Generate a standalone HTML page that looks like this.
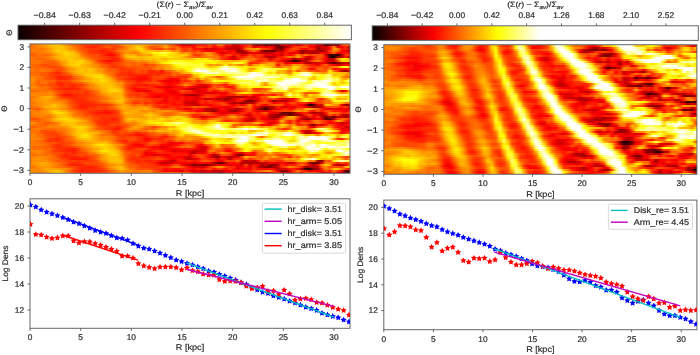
<!DOCTYPE html>
<html><head><meta charset="utf-8"><style>
html,body{margin:0;padding:0;background:#fff;}
#fig{position:relative;width:700px;height:355px;overflow:hidden;background:#fff;font-family:"Liberation Sans", sans-serif;}
svg text{font-family:"Liberation Sans", sans-serif;fill:#262626;stroke:#3a3a3a;stroke-width:0.22px;text-rendering:geometricPrecision;}
</style></head><body><div id="fig">
<div style="position:absolute;left:30.00px;top:43.90px;width:320.00px;height:129.40px;overflow:hidden"><div style="height:2px;background:linear-gradient(90deg,#ff7000 0px,#ff7500 4px,#ff8900 8px,#ff9100 12px,#ff9b00 16px,#ffb400 20px,#ffc400 24px,#ffc100 28px,#ffb800 32px,#ff9700 36px,#ff7c00 40px,#ff6500 44px,#ff5200 48px,#ff4800 52px,#ff3400 56px,#ff3100 60px,#ff2800 64px,#ff2700 68px,#ff3300 72px,#ff4600 76px,#ff4000 80px,#ff4b00 84px,#ff5800 88px,#ff7800 92px,#ffa000 96px,#ff9c00 100px,#ffa600 104px,#ffb200 108px,#ffaa00 112px,#ffa400 116px,#ff8500 120px,#ff7300 124px,#ff6e00 128px,#ff7e00 132px,#ff9000 136px,#ff6000 140px,#ff4600 144px,#ff0f00 148px,#da0000 152px,#dd0000 156px,#d70000 160px,#f60000 164px,#ff1c00 168px,#ff1500 172px,#ff1f00 176px,#ff4b00 180px,#ff0d00 184px,#ff6a00 188px,#ff7100 192px,#ff0c00 196px,#ff2300 200px,#b50000 204px,#da0000 208px,#ff0e00 212px,#ff0f00 216px,#ff4400 220px,#b40000 224px,#770000 228px,#ae0000 232px,#5d0000 236px,#890000 240px,#890000 244px,#660000 248px,#d60000 252px,#d00000 256px,#d10000 260px,#ff0100 264px,#b80000 268px,#ff0100 272px,#ff3c00 276px,#ff0600 280px,#ff1500 284px,#c50000 288px,#c30000 292px,#490000 296px,#790000 300px,#9b0000 304px,#810000 308px,#ff3400 312px,#ff5500 316px,#ff5c00 320px)"></div>
<div style="height:2px;background:linear-gradient(90deg,#ff6e00 0px,#ff7200 4px,#ff8400 8px,#ff8a00 12px,#ff9500 16px,#ffb200 20px,#ffc000 24px,#ffc500 28px,#ffc800 32px,#ffac00 36px,#ff9c00 40px,#ff7600 44px,#ff6300 48px,#ff4b00 52px,#ff3000 56px,#ff2700 60px,#ff1c00 64px,#ff3700 68px,#ff4000 72px,#ff5600 76px,#ff5a00 80px,#ff4000 84px,#ff4800 88px,#ff5900 92px,#ff7d00 96px,#ffa100 100px,#ffb100 104px,#ffd100 108px,#ffc100 112px,#ff8800 116px,#ff5c00 120px,#ff5300 124px,#ff6200 128px,#ff7900 132px,#ffb100 136px,#ff6e00 140px,#ff5b00 144px,#ff6900 148px,#ff1900 152px,#ff1f00 156px,#ff2900 160px,#ff0300 164px,#ff4900 168px,#ff4a00 172px,#ff2800 176px,#ff4100 180px,#ff0400 184px,#ff1800 188px,#ff3400 192px,#de0000 196px,#d70000 200px,#cd0000 204px,#c60000 208px,#f00000 212px,#ff3c00 216px,#ff5400 220px,#e30000 224px,#ff0c00 228px,#ff1200 232px,#f40000 236px,#ff0d00 240px,#d70000 244px,#680000 248px,#710000 252px,#b60000 256px,#dc0000 260px,#ff3600 264px,#ff3700 268px,#ff4300 272px,#ff5000 276px,#ff0d00 280px,#f00000 284px,#a10000 288px,#e30000 292px,#d30000 296px,#ff1100 300px,#ff9500 304px,#e20000 308px,#fa0000 312px,#ff2c00 316px,#9e0000 320px)"></div>
<div style="height:2px;background:linear-gradient(90deg,#ff7500 0px,#ff7600 4px,#ff7d00 8px,#ff7800 12px,#ff8400 16px,#ff9a00 20px,#ffb600 24px,#ffc500 28px,#ffc500 32px,#ffb500 36px,#ff9700 40px,#ff8400 44px,#ff6800 48px,#ff4d00 52px,#ff4900 56px,#ff3500 60px,#ff3300 64px,#ff4000 68px,#ff2f00 72px,#ff3300 76px,#ff4700 80px,#ff3400 84px,#ff5600 88px,#ff6d00 92px,#ff7d00 96px,#ffab00 100px,#ffb200 104px,#ffd600 108px,#ffd900 112px,#ff9d00 116px,#ff6800 120px,#ff4b00 124px,#ff4600 128px,#ff4600 132px,#ff7b00 136px,#ff5100 140px,#ff3b00 144px,#ff8200 148px,#ff4500 152px,#ff3500 156px,#ff5600 160px,#ff0800 164px,#ff1a00 168px,#ff0900 172px,#d10000 176px,#e60000 180px,#d80000 184px,#f10000 188px,#ff0200 192px,#d70000 196px,#bf0000 200px,#ce0000 204px,#b30000 208px,#dd0000 212px,#ff6c00 216px,#ff9800 220px,#ff8c00 224px,#ffaf00 228px,#ff4300 232px,#ff3e00 236px,#ff2a00 240px,#c30000 244px,#9d0000 248px,#790000 252px,#f00000 256px,#ff2b00 260px,#ff5200 264px,#ff4200 268px,#ff0600 272px,#f30000 276px,#ff2d00 280px,#ff1600 284px,#9c0000 288px,#c00000 292px,#d10000 296px,#ff0400 300px,#ffa600 304px,#ff7f00 308px,#ff0e00 312px,#ff2f00 316px,#c00000 320px)"></div>
<div style="height:2px;background:linear-gradient(90deg,#ff8100 0px,#ff8000 4px,#ff7c00 8px,#ff7900 12px,#ff8d00 16px,#ff9e00 20px,#ffbb00 24px,#ffd500 28px,#ffc700 32px,#ffc700 36px,#ffab00 40px,#ffa500 44px,#ff7c00 48px,#ff5a00 52px,#ff4f00 56px,#ff3200 60px,#ff3000 64px,#ff2600 68px,#ff1900 72px,#ff1f00 76px,#ff3400 80px,#ff4000 84px,#ff7000 88px,#ff8200 92px,#ff9100 96px,#ffa100 100px,#ff8f00 104px,#ffb100 108px,#ffd700 112px,#ffc300 116px,#ffc900 120px,#ffbb00 124px,#ffac00 128px,#ffb900 132px,#ffca00 136px,#ffaf00 140px,#ff7f00 144px,#ff9f00 148px,#ff4600 152px,#ff3000 156px,#ff5500 160px,#ff3200 164px,#ff4600 168px,#ff1c00 172px,#ff0600 176px,#e60000 180px,#fe0000 184px,#ff0400 188px,#ff0a00 192px,#ff1800 196px,#e80000 200px,#ff0700 204px,#960000 208px,#9f0000 212px,#f30000 216px,#ff3d00 220px,#ff7500 224px,#ff2f00 228px,#a10000 232px,#7c0000 236px,#750000 240px,#5e0000 244px,#b60000 248px,#b80000 252px,#ff1100 256px,#ff3d00 260px,#ff3100 264px,#e70000 268px,#950000 272px,#ae0000 276px,#cb0000 280px,#c40000 284px,#aa0000 288px,#960000 292px,#d40000 296px,#ff3c00 300px,#ff8000 304px,#ff6600 308px,#fa0000 312px,#f30000 316px,#b50000 320px)"></div>
<div style="height:2px;background:linear-gradient(90deg,#ff6400 0px,#ff6a00 4px,#ff7500 8px,#ff7900 12px,#ff8300 16px,#ff8c00 20px,#ffa100 24px,#ffbe00 28px,#ffc300 32px,#ffdb00 36px,#ffcf00 40px,#ffc200 44px,#ff9900 48px,#ff6c00 52px,#ff5000 56px,#ff3b00 60px,#ff3600 64px,#ff2d00 68px,#ff2c00 72px,#ff2100 76px,#ff1700 80px,#ff2d00 84px,#ff4a00 88px,#ff6d00 92px,#ff9500 96px,#ff8600 100px,#ff8100 104px,#ff7f00 108px,#ffb100 112px,#ffc100 116px,#ffd200 120px,#ffff04 124px,#ffff04 128px,#ffff48 132px,#ffff37 136px,#fff200 140px,#ffdc00 144px,#ffc000 148px,#ff8700 152px,#ff9f00 156px,#ff8300 160px,#ff4700 164px,#ff7600 168px,#ff5900 172px,#ff9a00 176px,#ff8d00 180px,#ff5e00 184px,#ff1400 188px,#d30000 192px,#f50000 196px,#ff0c00 200px,#ff1800 204px,#d60000 208px,#b30000 212px,#a30000 216px,#ed0000 220px,#f50000 224px,#e90000 228px,#ca0000 232px,#bd0000 236px,#c80000 240px,#e60000 244px,#ff0f00 248px,#da0000 252px,#ff1c00 256px,#f20000 260px,#e90000 264px,#f50000 268px,#8d0000 272px,#d30000 276px,#b60000 280px,#a80000 284px,#d20000 288px,#ff0500 292px,#e80000 296px,#ff2000 300px,#ff5d00 304px,#e10000 308px,#ff0000 312px,#ff1e00 316px,#f80000 320px)"></div>
<div style="height:2px;background:linear-gradient(90deg,#ff5c00 0px,#ff6000 4px,#ff7000 8px,#ff6d00 12px,#ff6700 16px,#ff7300 20px,#ff8f00 24px,#ffad00 28px,#ffb900 32px,#ffd500 36px,#ffcc00 40px,#ffc300 44px,#ffb400 48px,#ff7d00 52px,#ff6600 56px,#ff5200 60px,#ff4c00 64px,#ff4d00 68px,#ff3000 72px,#ff1900 76px,#fc0000 80px,#ff0f00 84px,#ff3600 88px,#ff7600 92px,#ffb500 96px,#ffad00 100px,#ffb700 104px,#ff8b00 108px,#ff9700 112px,#ffab00 116px,#ff9800 120px,#ffda00 124px,#ffe600 128px,#fffa00 132px,#fffb00 136px,#ffd900 140px,#ffd900 144px,#ffc600 148px,#ffcf00 152px,#ffc700 156px,#ff9900 160px,#ff3f00 164px,#ff3300 168px,#ff5800 172px,#ff7d00 176px,#ffa600 180px,#ff7500 184px,#ff5000 188px,#ff0c00 192px,#ff4300 196px,#ff4a00 200px,#ff0a00 204px,#ff3000 208px,#e60000 212px,#ff0700 216px,#ff4e00 220px,#ff1c00 224px,#ff4300 228px,#ff2d00 232px,#e60000 236px,#f50000 240px,#d70000 244px,#ff0100 248px,#cb0000 252px,#ff1e00 256px,#ff0200 260px,#ff2900 264px,#ff8d00 268px,#ff4500 272px,#ff7c00 276px,#ff3b00 280px,#ff5300 284px,#ff4b00 288px,#ff5900 292px,#d00000 296px,#360000 300px,#3a0000 304px,#2a0000 308px,#ac0000 312px,#ff3400 316px,#ff3e00 320px)"></div>
<div style="height:2px;background:linear-gradient(90deg,#ff7300 0px,#ff6700 4px,#ff7000 8px,#ff7000 12px,#ff7700 16px,#ff8a00 20px,#ffa100 24px,#ffb500 28px,#ffba00 32px,#ffcd00 36px,#ffc500 40px,#ffc200 44px,#ffba00 48px,#ff8d00 52px,#ff7600 56px,#ff5c00 60px,#ff4a00 64px,#ff4e00 68px,#ff3a00 72px,#ff3100 76px,#ff2700 80px,#ff2100 84px,#ff3d00 88px,#ff7200 92px,#ffb100 96px,#ffc800 100px,#ffcb00 104px,#ffb700 108px,#ffb700 112px,#ffc100 116px,#ffc700 120px,#ffd700 124px,#ffdd00 128px,#ffd700 132px,#ffe200 136px,#ffea00 140px,#ffe000 144px,#ffcf00 148px,#ffc500 152px,#ff9b00 156px,#ff7a00 160px,#ff6400 164px,#ff5000 168px,#ff6e00 172px,#ff7800 176px,#ff8100 180px,#ff7700 184px,#ff7400 188px,#ff2c00 192px,#ff3300 196px,#ff0800 200px,#be0000 204px,#ff2c00 208px,#ff1900 212px,#ff3f00 216px,#ff6b00 220px,#ff3a00 224px,#ff3800 228px,#ff2600 232px,#cf0000 236px,#b30000 240px,#b80000 244px,#ff1500 248px,#ff1c00 252px,#ff5300 256px,#ff8600 260px,#ff5e00 264px,#ffab00 268px,#ff5800 272px,#ee0000 276px,#d40000 280px,#ff1d00 284px,#ff5b00 288px,#ff4b00 292px,#ff0100 296px,#380000 300px,#150000 304px,#9a0000 308px,#bc0000 312px,#ff2300 316px,#aa0000 320px)"></div>
<div style="height:2px;background:linear-gradient(90deg,#ff7e00 0px,#ff6d00 4px,#ff6300 8px,#ff6400 12px,#ff6800 16px,#ff7d00 20px,#ff8d00 24px,#ffaa00 28px,#ffbe00 32px,#ffbe00 36px,#ffd000 40px,#ffc100 44px,#ffb800 48px,#ffb100 52px,#ff8f00 56px,#ff7300 60px,#ff5c00 64px,#ff4b00 68px,#ff4000 72px,#ff3900 76px,#ff2800 80px,#ff1e00 84px,#ff2500 88px,#ff4d00 92px,#ff8e00 96px,#ffa400 100px,#ffb100 104px,#ffbf00 108px,#ffab00 112px,#ffbd00 116px,#ffcb00 120px,#ffbd00 124px,#ffd000 128px,#ffba00 132px,#ffb400 136px,#ffce00 140px,#ffcb00 144px,#ffca00 148px,#ffc300 152px,#ffc000 156px,#ffba00 160px,#ffcb00 164px,#fff100 168px,#ffd300 172px,#ffe700 176px,#ffbc00 180px,#ff8c00 184px,#ff7300 188px,#ff3300 192px,#ff2400 196px,#f30000 200px,#d10000 204px,#ff0b00 208px,#ff4f00 212px,#ff7a00 216px,#ff6900 220px,#ff7c00 224px,#ff3b00 228px,#ff3200 232px,#ff4200 236px,#cb0000 240px,#ff1500 244px,#ff4000 248px,#ff1400 252px,#ff0600 256px,#ff0500 260px,#990000 264px,#d30000 268px,#fa0000 272px,#a40000 276px,#c60000 280px,#ff2e00 284px,#ff5600 288px,#ff2e00 292px,#fe0000 296px,#b10000 300px,#c70000 304px,#ff8b00 308px,#ffe700 312px,#ffeb00 316px,#ff9a00 320px)"></div>
<div style="height:2px;background:linear-gradient(90deg,#ff7e00 0px,#ff7700 4px,#ff7500 8px,#ff7000 12px,#ff6500 16px,#ff6200 20px,#ff6300 24px,#ff8200 28px,#ffa600 32px,#ffad00 36px,#ffd200 40px,#ffc800 44px,#ffc900 48px,#ffda00 52px,#ffb400 56px,#ff9900 60px,#ff7400 64px,#ff4200 68px,#ff2700 72px,#ff1000 76px,#ff0b00 80px,#ff1a00 84px,#ff2300 88px,#ff4500 92px,#ff6d00 96px,#ff7300 100px,#ff8000 104px,#ff9300 108px,#ff8800 112px,#ff9600 116px,#ffa800 120px,#ffab00 124px,#ffc800 128px,#ffd100 132px,#ffd200 136px,#fff800 140px,#ffff12 144px,#ffff0b 148px,#ffff17 152px,#fff400 156px,#fff100 160px,#ffea00 164px,#ffff00 168px,#ffff07 172px,#ffff06 176px,#ffff06 180px,#ffee00 184px,#ffe500 188px,#ffc500 192px,#ffac00 196px,#ffb700 200px,#ffa400 204px,#ffb200 208px,#ffd200 212px,#ffcd00 216px,#ff7100 220px,#ff5500 224px,#ff2c00 228px,#ff1f00 232px,#ff4e00 236px,#ff2500 240px,#ff3c00 244px,#ff2100 248px,#f40000 252px,#bf0000 256px,#970000 260px,#330000 264px,#4c0000 268px,#ac0000 272px,#c10000 276px,#ff1700 280px,#ff5f00 284px,#ff8700 288px,#ff4300 292px,#e00000 296px,#d90000 300px,#c90000 304px,#ff3d00 308px,#ffd600 312px,#ffc800 316px,#ffda00 320px)"></div>
<div style="height:2px;background:linear-gradient(90deg,#ff7600 0px,#ff7400 4px,#ff7500 8px,#ff6500 12px,#ff6000 16px,#ff5f00 20px,#ff5c00 24px,#ff6f00 28px,#ff9100 32px,#ffa700 36px,#ffc400 40px,#ffca00 44px,#ffd800 48px,#ffd000 52px,#ffb900 56px,#ffaa00 60px,#ff8400 64px,#ff5d00 68px,#ff4700 72px,#ff3100 76px,#ff2b00 80px,#ff3c00 84px,#ff4400 88px,#ff5100 92px,#ff6600 96px,#ff6600 100px,#ff5f00 104px,#ff7400 108px,#ff6b00 112px,#ff6500 116px,#ff8a00 120px,#ff8c00 124px,#ffae00 128px,#ffe300 132px,#fff500 136px,#ffff1f 140px,#ffff64 144px,#ffff54 148px,#ffff4b 152px,#ffff31 156px,#ffff31 160px,#ffff0b 164px,#fffb00 168px,#ffff39 172px,#ffe600 176px,#ffec00 180px,#ffff00 184px,#ffd800 188px,#ffd800 192px,#ffd700 196px,#ffd800 200px,#ffff27 204px,#ffff30 208px,#ffff0b 212px,#ffc000 216px,#ff1e00 220px,#ff2700 224px,#ff3200 228px,#ff6d00 232px,#ff8300 236px,#ff9f00 240px,#ff8f00 244px,#ff3d00 248px,#ff5000 252px,#e70000 256px,#ff0300 260px,#ff0200 264px,#f00000 268px,#ff1500 272px,#b70000 276px,#b80000 280px,#d80000 284px,#dc0000 288px,#fb0000 292px,#e50000 296px,#850000 300px,#5a0000 304px,#890000 308px,#a20000 312px,#d10000 316px,#b90000 320px)"></div>
<div style="height:2px;background:linear-gradient(90deg,#ff7300 0px,#ff6700 4px,#ff6000 8px,#ff4f00 12px,#ff4900 16px,#ff5400 20px,#ff5500 24px,#ff6a00 28px,#ff8900 32px,#ffae00 36px,#ffc300 40px,#ffd000 44px,#ffdb00 48px,#ffb800 52px,#ffb000 56px,#ffa000 60px,#ff8a00 64px,#ff8200 68px,#ff5d00 72px,#ff5400 76px,#ff4100 80px,#ff3300 84px,#ff4800 88px,#ff5000 92px,#ff5f00 96px,#ff6f00 100px,#ff5d00 104px,#ff6d00 108px,#ff5c00 112px,#ff3c00 116px,#ff5900 120px,#ff4d00 124px,#ff7400 128px,#ff8e00 132px,#ffa500 136px,#ffb500 140px,#ffef00 144px,#ffff14 148px,#ffff3c 152px,#ffff3b 156px,#ffff31 160px,#ffff39 164px,#ffff23 168px,#ffff50 172px,#ffcd00 176px,#ff8f00 180px,#ffa300 184px,#ff9300 188px,#ffb300 192px,#ffff08 196px,#ff9300 200px,#ffba00 204px,#ff8c00 208px,#ff7800 212px,#ffad00 216px,#ff3b00 220px,#ffa300 224px,#ffa100 228px,#ffde00 232px,#ffb000 236px,#ffab00 240px,#ffa200 244px,#fa0000 248px,#ff7900 252px,#ff3b00 256px,#ff5100 260px,#ffa100 264px,#ff8e00 268px,#ff8200 272px,#ff4500 276px,#ff1e00 280px,#ff1500 284px,#ec0000 288px,#ff3300 292px,#ff6900 296px,#ff1a00 300px,#fb0000 304px,#d10000 308px,#d80000 312px,#ff1200 316px,#ff0200 320px)"></div>
<div style="height:2px;background:linear-gradient(90deg,#ff6800 0px,#ff6300 4px,#ff6100 8px,#ff5e00 12px,#ff5600 16px,#ff4700 20px,#ff4200 24px,#ff4c00 28px,#ff5800 32px,#ff8c00 36px,#ffa700 40px,#ffb600 44px,#ffc600 48px,#ffb800 52px,#ffb500 56px,#ffa800 60px,#ff9800 64px,#ff8800 68px,#ff6800 72px,#ff5900 76px,#ff4100 80px,#ff2e00 84px,#ff3a00 88px,#ff3c00 92px,#ff4b00 96px,#ff5900 100px,#ff5000 104px,#ff5800 108px,#ff5a00 112px,#ff4e00 116px,#ff5600 120px,#ff6600 124px,#ff8600 128px,#ff8000 132px,#ff9e00 136px,#ffa700 140px,#ffcc00 144px,#ffef00 148px,#ffff13 152px,#ffff18 156px,#fff700 160px,#ffff2c 164px,#ffff44 168px,#ffff46 172px,#fff100 176px,#ffc400 180px,#ffce00 184px,#fff100 188px,#ffff78 192px,#ffffe1 196px,#ffff6b 200px,#ffff54 204px,#ffff00 208px,#ffe600 212px,#fff900 216px,#ffd100 220px,#ffce00 224px,#ffef00 228px,#ffeb00 232px,#ffe300 236px,#ffc900 240px,#ff9300 244px,#ff4a00 248px,#ff7500 252px,#ff9f00 256px,#ff8b00 260px,#ffd900 264px,#ffcf00 268px,#ff8300 272px,#ff6f00 276px,#ff4a00 280px,#ff2a00 284px,#ff4900 288px,#ff4c00 292px,#ff4000 296px,#ff6500 300px,#ff8100 304px,#ff8100 308px,#fffd00 312px,#ffff43 316px,#ffcf00 320px)"></div>
<div style="height:2px;background:linear-gradient(90deg,#ff7e00 0px,#ff7100 4px,#ff6500 8px,#ff7300 12px,#ff6b00 16px,#ff6200 20px,#ff5a00 24px,#ff5000 28px,#ff4e00 32px,#ff7000 36px,#ff8f00 40px,#ff9900 44px,#ffb900 48px,#ffc500 52px,#ffb600 56px,#ffc500 60px,#ffba00 64px,#ff9500 68px,#ff9500 72px,#ff7100 76px,#ff5300 80px,#ff5900 84px,#ff4500 88px,#ff2f00 92px,#ff3c00 96px,#ff3500 100px,#ff4300 104px,#ff5700 108px,#ff5500 112px,#ff5d00 116px,#ff4d00 120px,#ff6a00 124px,#ff8400 128px,#ff7100 132px,#ffa400 136px,#ffa300 140px,#ffbb00 144px,#ffe200 148px,#ffcb00 152px,#fffb00 156px,#ffff13 160px,#ffff69 164px,#ffffc1 168px,#ffff97 172px,#ffff8d 176px,#ffff2e 180px,#ffff1f 184px,#ffff6a 188px,#ffffd7 192px,#ffffff 196px,#ffffab 200px,#ffffea 204px,#ffff79 208px,#ffff31 212px,#ffed00 216px,#ff9e00 220px,#ff9e00 224px,#fff100 228px,#ffff46 232px,#ffff80 236px,#ffff43 240px,#ffff33 244px,#ffff22 248px,#ffeb00 252px,#fff100 256px,#ff9a00 260px,#ffe100 264px,#ffab00 268px,#ff8100 272px,#ff6700 276px,#ff0d00 280px,#ff0d00 284px,#ff6700 288px,#ff6600 292px,#ff4400 296px,#ff8e00 300px,#ff0500 304px,#ff2100 308px,#ff2100 312px,#ff1300 316px,#ff3700 320px)"></div>
<div style="height:2px;background:linear-gradient(90deg,#ff8300 0px,#ff7300 4px,#ff6900 8px,#ff7b00 12px,#ff6d00 16px,#ff6900 20px,#ff5400 24px,#ff3b00 28px,#ff5400 32px,#ff7000 36px,#ff9500 40px,#ffab00 44px,#ffba00 48px,#ffc200 52px,#ffb200 56px,#ffc800 60px,#ffb900 64px,#ff9b00 68px,#ff9300 72px,#ff6f00 76px,#ff6200 80px,#ff6300 84px,#ff4f00 88px,#ff3600 92px,#ff3c00 96px,#ff2e00 100px,#ff4000 104px,#ff5300 108px,#ff3b00 112px,#ff4a00 116px,#ff2400 120px,#ff2900 124px,#ff3d00 128px,#ff1000 132px,#ff5100 136px,#ff6100 140px,#ff7b00 144px,#ffaa00 148px,#ffa600 152px,#ffde00 156px,#ffff0f 160px,#ffffa3 164px,#fffff3 168px,#ffffe9 172px,#ffffff 176px,#ffff89 180px,#ffff5d 184px,#ffff84 188px,#ffff68 192px,#ffffd0 196px,#ffffd9 200px,#fffff6 204px,#ffffaf 208px,#ffff3c 212px,#fff700 216px,#ffaa00 220px,#ffe300 224px,#ffff03 228px,#ffff61 232px,#ffff76 236px,#ffff09 240px,#ffff40 244px,#ffba00 248px,#ffbc00 252px,#ff9900 256px,#ff5d00 260px,#ffc000 264px,#ff4600 268px,#ff9c00 272px,#ff8800 276px,#ff5700 280px,#ff5500 284px,#ff3800 288px,#ff6000 292px,#ff5900 296px,#ffee00 300px,#ff7600 304px,#ff2d00 308px,#af0000 312px,#980000 316px,#f00000 320px)"></div>
<div style="height:2px;background:linear-gradient(90deg,#ff6400 0px,#ff6a00 4px,#ff6500 8px,#ff5c00 12px,#ff5b00 16px,#ff4300 20px,#ff3500 24px,#ff2100 28px,#ff3900 32px,#ff5800 36px,#ff7900 40px,#ffa000 44px,#ffb300 48px,#ffb900 52px,#ffbc00 56px,#ffc600 60px,#ffb900 64px,#ffac00 68px,#ff9d00 72px,#ff7c00 76px,#ff6e00 80px,#ff6000 84px,#ff4500 88px,#ff3100 92px,#ff3000 96px,#ff2400 100px,#ff3300 104px,#ff4a00 108px,#ff4200 112px,#ff4000 116px,#ff2400 120px,#ff2700 124px,#ff2600 128px,#ff1c00 132px,#ff3800 136px,#ff3f00 140px,#ff6700 144px,#ff6700 148px,#ff9b00 152px,#ffae00 156px,#ffc100 160px,#ffff24 164px,#ffff35 168px,#ffff6f 172px,#ffffb7 176px,#ffffc5 180px,#ffffb8 184px,#ffffb3 188px,#ffff49 192px,#ffff70 196px,#ffffa4 200px,#ffff83 204px,#ffffb7 208px,#ffff7a 212px,#ffff5b 216px,#ffffa3 220px,#ffffff 224px,#ffffc2 228px,#ffff99 232px,#ffff1a 236px,#ffd400 240px,#fffd00 244px,#ffa300 248px,#ffc900 252px,#ff9f00 256px,#ff7300 260px,#ffef00 264px,#fffe00 268px,#ffff99 272px,#ffffd1 276px,#ffff6e 280px,#ffc600 284px,#ffb500 288px,#ff9000 292px,#ff9300 296px,#ffec00 300px,#ffce00 304px,#ffc100 308px,#ffb300 312px,#ffaf00 316px,#ff7300 320px)"></div>
<div style="height:2px;background:linear-gradient(90deg,#ff7200 0px,#ff6d00 4px,#ff6d00 8px,#ff5700 12px,#ff5900 16px,#ff4100 20px,#ff3b00 24px,#ff3100 28px,#ff3a00 32px,#ff4f00 36px,#ff5100 40px,#ff8300 44px,#ff9800 48px,#ffaa00 52px,#ffca00 56px,#ffcf00 60px,#ffd600 64px,#ffd500 68px,#ffd200 72px,#ffa000 76px,#ff7800 80px,#ff5f00 84px,#ff3200 88px,#ff2f00 92px,#ff3200 96px,#ff1e00 100px,#ff2300 104px,#ff2500 108px,#ff2400 112px,#ff1800 116px,#ff1e00 120px,#ff3800 124px,#ff2900 128px,#ff3e00 132px,#ff4400 136px,#ff3f00 140px,#ff7000 144px,#ff4900 148px,#ff5400 152px,#ff4d00 156px,#ff4c00 160px,#ffbc00 164px,#ffd100 168px,#ffff05 172px,#ffff22 176px,#ffff25 180px,#ffff33 184px,#ffff1d 188px,#fff900 192px,#ffff05 196px,#ffff1f 200px,#ffff4e 204px,#ffff61 208px,#ffff65 212px,#ffff86 216px,#ffffff 220px,#ffffff 224px,#ffffff 228px,#ffffff 232px,#ffff49 236px,#ffff53 240px,#ffff61 244px,#ffff3f 248px,#ffff54 252px,#ffff10 256px,#ffba00 260px,#ffff12 264px,#ffff7c 268px,#ffffcd 272px,#ffffff 276px,#ffffe6 280px,#ffff0d 284px,#ffff68 288px,#fff900 292px,#ffff4c 296px,#ffff73 300px,#ffb800 304px,#ffc900 308px,#ffcb00 312px,#ff8c00 316px,#ffa300 320px)"></div>
<div style="height:2px;background:linear-gradient(90deg,#ff8b00 0px,#ff8400 4px,#ff7c00 8px,#ff7200 12px,#ff5800 16px,#ff4600 20px,#ff3800 24px,#ff1c00 28px,#ff1e00 32px,#ff2c00 36px,#ff2e00 40px,#ff6100 44px,#ff7100 48px,#ff8700 52px,#ffab00 56px,#ffba00 60px,#ffd200 64px,#ffe300 68px,#ffdb00 72px,#ffb700 76px,#ff9a00 80px,#ff6900 84px,#ff4d00 88px,#ff4b00 92px,#ff3f00 96px,#ff2f00 100px,#ff2300 104px,#ff1500 108px,#ff0a00 112px,#ff1100 116px,#ff2300 120px,#ff4700 124px,#ff4700 128px,#ff4a00 132px,#ff4400 136px,#ff2500 140px,#ff4400 144px,#ff3000 148px,#ff3200 152px,#ff2e00 156px,#ff5700 160px,#ffa100 164px,#ffb700 168px,#ffff0f 172px,#ffc900 176px,#ffb300 180px,#ff9300 184px,#ff5b00 188px,#ff7500 192px,#ffb600 196px,#ffff1e 200px,#ffff95 204px,#ffffe0 208px,#fffffe 212px,#ffffe3 216px,#fffffb 220px,#ffffea 224px,#ffffa7 228px,#ffffbc 232px,#ffffa5 236px,#ffffc4 240px,#ffffae 244px,#ffff93 248px,#ffff4c 252px,#ffff51 256px,#ffff11 260px,#ffff52 264px,#ffff6c 268px,#ffff30 272px,#ffff8e 276px,#ffff05 280px,#ffb300 284px,#ffff1b 288px,#ffff0c 292px,#ffff4e 296px,#ffff78 300px,#ffdf00 304px,#ffe900 308px,#ff9a00 312px,#ff6700 316px,#ff6500 320px)"></div>
<div style="height:2px;background:linear-gradient(90deg,#ff8900 0px,#ff8800 4px,#ff6e00 8px,#ff6c00 12px,#ff5500 16px,#ff4600 20px,#ff4800 24px,#ff2100 28px,#ff2200 32px,#ff2a00 36px,#ff3400 40px,#ff5500 44px,#ff6900 48px,#ff8500 52px,#ff9c00 56px,#ffae00 60px,#ffbf00 64px,#ffcb00 68px,#ffd800 72px,#ffc900 76px,#ffb500 80px,#ff8300 84px,#ff5400 88px,#ff3e00 92px,#ff2c00 96px,#ff2100 100px,#ff1900 104px,#ff0b00 108px,#ff0900 112px,#ff0700 116px,#ff1a00 120px,#ff4200 124px,#ff3700 128px,#ff4000 132px,#ff2000 136px,#fe0000 140px,#fe0000 144px,#ff0400 148px,#ff4200 152px,#ff3c00 156px,#ff9200 160px,#ff9600 164px,#ff6000 168px,#ffc200 172px,#ff8d00 176px,#ffbd00 180px,#ffda00 184px,#ffb800 188px,#ff8f00 192px,#ffb600 196px,#ffda00 200px,#ffef00 204px,#ffff98 208px,#ffff8e 212px,#ffffbd 216px,#ffffc1 220px,#ffff9a 224px,#ffff72 228px,#ffff94 232px,#ffffb3 236px,#ffff59 240px,#ffff4f 244px,#ffff14 248px,#ffff04 252px,#ffffb3 256px,#ffff97 260px,#ffffff 264px,#ffffff 268px,#ffff85 272px,#ffff7c 276px,#ffd100 280px,#ffbd00 284px,#fff400 288px,#ffff21 292px,#ffff87 296px,#ffffb1 300px,#ffff50 304px,#ffff55 308px,#ffc100 312px,#ffa300 316px,#fffd00 320px)"></div>
<div style="height:2px;background:linear-gradient(90deg,#ff9100 0px,#ff8a00 4px,#ff6300 8px,#ff7100 12px,#ff6d00 16px,#ff5e00 20px,#ff6100 24px,#ff3900 28px,#ff4500 32px,#ff4300 36px,#ff4c00 40px,#ff6c00 44px,#ff7a00 48px,#ff9a00 52px,#ffab00 56px,#ffb100 60px,#ffc300 64px,#ffc400 68px,#ffe000 72px,#ffd400 76px,#ffb800 80px,#ff9f00 84px,#ff6f00 88px,#ff6100 92px,#ff4600 96px,#ff3600 100px,#ff3300 104px,#ff1100 108px,#ff1200 112px,#ff2300 116px,#ff2100 120px,#ff4c00 124px,#ff2700 128px,#ff0400 132px,#ef0000 136px,#ed0000 140px,#f80000 144px,#ee0000 148px,#ff2f00 152px,#ff2300 156px,#ff4400 160px,#ff6e00 164px,#ff2100 168px,#ff5700 172px,#ff8800 176px,#ffa300 180px,#ffff1b 184px,#ffff05 188px,#ffff03 192px,#fff000 196px,#fff200 200px,#ffff21 204px,#ffff27 208px,#ffff25 212px,#ffff3f 216px,#ffff3c 220px,#ffff63 224px,#ffffe2 228px,#ffffa9 232px,#ffffb5 236px,#ffff7d 240px,#ffff68 244px,#ffff5f 248px,#ffff83 252px,#ffffff 256px,#ffffe5 260px,#ffffff 264px,#ffffff 268px,#ffffe2 272px,#ffffc0 276px,#fffe00 280px,#ffffb9 284px,#ffffa5 288px,#ffffc9 292px,#ffffff 296px,#ffffce 300px,#ffff5e 304px,#ffff36 308px,#ffcd00 312px,#ffff04 316px,#ffffdb 320px)"></div>
<div style="height:2px;background:linear-gradient(90deg,#ff8700 0px,#ff7e00 4px,#ff5f00 8px,#ff7300 12px,#ff7300 16px,#ff5300 20px,#ff5400 24px,#ff2500 28px,#ff2600 32px,#ff3a00 36px,#ff3300 40px,#ff4d00 44px,#ff5700 48px,#ff5c00 52px,#ff7f00 56px,#ff9000 60px,#ffae00 64px,#ffbf00 68px,#ffcb00 72px,#ffc300 76px,#ffbd00 80px,#ffb000 84px,#ff9600 88px,#ff9300 92px,#ff5600 96px,#ff4900 100px,#ff4100 104px,#ff2100 108px,#ff3200 112px,#ff4600 116px,#ff4c00 120px,#ff5100 124px,#ff5200 128px,#ff2900 132px,#ff0700 136px,#ff0000 140px,#ff0d00 144px,#ff0d00 148px,#ff3d00 152px,#ff5e00 156px,#ff4f00 160px,#ff5b00 164px,#ff3900 168px,#ff4900 172px,#ff6c00 176px,#ff7e00 180px,#ffab00 184px,#ffac00 188px,#ff9800 192px,#ff6500 196px,#ffc700 200px,#fff100 204px,#ffff1d 208px,#ffff81 212px,#ffff5e 216px,#ffff5c 220px,#ffff16 224px,#ffff86 228px,#ffd500 232px,#ffa100 236px,#ffff38 240px,#ffff67 244px,#fffff1 248px,#ffffff 252px,#fffff8 256px,#ffffdd 260px,#ffffff 264px,#ffffb4 268px,#ffff7e 272px,#ffff23 276px,#ffff1a 280px,#ffffac 284px,#ffffff 288px,#ffffd5 292px,#ffffe5 296px,#ffff40 300px,#ffc700 304px,#fff800 308px,#ffbe00 312px,#ffdf00 316px,#ffff04 320px)"></div>
<div style="height:2px;background:linear-gradient(90deg,#ff8900 0px,#ff7900 4px,#ff6200 8px,#ff5900 12px,#ff5d00 16px,#ff4300 20px,#ff4700 24px,#ff3000 28px,#ff2000 32px,#ff3c00 36px,#ff2a00 40px,#ff2600 44px,#ff3800 48px,#ff3700 52px,#ff5900 56px,#ff8000 60px,#ff8e00 64px,#ffab00 68px,#ffc000 72px,#ffc000 76px,#ffc500 80px,#ffb400 84px,#ff9a00 88px,#ff8900 92px,#ff4e00 96px,#ff3f00 100px,#ff2300 104px,#ff1900 108px,#ff2000 112px,#ff0c00 116px,#ff2700 120px,#ff1f00 124px,#ff3400 128px,#ff3000 132px,#ff1200 136px,#ff0200 140px,#ff0c00 144px,#ff3400 148px,#ff5700 152px,#ff9800 156px,#ff6b00 160px,#ff3900 164px,#ff0300 168px,#f00000 172px,#e50000 176px,#ff1000 180px,#ff4f00 184px,#ff3b00 188px,#ff2b00 192px,#ff1500 196px,#ff5c00 200px,#ff5800 204px,#ffb900 208px,#fffb00 212px,#fff700 216px,#ffff51 220px,#ffff37 224px,#ffff49 228px,#ffc400 232px,#ff8500 236px,#ffe700 240px,#fffa00 244px,#ffff9f 248px,#ffffff 252px,#ffffe5 256px,#ffffcc 260px,#ffffa5 264px,#ffff90 268px,#ffff50 272px,#ffff89 276px,#ffffc5 280px,#fffff8 284px,#ffffff 288px,#ffffff 292px,#fffff7 296px,#ffff6c 300px,#ffd100 304px,#ffe800 308px,#ffff08 312px,#ffff26 316px,#ffff72 320px)"></div>
<div style="height:2px;background:linear-gradient(90deg,#ff8f00 0px,#ff8b00 4px,#ff7d00 8px,#ff6900 12px,#ff7400 16px,#ff5f00 20px,#ff4a00 24px,#ff3c00 28px,#ff2e00 32px,#ff3500 36px,#ff3000 40px,#ff2600 44px,#ff3900 48px,#ff4b00 52px,#ff6700 56px,#ff8800 60px,#ff9000 64px,#ffa300 68px,#ffba00 72px,#ffc000 76px,#ffc800 80px,#ffbb00 84px,#ffb000 88px,#ff8900 92px,#ff4c00 96px,#ff2f00 100px,#ff1800 104px,#ff2c00 108px,#ff2e00 112px,#ff2e00 116px,#ff2900 120px,#ff1b00 124px,#ff0400 128px,#f00000 132px,#e50000 136px,#dc0000 140px,#ff0000 144px,#ff0f00 148px,#ff1a00 152px,#ff3200 156px,#ff0500 160px,#e90000 164px,#d70000 168px,#d00000 172px,#c70000 176px,#ff1200 180px,#ff6600 184px,#ff3e00 188px,#ff5800 192px,#ff1c00 196px,#ff0e00 200px,#ff2700 204px,#ffa900 208px,#ffdb00 212px,#ffd900 216px,#ffff05 220px,#fff000 224px,#fff300 228px,#ffe000 232px,#ffff0e 236px,#ffff10 240px,#ffff5e 244px,#ffffb0 248px,#ffffb0 252px,#ffffe9 256px,#ffff4c 260px,#ffff1c 264px,#ffff56 268px,#ffff2c 272px,#ffff9d 276px,#ffffc8 280px,#ffff8b 284px,#ffffc5 288px,#ffffff 292px,#ffffff 296px,#ffffff 300px,#ffffff 304px,#ffff5e 308px,#ffffff 312px,#ffffff 316px,#ffffff 320px)"></div>
<div style="height:2px;background:linear-gradient(90deg,#ff7b00 0px,#ff7900 4px,#ff7500 8px,#ff7100 12px,#ff6f00 16px,#ff5900 20px,#ff4200 24px,#ff2b00 28px,#ff2300 32px,#ff1f00 36px,#ff1d00 40px,#ff2200 44px,#ff2300 48px,#ff4200 52px,#ff5400 56px,#ff7000 60px,#ff8800 64px,#ff9700 68px,#ffaf00 72px,#ffba00 76px,#ffcd00 80px,#ffcc00 84px,#ffc500 88px,#ffa100 92px,#ff5400 96px,#ff2700 100px,#ff1100 104px,#ff0800 108px,#ff0f00 112px,#ff1900 116px,#ff2a00 120px,#ff3100 124px,#ff2a00 128px,#ff1400 132px,#fc0000 136px,#ff0100 140px,#ff0f00 144px,#ff1500 148px,#ff0c00 152px,#f00000 156px,#d50000 160px,#bd0000 164px,#e50000 168px,#f70000 172px,#ff0000 176px,#ff5000 180px,#ff4700 184px,#ff6b00 188px,#ff9600 192px,#ff5e00 196px,#ff4900 200px,#ff1f00 204px,#ff8300 208px,#ff9900 212px,#ff9700 216px,#ffd400 220px,#ff4100 224px,#ff3900 228px,#ff4800 232px,#ff5d00 236px,#ff8300 240px,#ffff2e 244px,#ffff62 248px,#ffff7a 252px,#ffffe2 256px,#ffc900 260px,#ffbd00 264px,#ffdc00 268px,#fffa00 272px,#ffff4e 276px,#ffff9d 280px,#ffff28 284px,#ffff01 288px,#ffff4b 292px,#ffff6a 296px,#ffffff 300px,#ffffc8 304px,#ffff24 308px,#ffff2e 312px,#ffff2a 316px,#ffffff 320px)"></div>
<div style="height:2px;background:linear-gradient(90deg,#ff7100 0px,#ff6700 4px,#ff7100 8px,#ff7600 12px,#ff6e00 16px,#ff7800 20px,#ff5f00 24px,#ff4800 28px,#ff4000 32px,#ff3200 36px,#ff3600 40px,#ff3a00 44px,#ff3800 48px,#ff4700 52px,#ff3500 56px,#ff4b00 60px,#ff6300 64px,#ff7800 68px,#ffa600 72px,#ffb900 76px,#ffd300 80px,#ffd800 84px,#ffd300 88px,#ffb500 92px,#ff6500 96px,#ff4000 100px,#ff1900 104px,#fb0000 108px,#ff0300 112px,#e40000 116px,#ff0a00 120px,#ff2d00 124px,#ff3100 128px,#ff3200 132px,#ff0200 136px,#f70000 140px,#f20000 144px,#ff1200 148px,#ff5a00 152px,#ff3e00 156px,#ff2e00 160px,#fa0000 164px,#da0000 168px,#e80000 172px,#f50000 176px,#ff3300 180px,#ff0900 184px,#ff1700 188px,#ff5a00 192px,#ff3000 196px,#ff5300 200px,#ff4800 204px,#ff4100 208px,#ff7300 212px,#ff8800 216px,#ffbf00 220px,#ff5a00 224px,#ff4a00 228px,#ff7600 232px,#ff6f00 236px,#ffc000 240px,#ffff34 244px,#ffff08 248px,#ffff0f 252px,#ffff29 256px,#ffa800 260px,#ffe000 264px,#ffff15 268px,#ffff26 272px,#ffff10 276px,#ffd500 280px,#ffe600 284px,#fffd00 288px,#ffff38 292px,#ffff93 296px,#ffff56 300px,#ffc500 304px,#ff5600 308px,#e30000 312px,#fe0000 316px,#ffcb00 320px)"></div>
<div style="height:2px;background:linear-gradient(90deg,#ff8300 0px,#ff8100 4px,#ff8800 8px,#ff8300 12px,#ff7c00 16px,#ff9200 20px,#ff7500 24px,#ff5300 28px,#ff4100 32px,#ff2500 36px,#ff2e00 40px,#ff3500 44px,#ff3300 48px,#ff4300 52px,#ff2c00 56px,#ff4100 60px,#ff5900 64px,#ff7100 68px,#ff9b00 72px,#ffa500 76px,#ffb900 80px,#ffb600 84px,#ffb400 88px,#ffac00 92px,#ff6800 96px,#ff4600 100px,#ff3f00 104px,#ff3300 108px,#ff3a00 112px,#ff2600 116px,#ff0c00 120px,#ff1700 124px,#ff1b00 128px,#ff1600 132px,#ff0c00 136px,#f10000 140px,#e90000 144px,#fb0000 148px,#ff2d00 152px,#ff1800 156px,#ff1800 160px,#ff0800 164px,#ea0000 168px,#f10000 172px,#dc0000 176px,#e80000 180px,#df0000 184px,#ed0000 188px,#ff0100 192px,#ed0000 196px,#ff3600 200px,#ff6700 204px,#ffa700 208px,#ffdc00 212px,#fff000 216px,#ffcd00 220px,#ffb200 224px,#ff8700 228px,#ff7200 232px,#ff9600 236px,#ff7700 240px,#ff7600 244px,#ff7200 248px,#ff7500 252px,#ffc400 256px,#ffff05 260px,#ffc300 264px,#ffef00 268px,#ffa100 272px,#ff5500 276px,#ff5600 280px,#ff5a00 284px,#ff7100 288px,#ffff31 292px,#ffffb1 296px,#ffff8e 300px,#ffff42 304px,#ffc400 308px,#ff8f00 312px,#ffa200 316px,#ffeb00 320px)"></div>
<div style="height:2px;background:linear-gradient(90deg,#ff8f00 0px,#ff8800 4px,#ff8800 8px,#ff8600 12px,#ff8400 16px,#ff8f00 20px,#ff7700 24px,#ff4400 28px,#ff2600 32px,#ff1200 36px,#ff1500 40px,#ff2300 44px,#ff2900 48px,#ff3000 52px,#ff3100 56px,#ff3f00 60px,#ff4c00 64px,#ff6800 68px,#ff7f00 72px,#ff9600 76px,#ffae00 80px,#ffac00 84px,#ffb100 88px,#ffb000 92px,#ff6600 96px,#ff3b00 100px,#ff3900 104px,#ff2800 108px,#ff3b00 112px,#ff3300 116px,#ff1600 120px,#ff0500 124px,#fd0000 128px,#fc0000 132px,#ff0800 136px,#ff0900 140px,#ff0000 144px,#ff0000 148px,#e60000 152px,#bd0000 156px,#a90000 160px,#a80000 164px,#b90000 168px,#f70000 172px,#ff2e00 176px,#ff3300 180px,#ff2400 184px,#ff2b00 188px,#fe0000 192px,#ff1200 196px,#ff2c00 200px,#ff1e00 204px,#ff5800 208px,#ff3900 212px,#ff2e00 216px,#ff4700 220px,#f90000 224px,#ff0200 228px,#ff0b00 232px,#ff2700 236px,#ff2b00 240px,#ff0d00 244px,#ff6000 248px,#ff4800 252px,#ffe700 256px,#ffffbd 260px,#ffea00 264px,#ffff38 268px,#ffc100 272px,#ff6800 276px,#ffeb00 280px,#ffc100 284px,#ffd300 288px,#ffff8e 292px,#ffffde 296px,#ffffff 300px,#ffffff 304px,#ffffb0 308px,#ffff78 312px,#ffff75 316px,#ffff53 320px)"></div>
<div style="height:2px;background:linear-gradient(90deg,#ff7700 0px,#ff7600 4px,#ff8c00 8px,#ffa300 12px,#ffb000 16px,#ffaf00 20px,#ff8e00 24px,#ff6300 28px,#ff3800 32px,#ff2e00 36px,#ff2800 40px,#ff2000 44px,#ff3300 48px,#ff3000 52px,#ff3600 56px,#ff4500 60px,#ff4c00 64px,#ff5b00 68px,#ff6600 72px,#ff8100 76px,#ff9800 80px,#ffac00 84px,#ffb800 88px,#ffbb00 92px,#ff6f00 96px,#ff4b00 100px,#ff4a00 104px,#ff3300 108px,#ff4400 112px,#ff2200 116px,#ff1300 120px,#fd0000 124px,#ea0000 128px,#ff0a00 132px,#fc0000 136px,#ff1700 140px,#ff1300 144px,#fe0000 148px,#ff1b00 152px,#f40000 156px,#fa0000 160px,#f20000 164px,#d80000 168px,#ff2300 172px,#ff3f00 176px,#ff3a00 180px,#ff2c00 184px,#ff0500 188px,#ea0000 192px,#d50000 196px,#b10000 200px,#b90000 204px,#bf0000 208px,#b10000 212px,#d60000 216px,#f00000 220px,#c30000 224px,#ff0300 228px,#ff4b00 232px,#ff4f00 236px,#ffb800 240px,#ffcc00 244px,#ffb900 248px,#ff8600 252px,#ff9900 256px,#fff700 260px,#ffcc00 264px,#ffff01 268px,#ffdf00 272px,#ff8700 276px,#ffc400 280px,#ffaf00 284px,#ffc300 288px,#ffdb00 292px,#ffff26 296px,#ffffae 300px,#ffff67 304px,#ffde00 308px,#ffe100 312px,#ffcc00 316px,#ffff0f 320px)"></div>
<div style="height:2px;background:linear-gradient(90deg,#ff7a00 0px,#ff8200 4px,#ff9100 8px,#ffa000 12px,#ffa700 16px,#ff9d00 20px,#ff8400 24px,#ff6d00 28px,#ff5a00 32px,#ff5000 36px,#ff3d00 40px,#ff2d00 44px,#ff2900 48px,#ff2b00 52px,#ff3600 56px,#ff4700 60px,#ff4f00 64px,#ff5800 68px,#ff6d00 72px,#ff7400 76px,#ff8800 80px,#ffa300 84px,#ffaf00 88px,#ffc200 92px,#ff9200 96px,#ff6c00 100px,#ff6800 104px,#ff5700 108px,#ff5200 112px,#ff4800 116px,#ff4400 120px,#ff2900 124px,#ff2b00 128px,#ff2800 132px,#f90000 136px,#ff2300 140px,#ff1000 144px,#fd0000 148px,#ff2500 152px,#fa0000 156px,#ff0e00 160px,#f30000 164px,#de0000 168px,#ff0600 172px,#c70000 176px,#d50000 180px,#e00000 184px,#af0000 188px,#b70000 192px,#a20000 196px,#a70000 200px,#df0000 204px,#ff0d00 208px,#ff2c00 212px,#ff0800 216px,#d90000 220px,#e50000 224px,#e90000 228px,#ff3600 232px,#ff3f00 236px,#ff3500 240px,#ff5100 244px,#ff1b00 248px,#f00000 252px,#d30000 256px,#e30000 260px,#ff0400 264px,#ff5800 268px,#ffc600 272px,#fff600 276px,#ffcf00 280px,#ffad00 284px,#ff4b00 288px,#ff1700 292px,#ff6f00 296px,#ffc900 300px,#fffd00 304px,#ffa700 308px,#ffbc00 312px,#ffc100 316px,#ffff25 320px)"></div>
<div style="height:2px;background:linear-gradient(90deg,#ff7d00 0px,#ff8300 4px,#ff9300 8px,#ff9900 12px,#ffa400 16px,#ff9200 20px,#ff8d00 24px,#ff7e00 28px,#ff7d00 32px,#ff7400 36px,#ff4f00 40px,#ff3d00 44px,#ff2b00 48px,#ff2300 52px,#ff2d00 56px,#ff3c00 60px,#ff3c00 64px,#ff5800 68px,#ff7600 72px,#ff7e00 76px,#ff9a00 80px,#ffae00 84px,#ffbf00 88px,#ffc500 92px,#ff8f00 96px,#ff6900 100px,#ff4c00 104px,#ff4400 108px,#ff5000 112px,#ff4400 116px,#ff4800 120px,#ff2c00 124px,#ff1f00 128px,#ff0f00 132px,#f30000 136px,#ff2300 140px,#ff1500 144px,#ff1900 148px,#ff1b00 152px,#e60000 156px,#ea0000 160px,#d00000 164px,#ff0300 168px,#ff2f00 172px,#ff1500 176px,#ff3d00 180px,#ff1100 184px,#ff0b00 188px,#e20000 192px,#c50000 196px,#dd0000 200px,#e00000 204px,#ff2100 208px,#ff0b00 212px,#980000 216px,#710000 220px,#960000 224px,#e10000 228px,#ff3100 232px,#ff4c00 236px,#f20000 240px,#890000 244px,#ce0000 248px,#ab0000 252px,#bf0000 256px,#ef0000 260px,#ff1a00 264px,#ff6d00 268px,#ffd200 272px,#ffff40 276px,#ffd300 280px,#ffa700 284px,#ff3e00 288px,#ff5400 292px,#ff7500 296px,#ff7500 300px,#ffff1c 304px,#ffff0a 308px,#ffff2a 312px,#ffff62 316px,#ffff41 320px)"></div>
<div style="height:2px;background:linear-gradient(90deg,#ff7400 0px,#ff7800 4px,#ff8e00 8px,#ff9200 12px,#ffa400 16px,#ffa100 20px,#ffa000 24px,#ff9d00 28px,#ff8b00 32px,#ff7000 36px,#ff5600 40px,#ff3e00 44px,#ff2f00 48px,#ff2500 52px,#ff2800 56px,#ff2b00 60px,#ff3400 64px,#ff4400 68px,#ff5300 72px,#ff5c00 76px,#ff7200 80px,#ff9000 84px,#ffad00 88px,#ffb400 92px,#ff7d00 96px,#ff6100 100px,#ff3200 104px,#ff3700 108px,#ff5400 112px,#ff2600 116px,#ff3c00 120px,#ff2d00 124px,#ff1500 128px,#ff0f00 132px,#ff0c00 136px,#ff1900 140px,#ff0a00 144px,#ff2100 148px,#ff1700 152px,#cd0000 156px,#d20000 160px,#c50000 164px,#e50000 168px,#ff2900 172px,#ff1200 176px,#ff2a00 180px,#ff2600 184px,#ff3700 188px,#ff4c00 192px,#ff2700 196px,#df0000 200px,#ab0000 204px,#c40000 208px,#890000 212px,#950000 216px,#c20000 220px,#c20000 224px,#ff3400 228px,#ff5200 232px,#ff5500 236px,#ff3e00 240px,#fb0000 244px,#ff1400 248px,#ff2b00 252px,#ff0200 256px,#ff3f00 260px,#ff5100 264px,#ff2000 268px,#ff3100 272px,#ff2900 276px,#d00000 280px,#ff0e00 284px,#ff4200 288px,#ff4400 292px,#ff7800 296px,#ff6b00 300px,#ffb500 304px,#ffcb00 308px,#ffad00 312px,#ff6b00 316px,#ff5a00 320px)"></div>
<div style="height:2px;background:linear-gradient(90deg,#ff7800 0px,#ff8000 4px,#ff8a00 8px,#ff9600 12px,#ffa000 16px,#ffad00 20px,#ffc000 24px,#ffae00 28px,#ffa000 32px,#ff8300 36px,#ff5a00 40px,#ff4800 44px,#ff3200 48px,#ff1e00 52px,#ff2100 56px,#ff2300 60px,#ff2500 64px,#ff2c00 68px,#ff3100 72px,#ff3300 76px,#ff4100 80px,#ff6000 84px,#ff8700 88px,#ffa000 92px,#ff9a00 96px,#ff8400 100px,#ff5b00 104px,#ff7500 108px,#ff7200 112px,#ff4d00 116px,#ff6a00 120px,#ff3800 124px,#ff2e00 128px,#ff3300 132px,#ff2100 136px,#ff2300 140px,#ff0b00 144px,#ff1200 148px,#ff1500 152px,#e30000 156px,#db0000 160px,#da0000 164px,#c80000 168px,#fe0000 172px,#ff0c00 176px,#f50000 180px,#ff1500 184px,#ff2100 188px,#ff3f00 192px,#ff4500 196px,#ff1300 200px,#ed0000 204px,#ff2400 208px,#f40000 212px,#ff2200 216px,#ff8200 220px,#ff1400 224px,#ff5100 228px,#ff1600 232px,#f00000 236px,#ff3600 240px,#ff5500 244px,#ff5f00 248px,#ff5700 252px,#fa0000 256px,#ff1300 260px,#ff2d00 264px,#ff1200 268px,#f60000 272px,#b30000 276px,#1d0000 280px,#550000 284px,#e10000 288px,#d00000 292px,#ffca00 296px,#ffc000 300px,#ff9400 304px,#ff9200 308px,#f00000 312px,#9b0000 316px,#990000 320px)"></div>
<div style="height:2px;background:linear-gradient(90deg,#ff6900 0px,#ff7100 4px,#ff7600 8px,#ff9300 12px,#ffae00 16px,#ffb000 20px,#ffc200 24px,#ffb000 28px,#ff9d00 32px,#ff8d00 36px,#ff6400 40px,#ff4500 44px,#ff3000 48px,#ff1700 52px,#ff1d00 56px,#ff3500 60px,#ff2b00 64px,#ff3e00 68px,#ff3d00 72px,#ff3b00 76px,#ff5600 80px,#ff6900 84px,#ff9100 88px,#ffb000 92px,#ffad00 96px,#ff9800 100px,#ff8900 104px,#ff9a00 108px,#ff9600 112px,#ff9800 116px,#ff8400 120px,#ff4d00 124px,#ff2b00 128px,#ff1b00 132px,#ff1000 136px,#ff2300 140px,#ff3400 144px,#ff1900 148px,#ff3500 152px,#ff2a00 156px,#ff3500 160px,#ff6200 164px,#ff5200 168px,#ff5400 172px,#ff4d00 176px,#ff1a00 180px,#ff0700 184px,#ff0100 188px,#fe0000 192px,#f20000 196px,#fc0000 200px,#ff1500 204px,#ff3d00 208px,#ff6200 212px,#ff4900 216px,#ff7900 220px,#ff0c00 224px,#e10000 228px,#b10000 232px,#7e0000 236px,#b00000 240px,#be0000 244px,#ff2400 248px,#e90000 252px,#d40000 256px,#ff0400 260px,#da0000 264px,#ff1e00 268px,#ff1500 272px,#ec0000 276px,#c60000 280px,#8f0000 284px,#a70000 288px,#be0000 292px,#ff3c00 296px,#ff4d00 300px,#ff5800 304px,#ff3f00 308px,#ff2000 312px,#ff4b00 316px,#c80000 320px)"></div>
<div style="height:2px;background:linear-gradient(90deg,#ff6b00 0px,#ff6100 4px,#ff5400 8px,#ff7200 12px,#ff9700 16px,#ffa000 20px,#ffa500 24px,#ffa200 28px,#ff8d00 32px,#ff8100 36px,#ff6c00 40px,#ff4d00 44px,#ff3c00 48px,#ff2c00 52px,#ff2b00 56px,#ff3d00 60px,#ff3c00 64px,#ff4300 68px,#ff4400 72px,#ff3a00 76px,#ff4e00 80px,#ff5800 84px,#ff7400 88px,#ffa300 92px,#ffa300 96px,#ff9a00 100px,#ffa000 104px,#ffa100 108px,#ff9e00 112px,#ffb200 116px,#ff9400 120px,#ff7c00 124px,#ff7200 128px,#ff4100 132px,#ff4100 136px,#ff4400 140px,#ff4000 144px,#ff1d00 148px,#ff1500 152px,#e80000 156px,#f50000 160px,#ff1e00 164px,#ff1500 168px,#fd0000 172px,#bc0000 176px,#bf0000 180px,#aa0000 184px,#e20000 188px,#ff0f00 192px,#e90000 196px,#d70000 200px,#c50000 204px,#ad0000 208px,#e30000 212px,#ff2300 216px,#ff5100 220px,#ff0a00 224px,#ae0000 228px,#7a0000 232px,#3c0000 236px,#950000 240px,#ca0000 244px,#ff0200 248px,#ff0d00 252px,#ff2b00 256px,#ff0300 260px,#ff1600 264px,#ff5c00 268px,#ff5400 272px,#ffab00 276px,#ffac00 280px,#ff7f00 284px,#ff5e00 288px,#ff1e00 292px,#ec0000 296px,#ee0000 300px,#f50000 304px,#e40000 308px,#ff0300 312px,#f30000 316px,#d70000 320px)"></div>
<div style="height:2px;background:linear-gradient(90deg,#ff8300 0px,#ff8000 4px,#ff7600 8px,#ff8d00 12px,#ff9300 16px,#ffae00 20px,#ffd000 24px,#ffc800 28px,#ffb800 32px,#ffa900 36px,#ff8400 40px,#ff7200 44px,#ff5d00 48px,#ff4a00 52px,#ff4100 56px,#ff3200 60px,#ff3200 64px,#ff2700 68px,#ff2200 72px,#ff1800 76px,#ff2000 80px,#ff2d00 84px,#ff4700 88px,#ff8d00 92px,#ffa700 96px,#ffab00 100px,#ffac00 104px,#ffa700 108px,#ff8e00 112px,#ff8c00 116px,#ff9500 120px,#ff7d00 124px,#ff9400 128px,#ff9000 132px,#ff9700 136px,#ff8b00 140px,#ff7a00 144px,#ff6200 148px,#ff4e00 152px,#ff3000 156px,#ff1700 160px,#ff1c00 164px,#fb0000 168px,#f60000 172px,#c60000 176px,#b90000 180px,#970000 184px,#d30000 188px,#ff0000 192px,#f00000 196px,#c60000 200px,#940000 204px,#b80000 208px,#e80000 212px,#ff2d00 216px,#ff4400 220px,#ff0d00 224px,#db0000 228px,#e70000 232px,#d50000 236px,#ff0500 240px,#ff1900 244px,#ff2f00 248px,#ff3e00 252px,#ff4500 256px,#ff3200 260px,#ff6b00 264px,#ff9e00 268px,#ff7c00 272px,#ff9500 276px,#ff2f00 280px,#ff1500 284px,#ff5800 288px,#ff1300 292px,#ff4e00 296px,#ff4c00 300px,#ff1100 304px,#ff1c00 308px,#ff0700 312px,#e50000 316px,#ff2700 320px)"></div>
<div style="height:2px;background:linear-gradient(90deg,#ff7700 0px,#ff8500 4px,#ff8300 8px,#ff8c00 12px,#ff9200 16px,#ffa500 20px,#ffcf00 24px,#ffde00 28px,#ffda00 32px,#ffc000 36px,#ffa300 40px,#ff8200 44px,#ff6200 48px,#ff5400 52px,#ff4400 56px,#ff2d00 60px,#ff2800 64px,#ff1600 68px,#ff1500 72px,#ff1000 76px,#ff1200 80px,#ff2800 84px,#ff3e00 88px,#ff8800 92px,#ffb700 96px,#ffb500 100px,#ffa400 104px,#ff9f00 108px,#ff9b00 112px,#ff9b00 116px,#ffb500 120px,#ff9900 124px,#ff8f00 128px,#ff7f00 132px,#ff6800 136px,#ff6a00 140px,#ff6e00 144px,#ff8300 148px,#ffa000 152px,#ffa500 156px,#ff8500 160px,#ff7100 164px,#ff4800 168px,#ff6700 172px,#ff7300 176px,#ff4a00 180px,#ff2100 184px,#fc0000 188px,#e10000 192px,#ed0000 196px,#e70000 200px,#e80000 204px,#ff0200 208px,#ff3000 212px,#ff2100 216px,#ff0400 220px,#ff3100 224px,#ff0900 228px,#ff4300 232px,#ff6200 236px,#fd0000 240px,#df0000 244px,#e20000 248px,#7a0000 252px,#610000 256px,#630000 260px,#850000 264px,#dd0000 268px,#ff0f00 272px,#ff2500 276px,#da0000 280px,#aa0000 284px,#bc0000 288px,#c40000 292px,#ff1800 296px,#ff8300 300px,#ff7a00 304px,#ff6a00 308px,#ff2d00 312px,#ff2700 316px,#ff5e00 320px)"></div>
<div style="height:2px;background:linear-gradient(90deg,#ff6c00 0px,#ff7d00 4px,#ff7b00 8px,#ff8400 12px,#ff8600 16px,#ff8600 20px,#ffa400 24px,#ffc300 28px,#ffc800 32px,#ffbb00 36px,#ffa700 40px,#ff7900 44px,#ff7000 48px,#ff6300 52px,#ff4500 56px,#ff4a00 60px,#ff3400 64px,#ff2900 68px,#ff3700 72px,#ff2b00 76px,#ff2c00 80px,#ff3800 84px,#ff3b00 88px,#ff7400 92px,#ffa300 96px,#ff9f00 100px,#ff9f00 104px,#ffa000 108px,#ffa300 112px,#ffc600 116px,#ffcd00 120px,#ffbb00 124px,#ffaa00 128px,#ff7700 132px,#ff6300 136px,#ff6b00 140px,#ff7000 144px,#ff9900 148px,#ff8600 152px,#ff7400 156px,#ff5b00 160px,#ff1c00 164px,#ff2900 168px,#ff2f00 172px,#ff4800 176px,#ff4400 180px,#ff3900 184px,#ff1f00 188px,#ff0500 192px,#ff2300 196px,#ff5600 200px,#ff6300 204px,#ff3000 208px,#ff2a00 212px,#ed0000 216px,#cf0000 220px,#ff2600 224px,#ff2100 228px,#ff1900 232px,#ff3200 236px,#be0000 240px,#c10000 244px,#8b0000 248px,#800000 252px,#920000 256px,#630000 260px,#910000 264px,#9e0000 268px,#c70000 272px,#ff2400 276px,#ff5700 280px,#ef0000 284px,#fe0000 288px,#a50000 292px,#d90000 296px,#ff5a00 300px,#ff1600 304px,#ff4700 308px,#cc0000 312px,#a50000 316px,#f00000 320px)"></div>
<div style="height:2px;background:linear-gradient(90deg,#ff7200 0px,#ff6c00 4px,#ff7700 8px,#ff8100 12px,#ff7400 16px,#ff7700 20px,#ff9700 24px,#ffb900 28px,#ffc400 32px,#ffcd00 36px,#ffb600 40px,#ff8e00 44px,#ff8a00 48px,#ff6e00 52px,#ff5e00 56px,#ff6100 60px,#ff4600 64px,#ff3b00 68px,#ff3000 72px,#ff3300 76px,#ff3300 80px,#ff3200 84px,#ff3e00 88px,#ff6300 92px,#ff9800 96px,#ffaa00 100px,#ff9f00 104px,#ffa100 108px,#ff9800 112px,#ffa900 116px,#ffc000 120px,#ffb300 124px,#ffb400 128px,#ffae00 132px,#ff9700 136px,#ffa800 140px,#ffd600 144px,#ffda00 148px,#ffcf00 152px,#ffb900 156px,#ff6800 160px,#ff1f00 164px,#ff2600 168px,#d30000 172px,#ed0000 176px,#ff1200 180px,#ff1600 184px,#ff3b00 188px,#ff5e00 192px,#ff5600 196px,#ff8d00 200px,#ffaa00 204px,#ff6800 208px,#ff6400 212px,#ff1d00 216px,#e30000 220px,#ff0400 224px,#ff2f00 228px,#ff0300 232px,#ff0c00 236px,#b70000 240px,#910000 244px,#920000 248px,#ff0300 252px,#ff7000 256px,#ffb400 260px,#ffaa00 264px,#ff4e00 268px,#de0000 272px,#c90000 276px,#ff1f00 280px,#e80000 284px,#ff3e00 288px,#c50000 292px,#6a0000 296px,#ae0000 300px,#6e0000 304px,#be0000 308px,#c50000 312px,#a30000 316px,#b80000 320px)"></div>
<div style="height:2px;background:linear-gradient(90deg,#ff5a00 0px,#ff4900 4px,#ff5900 8px,#ff6900 12px,#ff7300 16px,#ff8700 20px,#ffab00 24px,#ffce00 28px,#ffd500 32px,#ffdf00 36px,#ffd200 40px,#ffbc00 44px,#ffab00 48px,#ff8a00 52px,#ff7c00 56px,#ff6300 60px,#ff4b00 64px,#ff4300 68px,#ff3100 72px,#ff3000 76px,#ff2900 80px,#ff1d00 84px,#ff2d00 88px,#ff5e00 92px,#ffa800 96px,#ffc900 100px,#ffb900 104px,#ffbb00 108px,#ffae00 112px,#ffaa00 116px,#ffc500 120px,#ffbd00 124px,#ffca00 128px,#ffe400 132px,#ffbf00 136px,#ffc700 140px,#ffd500 144px,#ffbe00 148px,#ffdb00 152px,#ffdf00 156px,#ffc100 160px,#ff8a00 164px,#ff6c00 168px,#ff2000 172px,#ff2d00 176px,#ff6500 180px,#ff7100 184px,#ff8e00 188px,#ff6b00 192px,#ff4300 196px,#ff5900 200px,#ff6600 204px,#ff5100 208px,#ff1f00 212px,#f20000 216px,#c70000 220px,#cb0000 224px,#ff3500 228px,#fa0000 232px,#eb0000 236px,#db0000 240px,#bb0000 244px,#ff0300 248px,#ff6200 252px,#ff9000 256px,#ff8600 260px,#ff9100 264px,#ff1b00 268px,#c10000 272px,#8e0000 276px,#a20000 280px,#eb0000 284px,#ff0400 288px,#e20000 292px,#590000 296px,#560000 300px,#b00000 304px,#ff3600 308px,#ff6c00 312px,#ff5600 316px,#ff1f00 320px)"></div>
<div style="height:2px;background:linear-gradient(90deg,#ff7000 0px,#ff6a00 4px,#ff5c00 8px,#ff6f00 12px,#ff6f00 16px,#ff8200 20px,#ffa300 24px,#ffb300 28px,#ffbe00 32px,#ffd100 36px,#ffd200 40px,#ffcf00 44px,#ffc400 48px,#ffaf00 52px,#ff9500 56px,#ff7200 60px,#ff4c00 64px,#ff3200 68px,#ff2e00 72px,#ff2300 76px,#ff2b00 80px,#ff2800 84px,#ff2e00 88px,#ff6200 92px,#ff9e00 96px,#ffb200 100px,#ff9e00 104px,#ffb400 108px,#ffb400 112px,#ffcc00 116px,#ffe200 120px,#ffda00 124px,#ffdb00 128px,#ffd000 132px,#ffc000 136px,#ffb300 140px,#ffce00 144px,#ffe000 148px,#ffe200 152px,#ffde00 156px,#ffc800 160px,#ff9800 164px,#ff9900 168px,#ff8900 172px,#ff7b00 176px,#ffb600 180px,#ffb500 184px,#ff9300 188px,#ff5200 192px,#ff2500 196px,#ff2d00 200px,#ff4600 204px,#ff4400 208px,#ff1700 212px,#dd0000 216px,#c80000 220px,#ed0000 224px,#ff4800 228px,#ff3900 232px,#ff0700 236px,#ff0d00 240px,#ff0100 244px,#ff2700 248px,#ffb700 252px,#ff4f00 256px,#ff1900 260px,#ff5b00 264px,#ea0000 268px,#ff2200 272px,#ff0b00 276px,#ff1c00 280px,#ff6d00 284px,#ff7800 288px,#ff4400 292px,#ff2c00 296px,#fc0000 300px,#ff3d00 304px,#ffaa00 308px,#ff7f00 312px,#ff2100 316px,#ff0200 320px)"></div>
<div style="height:2px;background:linear-gradient(90deg,#ff9d00 0px,#ff9300 4px,#ff7200 8px,#ff6b00 12px,#ff5400 16px,#ff6000 20px,#ff7000 24px,#ff8200 28px,#ffab00 32px,#ffbd00 36px,#ffc400 40px,#ffc000 44px,#ffa700 48px,#ff9f00 52px,#ff9200 56px,#ff8200 60px,#ff6000 64px,#ff3300 68px,#ff2d00 72px,#ff1f00 76px,#ff3000 80px,#ff3800 84px,#ff3900 88px,#ff5700 92px,#ff7600 96px,#ff8a00 100px,#ff7900 104px,#ff9d00 108px,#ffac00 112px,#ffca00 116px,#ffe400 120px,#ffe900 124px,#ffff01 128px,#ffe900 132px,#ffff21 136px,#ffff2f 140px,#ffff6f 144px,#ffffa3 148px,#ffff6b 152px,#ffff30 156px,#ffdc00 160px,#ffab00 164px,#ffaa00 168px,#ff9000 172px,#ff9600 176px,#ffd000 180px,#ffda00 184px,#ffff12 188px,#ffe200 192px,#ffe600 196px,#ffd200 200px,#ffb900 204px,#ff9600 208px,#ff6b00 212px,#ff7200 216px,#ff6300 220px,#ffa100 224px,#ffba00 228px,#ff7900 232px,#ff2100 236px,#dd0000 240px,#e90000 244px,#ff1600 248px,#ff8900 252px,#ff4200 256px,#ff1500 260px,#ff6000 264px,#ff1200 268px,#ff5900 272px,#ff5700 276px,#ff3700 280px,#ff4e00 284px,#ff8400 288px,#ff4500 292px,#ff2500 296px,#ff0600 300px,#ff0900 304px,#fd0000 308px,#cb0000 312px,#d60000 316px,#e80000 320px)"></div>
<div style="height:2px;background:linear-gradient(90deg,#ff8500 0px,#ff7100 4px,#ff7400 8px,#ff6200 12px,#ff5c00 16px,#ff8100 20px,#ff7500 24px,#ff8900 28px,#ffae00 32px,#ffb300 36px,#ffc100 40px,#ffc800 44px,#ffb300 48px,#ffae00 52px,#ffa400 56px,#ff8800 60px,#ff7200 64px,#ff4000 68px,#ff3400 72px,#ff2d00 76px,#ff4200 80px,#ff4900 84px,#ff3a00 88px,#ff5000 92px,#ff4f00 96px,#ff6f00 100px,#ff8000 104px,#ff9b00 108px,#ffae00 112px,#ffac00 116px,#ffbb00 120px,#ffb300 124px,#ffcf00 128px,#ffd500 132px,#ffff06 136px,#ffff26 140px,#ffff16 144px,#ffff56 148px,#ffff20 152px,#ffff10 156px,#ffff3d 160px,#fff700 164px,#ffe700 168px,#ffc200 172px,#ffdc00 176px,#ffff07 180px,#ffff50 184px,#fffff0 188px,#ffff37 192px,#ffff2d 196px,#ffdd00 200px,#ff4f00 204px,#ff6800 208px,#ff3e00 212px,#ff6900 216px,#ff6600 220px,#ff6200 224px,#ff5100 228px,#fd0000 232px,#ff0e00 236px,#fa0000 240px,#ff4000 244px,#ff7e00 248px,#ffd400 252px,#ffc800 256px,#ff7100 260px,#ffa200 264px,#ff2400 268px,#ff2f00 272px,#ff4500 276px,#b50000 280px,#820000 284px,#f00000 288px,#d70000 292px,#ff1600 296px,#ff6400 300px,#ff3000 304px,#ff0500 308px,#e00000 312px,#ff0000 316px,#ff1300 320px)"></div>
<div style="height:2px;background:linear-gradient(90deg,#ff6000 0px,#ff6100 4px,#ff7000 8px,#ff6d00 12px,#ff7300 16px,#ff8900 20px,#ff8200 24px,#ff8300 28px,#ff8f00 32px,#ff9400 36px,#ffae00 40px,#ffc900 44px,#ffd600 48px,#ffd900 52px,#ffcc00 56px,#ffa700 60px,#ff8400 64px,#ff5300 68px,#ff4100 72px,#ff3800 76px,#ff3200 80px,#ff3600 84px,#ff1b00 88px,#ff3600 92px,#ff5100 96px,#ff7500 100px,#ff9d00 104px,#ffa000 108px,#ff9300 112px,#ff6d00 116px,#ff6400 120px,#ff3f00 124px,#ff5b00 128px,#ff8600 132px,#ff8500 136px,#ffb800 140px,#ffb200 144px,#ffeb00 148px,#ffff29 152px,#ffff36 156px,#ffff79 160px,#ffff2a 164px,#fff700 168px,#fffd00 172px,#ffff36 176px,#ffff5e 180px,#ffff92 184px,#ffffff 188px,#ffff70 192px,#ffff01 196px,#ffb900 200px,#ff5e00 204px,#ffab00 208px,#ffd700 212px,#ffff14 216px,#ffeb00 220px,#ffff01 224px,#ffc200 228px,#ff8c00 232px,#ffb700 236px,#ff9900 240px,#ffcb00 244px,#ff9a00 248px,#ffc000 252px,#ff8800 256px,#ff6c00 260px,#ffdf00 264px,#ffae00 268px,#ff8b00 272px,#ff8f00 276px,#ff0300 280px,#d40000 284px,#ff4c00 288px,#ff5d00 292px,#ff8500 296px,#ff9300 300px,#ff3900 304px,#ff0000 308px,#ff1000 312px,#cc0000 316px,#db0000 320px)"></div>
<div style="height:2px;background:linear-gradient(90deg,#ff6e00 0px,#ff7800 4px,#ff8100 8px,#ff6d00 12px,#ff6c00 16px,#ff6800 20px,#ff6a00 24px,#ff7700 28px,#ff7900 32px,#ff8600 36px,#ff9900 40px,#ffb100 44px,#ffcb00 48px,#ffd200 52px,#ffb900 56px,#ff9c00 60px,#ff7800 64px,#ff5500 68px,#ff4c00 72px,#ff3700 76px,#ff2c00 80px,#ff2000 84px,#ff1400 88px,#ff3800 92px,#ff6400 96px,#ff8e00 100px,#ff9700 104px,#ff8c00 108px,#ff7100 112px,#ff5d00 116px,#ff6900 120px,#ff5a00 124px,#ff8200 128px,#ffa100 132px,#ff9c00 136px,#ffdd00 140px,#ffd200 144px,#ffe900 148px,#ffff43 152px,#ffff74 156px,#ffff95 160px,#ffff7e 164px,#ffff46 168px,#ffff21 172px,#ffff1b 176px,#ffff43 180px,#ffff71 184px,#ffffa5 188px,#ffffd0 192px,#ffff7e 196px,#ffff52 200px,#ffff71 204px,#ffff8d 208px,#ffffbb 212px,#fffff7 216px,#ffff93 220px,#ffffdd 224px,#ffff86 228px,#ffff58 232px,#ffff4e 236px,#ffd300 240px,#ffbe00 244px,#ff6b00 248px,#ff4a00 252px,#ff2500 256px,#ff6300 260px,#ffbc00 264px,#ffbf00 268px,#ff8900 272px,#ff7700 276px,#ff5000 280px,#ffad00 284px,#ffff61 288px,#ffff99 292px,#ffff57 296px,#ffd600 300px,#ff7200 304px,#ff3e00 308px,#f20000 312px,#eb0000 316px,#ef0000 320px)"></div>
<div style="height:2px;background:linear-gradient(90deg,#ff7800 0px,#ff6b00 4px,#ff7400 8px,#ff4d00 12px,#ff4e00 16px,#ff5000 20px,#ff4c00 24px,#ff6d00 28px,#ff6a00 32px,#ff7f00 36px,#ff9400 40px,#ffaa00 44px,#ffca00 48px,#ffcc00 52px,#ffbc00 56px,#ff9f00 60px,#ff9400 64px,#ff8c00 68px,#ff7600 72px,#ff6500 76px,#ff5600 80px,#ff2e00 84px,#ff3700 88px,#ff5100 92px,#ff5400 96px,#ff7c00 100px,#ff6100 104px,#ff6200 108px,#ff7200 112px,#ff6900 116px,#ff9c00 120px,#ff8f00 124px,#ffbc00 128px,#ffb800 132px,#ffa900 136px,#ffc000 140px,#ffa600 144px,#ffbf00 148px,#fff000 152px,#ffff66 156px,#ffff95 160px,#ffffd4 164px,#ffffd7 168px,#ffff7c 172px,#ffff27 176px,#fffb00 180px,#ffff0f 184px,#ffff00 188px,#ffff33 192px,#ffff1d 196px,#fffd00 200px,#ffff26 204px,#ffff3a 208px,#ffff24 212px,#ffff36 216px,#ffb000 220px,#ffaf00 224px,#ffdd00 228px,#ffd700 232px,#ffff6a 236px,#ffff33 240px,#fff100 244px,#ffd200 248px,#ffa200 252px,#ffb700 256px,#fffb00 260px,#ffb600 264px,#ff8500 268px,#ff0700 272px,#c50000 276px,#d20000 280px,#ff2800 284px,#ffd000 288px,#ffff1e 292px,#ffffb4 296px,#ffff65 300px,#fff300 304px,#ffb200 308px,#f80000 312px,#ff1500 316px,#f20000 320px)"></div>
<div style="height:2px;background:linear-gradient(90deg,#ff7800 0px,#ff7600 4px,#ff6d00 8px,#ff5100 12px,#ff4400 16px,#ff4000 20px,#ff3b00 24px,#ff4f00 28px,#ff5c00 32px,#ff7800 36px,#ff9700 40px,#ffb200 44px,#ffcb00 48px,#ffcf00 52px,#ffd300 56px,#ffc100 60px,#ffba00 64px,#ffab00 68px,#ff8900 72px,#ff7200 76px,#ff5e00 80px,#ff3600 84px,#ff3b00 88px,#ff4f00 92px,#ff3f00 96px,#ff4700 100px,#ff3800 104px,#ff2300 108px,#ff3600 112px,#ff3e00 116px,#ff5800 120px,#ff5900 124px,#ff7900 128px,#ff8500 132px,#ff7b00 136px,#ffa200 140px,#ffa100 144px,#ffb700 148px,#ffdf00 152px,#fffd00 156px,#ffff3e 160px,#ffff76 164px,#ffffcb 168px,#ffffaf 172px,#ffff9d 176px,#ffff75 180px,#ffff26 184px,#ffff44 188px,#fff400 192px,#ffff18 196px,#ffd900 200px,#ffcf00 204px,#ffff1b 208px,#ffd600 212px,#ffff00 216px,#ffd300 220px,#ffff0c 224px,#ffff9f 228px,#ffffa9 232px,#fffff0 236px,#ffff66 240px,#ffff48 244px,#ffff56 248px,#ffff5a 252px,#ffffc0 256px,#ffffe2 260px,#ffff3c 264px,#ffd300 268px,#ff3300 272px,#b30000 276px,#c80000 280px,#e00000 284px,#ff0f00 288px,#ff4f00 292px,#ffc000 296px,#ffaa00 300px,#ff6c00 304px,#ff5700 308px,#ed0000 312px,#ff2200 316px,#ff4b00 320px)"></div>
<div style="height:2px;background:linear-gradient(90deg,#ff8200 0px,#ff8600 4px,#ff6f00 8px,#ff6600 12px,#ff4a00 16px,#ff4200 20px,#ff4100 24px,#ff3d00 28px,#ff5900 32px,#ff6d00 36px,#ff8700 40px,#ffab00 44px,#ffc800 48px,#ffda00 52px,#ffe700 56px,#ffc600 60px,#ffaa00 64px,#ff9100 68px,#ff7200 72px,#ff6d00 76px,#ff6800 80px,#ff5000 84px,#ff3d00 88px,#ff3c00 92px,#ff3600 96px,#ff2500 100px,#ff2600 104px,#ff0d00 108px,#ff0e00 112px,#ff2700 116px,#ff3f00 120px,#ff5700 124px,#ff5e00 128px,#ff4900 132px,#ff3800 136px,#ff7900 140px,#ff8400 144px,#ffb800 148px,#ffda00 152px,#ffa300 156px,#ffb400 160px,#ffc000 164px,#ffea00 168px,#ffff43 172px,#ffff94 176px,#ffffb5 180px,#ffffbc 184px,#ffffca 188px,#ffff70 192px,#ffff99 196px,#ffffba 200px,#ffff63 204px,#ffffa6 208px,#ffffa0 212px,#ffff8e 216px,#ffffba 220px,#fffff1 224px,#fffffe 228px,#ffffc5 232px,#ffff99 236px,#ffff14 240px,#fffe00 244px,#ffff66 248px,#ffff7c 252px,#ffffff 256px,#ffffff 260px,#ffff9e 264px,#ffff6d 268px,#ffff38 272px,#ffb300 276px,#ffc600 280px,#ffcf00 284px,#ff6a00 288px,#ffdd00 292px,#ffcb00 296px,#fff600 300px,#ffff00 304px,#ffab00 308px,#ffd500 312px,#ffff08 316px,#ffff35 320px)"></div>
<div style="height:2px;background:linear-gradient(90deg,#ff8c00 0px,#ff7f00 4px,#ff7300 8px,#ff6c00 12px,#ff5500 16px,#ff4600 20px,#ff4200 24px,#ff3800 28px,#ff4300 32px,#ff5500 36px,#ff6500 40px,#ff8f00 44px,#ffbe00 48px,#ffdc00 52px,#ffe900 56px,#ffc700 60px,#ffac00 64px,#ff9b00 68px,#ff8300 72px,#ff9000 76px,#ff7d00 80px,#ff6e00 84px,#ff4e00 88px,#ff3b00 92px,#ff4300 96px,#ff4200 100px,#ff4200 104px,#ff3000 108px,#ff2600 112px,#ff1400 116px,#ff3000 120px,#ff3e00 124px,#ff3d00 128px,#ff2100 132px,#ff1700 136px,#ff4400 140px,#ff5100 144px,#ff9300 148px,#ffaf00 152px,#ff8d00 156px,#ff9200 160px,#ff8700 164px,#ff8d00 168px,#ffbb00 172px,#ffea00 176px,#ffff19 180px,#ffff84 184px,#ffff81 188px,#ffff8c 192px,#ffff99 196px,#ffffb0 200px,#ffffc7 204px,#ffffaf 208px,#ffffff 212px,#ffffff 216px,#ffff8d 220px,#ffff39 224px,#ff9e00 228px,#ff6500 232px,#ffbb00 236px,#ffe300 240px,#ffff36 244px,#ffff63 248px,#fff400 252px,#ffff2e 256px,#ffff2f 260px,#ffed00 264px,#ffff7a 268px,#ffffde 272px,#ffff65 276px,#ffffff 280px,#ffffff 284px,#ffff9e 288px,#ffffff 292px,#ffffcf 296px,#ffff89 300px,#ffff4e 304px,#ffa900 308px,#ffff4d 312px,#ffff5a 316px,#fff600 320px)"></div>
<div style="height:2px;background:linear-gradient(90deg,#ff8d00 0px,#ff7f00 4px,#ff8200 8px,#ff7700 12px,#ff5600 16px,#ff3800 20px,#ff3300 24px,#ff2700 28px,#ff3a00 32px,#ff5500 36px,#ff6800 40px,#ff8300 44px,#ffa500 48px,#ffbc00 52px,#ffc100 56px,#ffc000 60px,#ffb100 64px,#ff9a00 68px,#ff8b00 72px,#ff8900 76px,#ff8000 80px,#ff6e00 84px,#ff4d00 88px,#ff3e00 92px,#ff4000 96px,#ff5100 100px,#ff5100 104px,#ff3b00 108px,#ff2400 112px,#fd0000 116px,#ff0800 120px,#ff2800 124px,#ff2200 128px,#ff2400 132px,#ff4400 136px,#ff4e00 140px,#ff6900 144px,#ff9200 148px,#ff8100 152px,#ff9000 156px,#ffa800 160px,#ff8900 164px,#ff8900 168px,#ff7300 172px,#ff7e00 176px,#ffc400 180px,#fff700 184px,#ffe600 188px,#ffdf00 192px,#ffd400 196px,#ffb200 200px,#ffff24 204px,#ffffa6 208px,#ffffee 212px,#ffffff 216px,#ffff87 220px,#ffff5e 224px,#ffeb00 228px,#fff200 232px,#ffff75 236px,#ffff50 240px,#ffffa5 244px,#ffffb6 248px,#ffff67 252px,#ffff45 256px,#ffff38 260px,#ffed00 264px,#ffff69 268px,#ffffd1 272px,#ffffd4 276px,#ffffff 280px,#ffffff 284px,#ffffff 288px,#ffffff 292px,#ffffff 296px,#ffff52 300px,#ffa400 304px,#ff3600 308px,#ff2100 312px,#ff8100 316px,#ffbd00 320px)"></div>
<div style="height:2px;background:linear-gradient(90deg,#ff6e00 0px,#ff7d00 4px,#ff6b00 8px,#ff6500 12px,#ff4600 16px,#ff2a00 20px,#ff3a00 24px,#ff2d00 28px,#ff3e00 32px,#ff5300 36px,#ff5d00 40px,#ff6f00 44px,#ff8e00 48px,#ff9d00 52px,#ffb100 56px,#ffb600 60px,#ffb200 64px,#ffa300 68px,#ff9c00 72px,#ffa100 76px,#ff9000 80px,#ff6d00 84px,#ff4600 88px,#ff2800 92px,#ff2200 96px,#ff4300 100px,#ff3d00 104px,#ff3000 108px,#ff2900 112px,#ff0a00 116px,#ff2100 120px,#ff4900 124px,#ff3d00 128px,#ff2a00 132px,#ff3f00 136px,#ff1f00 140px,#ff4000 144px,#ff7900 148px,#ff5600 152px,#ff7d00 156px,#ff7f00 160px,#ff6300 164px,#ff6500 168px,#ff7500 172px,#ffaa00 176px,#ffe100 180px,#ffff2e 184px,#ffff06 188px,#ffed00 192px,#ffd300 196px,#ffe500 200px,#ffff71 204px,#ffffff 208px,#ffffff 212px,#ffffff 216px,#ffff3e 220px,#ffff20 224px,#ffff78 228px,#ffff60 232px,#ffffff 236px,#fffff7 240px,#ffffff 244px,#ffffff 248px,#ffffff 252px,#ffff4c 256px,#ffdd00 260px,#ffd600 264px,#ffff66 268px,#ffffff 272px,#ffffff 276px,#ffffa1 280px,#ffff3a 284px,#ffff2f 288px,#ffff7a 292px,#ffffa2 296px,#ffffc7 300px,#ffff89 304px,#ffff3a 308px,#fffe00 312px,#ffff5b 316px,#ffff8f 320px)"></div>
<div style="height:2px;background:linear-gradient(90deg,#ff6e00 0px,#ff7a00 4px,#ff7100 8px,#ff6b00 12px,#ff6100 16px,#ff5000 20px,#ff5100 24px,#ff4000 28px,#ff3c00 32px,#ff4500 36px,#ff4900 40px,#ff6200 44px,#ff7d00 48px,#ff8300 52px,#ff9a00 56px,#ff9e00 60px,#ffae00 64px,#ffc000 68px,#ffc500 72px,#ffc200 76px,#ffa200 80px,#ff7f00 84px,#ff6600 88px,#ff4a00 92px,#ff3300 96px,#ff3600 100px,#ff1d00 104px,#ff1e00 108px,#ff2700 112px,#ff2b00 116px,#ff5300 120px,#ff6100 124px,#ff4b00 128px,#ff2e00 132px,#ff2200 136px,#eb0000 140px,#f60000 144px,#ff0300 148px,#ff0200 152px,#ff3a00 156px,#ff3900 160px,#ff4300 164px,#ff4600 168px,#ff4600 172px,#ffc000 176px,#ffc500 180px,#fff500 184px,#ffff48 188px,#fff400 192px,#ffff03 196px,#ffff08 200px,#ffff39 204px,#ffffa2 208px,#ffffba 212px,#ffff58 216px,#ffe200 220px,#ff9f00 224px,#ffc700 228px,#ffef00 232px,#ffff71 236px,#ffffff 240px,#ffffff 244px,#ffffff 248px,#ffffff 252px,#ffffbb 256px,#ffff4a 260px,#ffff81 264px,#ffff94 268px,#ffffe9 272px,#ffff93 276px,#ffff7e 280px,#ffff79 284px,#fff700 288px,#ffff3a 292px,#ffff11 296px,#ffff27 300px,#ffff2e 304px,#ffff72 308px,#ffff6b 312px,#ffff73 316px,#ffffd3 320px)"></div>
<div style="height:2px;background:linear-gradient(90deg,#ff8600 0px,#ff7700 4px,#ff7c00 8px,#ff7000 12px,#ff6a00 16px,#ff5100 20px,#ff3e00 24px,#ff2d00 28px,#ff3500 32px,#ff4800 36px,#ff5200 40px,#ff7000 44px,#ff8300 48px,#ff8e00 52px,#ff9b00 56px,#ffac00 60px,#ffc700 64px,#ffdf00 68px,#ffe600 72px,#ffd500 76px,#ffc300 80px,#ffa400 84px,#ff8d00 88px,#ff7d00 92px,#ff4900 96px,#ff2300 100px,#ff0600 104px,#ff0200 108px,#ff0100 112px,#ff2f00 116px,#ff4e00 120px,#ff3f00 124px,#ff3200 128px,#fe0000 132px,#ff0500 136px,#ed0000 140px,#ff0600 144px,#ff1200 148px,#ff3200 152px,#ff5b00 156px,#ff5b00 160px,#ff4400 164px,#ff0f00 168px,#f30000 172px,#ff4500 176px,#ff6b00 180px,#ff9d00 184px,#ffd500 188px,#ff6000 192px,#ff7700 196px,#ff7d00 200px,#ff8f00 204px,#ffff40 208px,#ffff6a 212px,#ffff03 216px,#ffff25 220px,#ffc000 224px,#ffbe00 228px,#ffff13 232px,#ffff07 236px,#ffff53 240px,#ffffce 244px,#ffffeb 248px,#ffffff 252px,#ffffff 256px,#ffffd5 260px,#ffffde 264px,#ffff66 268px,#ffffc8 272px,#ffff8d 276px,#ffffc5 280px,#ffffff 284px,#ffff5e 288px,#ffffff 292px,#ffffe4 296px,#ffff7c 300px,#ffff69 304px,#ffff7f 308px,#ffff47 312px,#ffff5b 316px,#ffffff 320px)"></div>
<div style="height:2px;background:linear-gradient(90deg,#ff7d00 0px,#ff6200 4px,#ff6800 8px,#ff6400 12px,#ff5e00 16px,#ff5200 20px,#ff3900 24px,#ff2700 28px,#ff2f00 32px,#ff3800 36px,#ff3800 40px,#ff4700 44px,#ff5b00 48px,#ff7500 52px,#ff8b00 56px,#ffa000 60px,#ffb700 64px,#ffc200 68px,#ffd100 72px,#ffd700 76px,#ffc200 80px,#ffac00 84px,#ff8200 88px,#ff6200 92px,#ff3500 96px,#ff1900 100px,#ff1c00 104px,#ff1a00 108px,#ff1000 112px,#ff2000 116px,#ff1800 120px,#ff0200 124px,#ff0400 128px,#d80000 132px,#ea0000 136px,#ff0800 140px,#ff2400 144px,#ff4300 148px,#ff6500 152px,#ff6a00 156px,#ff7100 160px,#ff4100 164px,#f70000 168px,#ce0000 172px,#e00000 176px,#ff4100 180px,#ff9100 184px,#ffc500 188px,#ff7800 192px,#ff5600 196px,#ff6700 200px,#ff8300 204px,#ffd300 208px,#ffff14 212px,#ffff02 216px,#ffff30 220px,#ffff23 224px,#fff600 228px,#fff800 232px,#fff300 236px,#ffc900 240px,#ffff21 244px,#ffff2f 248px,#ffff81 252px,#ffff9a 256px,#fff400 260px,#fff100 264px,#ffc200 268px,#ffff3b 272px,#ffffc4 276px,#ffffff 280px,#ffffdc 284px,#ffff8f 288px,#fffffe 292px,#ffffb2 296px,#ffffff 300px,#ffffff 304px,#ffff9c 308px,#ffffe0 312px,#ffffbe 316px,#ffffff 320px)"></div>
<div style="height:2px;background:linear-gradient(90deg,#ff7c00 0px,#ff6300 4px,#ff7000 8px,#ff6d00 12px,#ff6100 16px,#ff6a00 20px,#ff4600 24px,#ff3300 28px,#ff3100 32px,#ff2200 36px,#ff1c00 40px,#ff2000 44px,#ff3800 48px,#ff5b00 52px,#ff7500 56px,#ff8700 60px,#ff9a00 64px,#ffa900 68px,#ffc700 72px,#ffd900 76px,#ffc800 80px,#ffbf00 84px,#ff9600 88px,#ff5e00 92px,#ff3100 96px,#ff1c00 100px,#ff2f00 104px,#ff4300 108px,#ff4b00 112px,#ff3e00 116px,#ff1700 120px,#ff1200 124px,#ff1100 128px,#fb0000 132px,#f80000 136px,#ff0600 140px,#f30000 144px,#ff0900 148px,#ff1200 152px,#ff1000 156px,#ff1c00 160px,#ff1100 164px,#ef0000 168px,#d50000 172px,#ee0000 176px,#ff4900 180px,#ff7900 184px,#ff6c00 188px,#ff6400 192px,#ff2300 196px,#ff1f00 200px,#ff6200 204px,#ff6500 208px,#ffaf00 212px,#ffff05 216px,#ffef00 220px,#ffc600 224px,#ffc400 228px,#ffca00 232px,#ffff32 236px,#ffff65 240px,#ffff11 244px,#ffe400 248px,#ffd600 252px,#ffde00 256px,#ffb600 260px,#ffb300 264px,#ffd200 268px,#ffeb00 272px,#ffff8d 276px,#ffffff 280px,#ffffd6 284px,#ffffff 288px,#ffff83 292px,#fffd00 296px,#ffff7d 300px,#ffff53 304px,#ffffc2 308px,#ffff8e 312px,#ffff3e 316px,#ffff1b 320px)"></div>
<div style="height:2px;background:linear-gradient(90deg,#ff7f00 0px,#ff8700 4px,#ff8a00 8px,#ff8000 12px,#ff6800 16px,#ff5c00 20px,#ff3900 24px,#ff3100 28px,#ff3100 32px,#ff2000 36px,#ff2200 40px,#ff1b00 44px,#ff3800 48px,#ff5400 52px,#ff6a00 56px,#ff8700 60px,#ffa500 64px,#ffc000 68px,#ffdf00 72px,#ffe600 76px,#ffd700 80px,#ffca00 84px,#ffb500 88px,#ff7f00 92px,#ff4800 96px,#ff4100 100px,#ff3500 104px,#ff3900 108px,#ff3900 112px,#ff1500 116px,#ff1200 120px,#ff2a00 124px,#ff3800 128px,#ff2800 132px,#ff1200 136px,#ff0500 140px,#d90000 144px,#f80000 148px,#eb0000 152px,#f70000 156px,#ee0000 160px,#bd0000 164px,#d30000 168px,#ce0000 172px,#f40000 176px,#ff7c00 180px,#ff7900 184px,#ff4c00 188px,#ff5300 192px,#ff0900 196px,#fe0000 200px,#ff3900 204px,#ff8f00 208px,#ffc000 212px,#ffff1d 216px,#ffd900 220px,#ff5600 224px,#ff8000 228px,#ff8e00 232px,#fff900 236px,#ffff8f 240px,#ffff15 244px,#fffd00 248px,#ffe100 252px,#ffff02 256px,#fffe00 260px,#ffec00 264px,#ffff2c 268px,#ffff27 272px,#fffb00 276px,#ffff9b 280px,#ffffc5 284px,#ffff73 288px,#fff400 292px,#ffbe00 296px,#ffc300 300px,#ffd900 304px,#ffffff 308px,#fffff1 312px,#ffff8c 316px,#ffffa5 320px)"></div>
<div style="height:2px;background:linear-gradient(90deg,#ff6f00 0px,#ff7c00 4px,#ff8700 8px,#ff7a00 12px,#ff6800 16px,#ff6100 20px,#ff4900 24px,#ff4c00 28px,#ff4500 32px,#ff2e00 36px,#ff3400 40px,#ff2100 44px,#ff3b00 48px,#ff4100 52px,#ff4e00 56px,#ff7300 60px,#ff8000 64px,#ffa700 68px,#ffc100 72px,#ffcc00 76px,#ffd200 80px,#ffd100 84px,#ffbd00 88px,#ff8d00 92px,#ff5a00 96px,#ff5200 100px,#ff3b00 104px,#ff4500 108px,#ff3000 112px,#f00000 116px,#ff0000 120px,#fc0000 124px,#ff1e00 128px,#ff2a00 132px,#ff1800 136px,#ff1f00 140px,#ff0800 144px,#ff1300 148px,#ff0b00 152px,#ff0d00 156px,#de0000 160px,#b80000 164px,#f00000 168px,#e70000 172px,#ff0400 176px,#ff5a00 180px,#ff2300 184px,#ff5500 188px,#ff9800 192px,#ff6f00 196px,#ff5600 200px,#ff1200 204px,#f00000 208px,#d80000 212px,#ff2300 216px,#ff2800 220px,#ff0500 224px,#ff6800 228px,#ff7000 232px,#ff7900 236px,#ffcd00 240px,#ff7900 244px,#ff6d00 248px,#ff8f00 252px,#ffab00 256px,#ffe700 260px,#ffda00 264px,#ffef00 268px,#ffe800 272px,#ffcd00 276px,#ffff42 280px,#ffff27 284px,#ffe600 288px,#ffea00 292px,#ffa300 296px,#ff8400 300px,#ffcc00 304px,#ffff1b 308px,#ffff70 312px,#ffffea 316px,#ffffeb 320px)"></div>
<div style="height:2px;background:linear-gradient(90deg,#ff6e00 0px,#ff6700 4px,#ff7a00 8px,#ff7100 12px,#ff6a00 16px,#ff7400 20px,#ff5a00 24px,#ff4900 28px,#ff3800 32px,#ff2300 36px,#ff3300 40px,#ff3400 44px,#ff4400 48px,#ff4d00 52px,#ff4200 56px,#ff5e00 60px,#ff5d00 64px,#ff7200 68px,#ff9700 72px,#ffaf00 76px,#ffcd00 80px,#ffdd00 84px,#ffc700 88px,#ff9200 92px,#ff5f00 96px,#ff4200 100px,#ff3e00 104px,#ff5400 108px,#ff2600 112px,#ff0000 116px,#f70000 120px,#d60000 124px,#f20000 128px,#f60000 132px,#f50000 136px,#ff0200 140px,#ff1e00 144px,#ff1a00 148px,#ff1000 152px,#ff2100 156px,#f20000 160px,#ff2100 164px,#ff4c00 168px,#ff4000 172px,#ff3500 176px,#fe0000 180px,#a70000 184px,#d20000 188px,#ff4d00 192px,#ff4f00 196px,#ff3800 200px,#e60000 204px,#870000 208px,#810000 212px,#f20000 216px,#ff0b00 220px,#ff0d00 224px,#ff5800 228px,#ff6000 232px,#ff6300 236px,#ff7d00 240px,#ff7b00 244px,#ff5000 248px,#ff4300 252px,#ff3600 256px,#ff4f00 260px,#ff9100 264px,#ffaa00 268px,#ffd200 272px,#ffb900 276px,#ffa900 280px,#ff8600 284px,#ff9500 288px,#fff100 292px,#ffea00 296px,#ffea00 300px,#ffff2c 304px,#ffff00 308px,#ffff64 312px,#ffffbc 316px,#ffff2b 320px)"></div>
<div style="height:2px;background:linear-gradient(90deg,#ff8800 0px,#ff8600 4px,#ff8700 8px,#ff8b00 12px,#ff8500 16px,#ff7900 20px,#ff6800 24px,#ff4d00 28px,#ff2c00 32px,#ff2300 36px,#ff2200 40px,#ff1d00 44px,#ff2800 48px,#ff3100 52px,#ff2700 56px,#ff4300 60px,#ff4f00 64px,#ff6800 68px,#ff9500 72px,#ffad00 76px,#ffc300 80px,#ffc100 84px,#ffc000 88px,#ff9a00 92px,#ff6000 96px,#ff3c00 100px,#ff2d00 104px,#ff3a00 108px,#ff1b00 112px,#ff1d00 116px,#ff2500 120px,#ff2600 124px,#ff3f00 128px,#ff2300 132px,#ff0700 136px,#fc0000 140px,#ff1100 144px,#ff0000 148px,#fb0000 152px,#e20000 156px,#c60000 160px,#ff1400 164px,#ff3500 168px,#ff5100 172px,#ff2200 176px,#ea0000 180px,#b40000 184px,#880000 188px,#fe0000 192px,#da0000 196px,#b20000 200px,#df0000 204px,#d80000 208px,#ff3d00 212px,#ffc200 216px,#ff7e00 220px,#ff8700 224px,#ff6900 228px,#ff5200 232px,#ffa000 236px,#ff8000 240px,#ffb100 244px,#ff7e00 248px,#ff5700 252px,#ff5600 256px,#ff1000 260px,#ff8700 264px,#ff5a00 268px,#ffa600 272px,#ffda00 276px,#ff9f00 280px,#ffc300 284px,#ffc700 288px,#fff400 292px,#ffe800 296px,#ffff3c 300px,#ffb000 304px,#ff8900 308px,#ff6b00 312px,#ff4200 316px,#ff4600 320px)"></div>
<div style="height:2px;background:linear-gradient(90deg,#ff8300 0px,#ff9000 4px,#ff9100 8px,#ff8e00 12px,#ff8700 16px,#ff6f00 20px,#ff6c00 24px,#ff5d00 28px,#ff4700 32px,#ff3c00 36px,#ff2300 40px,#ff1600 44px,#ff1b00 48px,#ff1c00 52px,#ff1b00 56px,#ff3d00 60px,#ff4e00 64px,#ff6c00 68px,#ff9900 72px,#ffa500 76px,#ffc000 80px,#ffbd00 84px,#ffc200 88px,#ffab00 92px,#ff5d00 96px,#ff3400 100px,#ff2900 104px,#ff3000 108px,#ff3500 112px,#ff3300 116px,#ff3300 120px,#ff4400 124px,#ff4f00 128px,#ff4100 132px,#ff2100 136px,#ff0800 140px,#f00000 144px,#ff1200 148px,#ff1400 152px,#d90000 156px,#cc0000 160px,#d80000 164px,#f50000 168px,#ff3c00 172px,#ff3b00 176px,#ff1a00 180px,#ff1d00 184px,#d70000 188px,#ff1a00 192px,#ff1200 196px,#b90000 200px,#ff1b00 204px,#ff3000 208px,#ff2400 212px,#ff7200 216px,#ff3000 220px,#ff4900 224px,#ff6a00 228px,#ff7000 232px,#ff9600 236px,#ff6100 240px,#ff5600 244px,#ff5700 248px,#ff6b00 252px,#ffaa00 256px,#ff9100 260px,#ffad00 264px,#ff8f00 268px,#fffb00 272px,#ffff7f 276px,#ffff90 280px,#ffffe7 284px,#fffe00 288px,#ffbc00 292px,#ffc200 296px,#ffd700 300px,#ffa400 304px,#ffdf00 308px,#ffa300 312px,#ff5200 316px,#ffa800 320px)"></div>
<div style="height:2px;background:linear-gradient(90deg,#ff7000 0px,#ff8d00 4px,#ff8b00 8px,#ff8a00 12px,#ff9300 16px,#ff7300 20px,#ff6a00 24px,#ff5100 28px,#ff5500 32px,#ff4400 36px,#ff3900 40px,#ff4200 44px,#ff3400 48px,#ff3d00 52px,#ff3200 56px,#ff3a00 60px,#ff4600 64px,#ff5900 68px,#ff8800 72px,#ff9600 76px,#ffbf00 80px,#ffc600 84px,#ffc200 88px,#ffbc00 92px,#ff5d00 96px,#ff3c00 100px,#ff3700 104px,#ff1f00 108px,#ff2f00 112px,#ff2000 116px,#ff1900 120px,#ff2c00 124px,#ff1c00 128px,#ff0600 132px,#f30000 136px,#d80000 140px,#c70000 144px,#ff0f00 148px,#ff1b00 152px,#ff1e00 156px,#ff3000 160px,#ff0d00 164px,#ff1c00 168px,#ff4e00 172px,#ff5d00 176px,#ff4100 180px,#ff2900 184px,#f10000 188px,#eb0000 192px,#ff3e00 196px,#ff3d00 200px,#ff3e00 204px,#ff7e00 208px,#f80000 212px,#a60000 216px,#df0000 220px,#b50000 224px,#fe0000 228px,#ff6000 232px,#ff2d00 236px,#ff4a00 240px,#ff4500 244px,#ff2b00 248px,#ff2d00 252px,#ff7100 256px,#ff6e00 260px,#ff7500 264px,#ffb700 268px,#ffd600 272px,#ffc400 276px,#ff6d00 280px,#ff8400 284px,#a60000 288px,#8a0000 292px,#ff5d00 296px,#ff4300 300px,#ffef00 304px,#ffff7a 308px,#ffffc3 312px,#ffff6f 316px,#ffff67 320px)"></div>
<div style="height:2px;background:linear-gradient(90deg,#ff8100 0px,#ff9c00 4px,#ff9e00 8px,#ffa900 12px,#ffae00 16px,#ff9200 20px,#ff8200 24px,#ff7200 28px,#ff6500 32px,#ff4f00 36px,#ff3300 40px,#ff2e00 44px,#ff2900 48px,#ff3800 52px,#ff4d00 56px,#ff4800 60px,#ff4500 64px,#ff4d00 68px,#ff6000 72px,#ff8100 76px,#ffa400 80px,#ffae00 84px,#ffb700 88px,#ffaf00 92px,#ff7300 96px,#ff5600 100px,#ff4300 104px,#ff2c00 108px,#ff3400 112px,#ff3900 116px,#ff2b00 120px,#ff2000 124px,#f60000 128px,#c40000 132px,#c40000 136px,#cf0000 140px,#e50000 144px,#ff0300 148px,#f20000 152px,#f20000 156px,#fd0000 160px,#d70000 164px,#f30000 168px,#ff0900 172px,#f70000 176px,#f60000 180px,#a70000 184px,#7a0000 188px,#5d0000 192px,#be0000 196px,#ff1500 200px,#ff0100 204px,#ff1d00 208px,#be0000 212px,#b90000 216px,#ab0000 220px,#ab0000 224px,#bc0000 228px,#c80000 232px,#cd0000 236px,#fd0000 240px,#f50000 244px,#d90000 248px,#ff1000 252px,#f20000 256px,#b60000 260px,#e70000 264px,#ff3e00 268px,#ff4f00 272px,#ff3e00 276px,#930000 280px,#730000 284px,#680000 288px,#da0000 292px,#ff8700 296px,#ff7800 300px,#ff5100 304px,#ff1700 308px,#ff5700 312px,#ff2600 316px,#ff6d00 320px)"></div>
<div style="height:2px;background:linear-gradient(90deg,#ff7b00 0px,#ff8500 4px,#ff9900 8px,#ffa600 12px,#ffa000 16px,#ff9700 20px,#ff8300 24px,#ff7600 28px,#ff5e00 32px,#ff4300 36px,#ff2600 40px,#ff1e00 44px,#ff2000 48px,#ff2000 52px,#ff3500 56px,#ff3c00 60px,#ff3c00 64px,#ff4b00 68px,#ff5200 72px,#ff7000 76px,#ff8300 80px,#ff9300 84px,#ffa900 88px,#ff9900 92px,#ff7d00 96px,#ff5e00 100px,#ff5700 104px,#ff4e00 108px,#ff3600 112px,#ff4100 116px,#ff3600 120px,#ff2f00 124px,#ff1900 128px,#f90000 132px,#f70000 136px,#ff0b00 140px,#ff4600 144px,#ff5300 148px,#fb0000 152px,#df0000 156px,#b30000 160px,#770000 164px,#a00000 168px,#7c0000 172px,#7f0000 176px,#a80000 180px,#be0000 184px,#e20000 188px,#ed0000 192px,#f00000 196px,#d90000 200px,#ff0100 204px,#e80000 208px,#ca0000 212px,#ff4b00 216px,#ca0000 220px,#ff1600 224px,#fb0000 228px,#a20000 232px,#d10000 236px,#8c0000 240px,#8a0000 244px,#bf0000 248px,#ff2e00 252px,#ff0400 256px,#ff2900 260px,#ff1d00 264px,#ff4700 268px,#ff7200 272px,#ff3900 276px,#e90000 280px,#a50000 284px,#ff0700 288px,#ff8900 292px,#ffcd00 296px,#ffa200 300px,#dd0000 304px,#af0000 308px,#bf0000 312px,#df0000 316px,#ff6900 320px)"></div>
<div style="height:2px;background:linear-gradient(90deg,#ff7000 0px,#ff7900 4px,#ff8c00 8px,#ff9300 12px,#ff9b00 16px,#ff9300 20px,#ff8000 24px,#ff7400 28px,#ff6900 32px,#ff6000 36px,#ff4f00 40px,#ff4700 44px,#ff3200 48px,#ff2500 52px,#ff2100 56px,#ff1b00 60px,#ff2200 64px,#ff3500 68px,#ff4b00 72px,#ff6a00 76px,#ff9200 80px,#ffa500 84px,#ffb500 88px,#ffbd00 92px,#ff8900 96px,#ff5f00 100px,#ff6200 104px,#ff4b00 108px,#ff3e00 112px,#ff3c00 116px,#ff3500 120px,#ff3200 124px,#ff3600 128px,#ff3e00 132px,#ff2c00 136px,#ff4900 140px,#ff6e00 144px,#ff7600 148px,#ff5500 152px,#ff2d00 156px,#ff0600 160px,#d20000 164px,#dd0000 168px,#cb0000 172px,#ea0000 176px,#ff3900 180px,#ff5f00 184px,#ff9800 188px,#ff9000 192px,#ff4700 196px,#ff2a00 200px,#ff2700 204px,#e30000 208px,#ff0000 212px,#ff2200 216px,#ed0000 220px,#ff2c00 224px,#cd0000 228px,#9e0000 232px,#8f0000 236px,#730000 240px,#ab0000 244px,#c90000 248px,#ff3200 252px,#ff4f00 256px,#ff9000 260px,#ff7100 264px,#ff5200 268px,#ff1500 272px,#980000 276px,#b60000 280px,#be0000 284px,#cc0000 288px,#ff5a00 292px,#ff8e00 296px,#ff4900 300px,#ff4800 304px,#ff4d00 308px,#ff3900 312px,#ffb500 316px,#ffcb00 320px)"></div>
<div style="height:2px;background:linear-gradient(90deg,#ff7f00 0px,#ff8600 4px,#ff8900 8px,#ff9500 12px,#ffa500 16px,#ffa500 20px,#ff9d00 24px,#ff9c00 28px,#ff8f00 32px,#ff8800 36px,#ff7000 40px,#ff4800 44px,#ff3700 48px,#ff1e00 52px,#ff2a00 56px,#ff2500 60px,#ff2700 64px,#ff3000 68px,#ff3600 72px,#ff5400 76px,#ff7c00 80px,#ff9700 84px,#ffad00 88px,#ffc500 92px,#ff9d00 96px,#ff7400 100px,#ff7000 104px,#ff5600 108px,#ff4b00 112px,#ff5500 116px,#ff4d00 120px,#ff3400 124px,#ff3000 128px,#ff2700 132px,#ff0000 136px,#ff2000 140px,#ff0a00 144px,#ff0e00 148px,#ff2300 152px,#ff1b00 156px,#ff1200 160px,#ff0200 164px,#ff1a00 168px,#ff0800 172px,#ff2b00 176px,#ff4800 180px,#ff0900 184px,#ff3b00 188px,#ff3400 192px,#ff0900 196px,#ff3f00 200px,#ff1100 204px,#de0000 208px,#ff0700 212px,#ff0300 216px,#f30000 220px,#ff2f00 224px,#ff0800 228px,#ff1000 232px,#ff0600 236px,#ff1500 240px,#fe0000 244px,#b90000 248px,#e90000 252px,#d90000 256px,#ff1a00 260px,#ff2100 264px,#f90000 268px,#ac0000 272px,#310000 276px,#2a0000 280px,#8c0000 284px,#a60000 288px,#ff2b00 292px,#ff8800 296px,#ff6300 300px,#ffc100 304px,#ffc000 308px,#ff7a00 312px,#ff3900 316px,#ff0d00 320px)"></div>
<div style="height:2px;background:linear-gradient(90deg,#ff9b00 0px,#ff8900 4px,#ff8300 8px,#ff8d00 12px,#ff9900 16px,#ffb200 20px,#ffbd00 24px,#ffc000 28px,#ffa700 32px,#ff8300 36px,#ff6500 40px,#ff3900 44px,#ff2900 48px,#ff1900 52px,#ff2400 56px,#ff2100 60px,#ff2600 64px,#ff2900 68px,#ff2c00 72px,#ff3e00 76px,#ff5600 80px,#ff6800 84px,#ff8400 88px,#ffa000 92px,#ff8a00 96px,#ff8d00 100px,#ff7700 104px,#ff7400 108px,#ff7b00 112px,#ff7a00 116px,#ff8300 120px,#ff5200 124px,#ff4400 128px,#ff1700 132px,#f60000 136px,#ff0a00 140px,#f50000 144px,#fb0000 148px,#e50000 152px,#ff2500 156px,#fa0000 160px,#d00000 164px,#fa0000 168px,#b30000 172px,#d40000 176px,#ef0000 180px,#bf0000 184px,#c40000 188px,#d20000 192px,#ea0000 196px,#fc0000 200px,#ff1a00 204px,#ff1900 208px,#ff1700 212px,#ff2b00 216px,#ff1a00 220px,#ff4800 224px,#ff5000 228px,#ff7300 232px,#ff8f00 236px,#ff8e00 240px,#ff3e00 244px,#ec0000 248px,#870000 252px,#860000 256px,#f00000 260px,#ff3100 264px,#ff7d00 268px,#ff3000 272px,#ff1f00 276px,#e10000 280px,#ff0600 284px,#f60000 288px,#fa0000 292px,#ff5100 296px,#ff1700 300px,#ff7500 304px,#ff3200 308px,#f60000 312px,#550000 316px,#3e0000 320px)"></div>
<div style="height:1.4px;background:linear-gradient(90deg,#ff9700 0px,#ff8f00 4px,#ff8700 8px,#ff8600 12px,#ff9200 16px,#ffa800 20px,#ffc500 24px,#ffd100 28px,#ffc100 32px,#ff9900 36px,#ff7b00 40px,#ff5300 44px,#ff3100 48px,#ff3100 52px,#ff2c00 56px,#ff2c00 60px,#ff3600 64px,#ff3a00 68px,#ff4100 72px,#ff5000 76px,#ff6800 80px,#ff7400 84px,#ff8900 88px,#ff9900 92px,#ff8b00 96px,#ff8500 100px,#ff6e00 104px,#ff7d00 108px,#ff8900 112px,#ff8800 116px,#ff9200 120px,#ff6100 124px,#ff5b00 128px,#ff5800 132px,#ff4a00 136px,#ff6700 140px,#ff6600 144px,#ff5200 148px,#ff4600 152px,#ff5700 156px,#ff3f00 160px,#ff0100 164px,#f20000 168px,#e30000 172px,#e60000 176px,#dd0000 180px,#db0000 184px,#c90000 188px,#a10000 192px,#ff0d00 196px,#f60000 200px,#cf0000 204px,#e00000 208px,#7e0000 212px,#b40000 216px,#e10000 220px,#ff0100 224px,#ff2800 228px,#e10000 232px,#ea0000 236px,#ff0e00 240px,#ff2900 244px,#ff3600 248px,#e60000 252px,#e80000 256px,#d30000 260px,#ff2800 264px,#ff5000 268px,#ff0a00 272px,#ff7100 276px,#ff4700 280px,#ff5800 284px,#ff3900 288px,#df0000 292px,#d60000 296px,#e70000 300px,#ff2d00 304px,#d20000 308px,#d80000 312px,#4d0000 316px,#640000 320px)"></div></div>
<div style="position:absolute;left:383.80px;top:44.70px;width:313.10px;height:129.60px;overflow:hidden"><div style="height:2px;background:linear-gradient(90deg,#ff8000 0px,#ff8500 4px,#ff7b00 8px,#ff7700 12px,#ff7d00 16px,#ff6b00 20px,#ff6f00 24px,#ff6800 28px,#ff5600 32px,#ff5d00 36px,#ff4100 40px,#ff3200 44px,#ff4a00 48px,#ff6100 52px,#ff8b00 56px,#ff7700 60px,#ff3200 64px,#ff1400 68px,#ff0d00 72px,#ff4700 76px,#ff8800 80px,#ff9700 84px,#ff8e00 88px,#ff4400 92px,#ff1800 96px,#ff1a00 100px,#ff4b00 104px,#ffd500 108px,#ffc800 112px,#ff5100 116px,#ff2b00 120px,#ff1d00 124px,#ff6200 128px,#ffff1f 132px,#ffffaa 136px,#ffff04 140px,#ff6000 144px,#ff1c00 148px,#ff0c00 152px,#ff0700 156px,#ff2700 160px,#ff5000 164px,#ffd200 168px,#ffffd8 172px,#ffffff 176px,#ffff5e 180px,#ffc900 184px,#ff9000 188px,#ff6000 192px,#ff5b00 196px,#ff4600 200px,#ff2000 204px,#ff0100 208px,#ff0800 212px,#ff3d00 216px,#ffa300 220px,#ffb300 224px,#ffdb00 228px,#ffff4a 232px,#ffffff 236px,#ffffff 240px,#ffffff 244px,#ffffdc 248px,#ffd600 252px,#ffcf00 256px,#ffc500 260px,#fff000 264px,#ffff01 268px,#ffdb00 272px,#ff9c00 276px,#ff2800 280px,#ff2900 284px,#ff2100 288px,#ff2b00 292px,#ff6f00 296px,#ff6d00 300px,#ff4000 304px,#f70000 308px,#e10000 312px,#d30000 313.1px)"></div>
<div style="height:2px;background:linear-gradient(90deg,#ff9100 0px,#ff8600 4px,#ff9000 8px,#ff8c00 12px,#ff7900 16px,#ff6200 20px,#ff5200 24px,#ff4300 28px,#ff4600 32px,#ff5500 36px,#ff4900 40px,#ff3e00 44px,#ff4700 48px,#ff5d00 52px,#ff8500 56px,#ff7400 60px,#ff3b00 64px,#ff2100 68px,#ff1c00 72px,#ff5c00 76px,#ff8a00 80px,#ff9900 84px,#ff8000 88px,#ff3200 92px,#ff0900 96px,#ff1900 100px,#ff5000 104px,#ffd500 108px,#fff100 112px,#ff6800 116px,#ff4500 120px,#ff3600 124px,#ff7100 128px,#ffff22 132px,#ffffd4 136px,#ffff5b 140px,#ff8a00 144px,#ff0300 148px,#f70000 152px,#ff1300 156px,#ff2600 160px,#ff5c00 164px,#ffae00 168px,#ffff80 172px,#ffffff 176px,#ffffbb 180px,#ffff1e 184px,#ffb800 188px,#ff8a00 192px,#ff7f00 196px,#ff4500 200px,#ff0300 204px,#b30000 208px,#9c0000 212px,#ca0000 216px,#da0000 220px,#ff0d00 224px,#ff4a00 228px,#ffa500 232px,#ffff76 236px,#ffffff 240px,#ffffff 244px,#ffffff 248px,#ffffb8 252px,#ffff76 256px,#ffff31 260px,#ffbe00 264px,#ffc700 268px,#ff6200 272px,#ff7a00 276px,#ff0c00 280px,#c40000 284px,#f50000 288px,#ff2800 292px,#ff6f00 296px,#ffce00 300px,#ffd900 304px,#ff7100 308px,#ffcb00 312px,#ff4d00 313.1px)"></div>
<div style="height:2px;background:linear-gradient(90deg,#ff7b00 0px,#ff7f00 4px,#ff8400 8px,#ff8100 12px,#ff6d00 16px,#ff5800 20px,#ff4600 24px,#ff3800 28px,#ff3d00 32px,#ff4e00 36px,#ff5000 40px,#ff4e00 44px,#ff4c00 48px,#ff5e00 52px,#ff9300 56px,#ff9000 60px,#ff6d00 64px,#ff4900 68px,#ff2b00 72px,#ff5700 76px,#ff7c00 80px,#ff8b00 84px,#ff6900 88px,#ff2700 92px,#f60000 96px,#ff0800 100px,#ff4e00 104px,#ffc300 108px,#ffff08 112px,#ff7200 116px,#ff3800 120px,#ff1900 124px,#ff4800 128px,#ffbf00 132px,#ffff82 136px,#ffff9e 140px,#ffbc00 144px,#ff4500 148px,#ff3a00 152px,#ff3d00 156px,#ff5500 160px,#ff6500 164px,#ffa600 168px,#ffff58 172px,#ffffff 176px,#ffffff 180px,#ffff8a 184px,#ffc900 188px,#ff6400 192px,#ff1400 196px,#bb0000 200px,#a30000 204px,#7b0000 208px,#7a0000 212px,#a90000 216px,#7e0000 220px,#b10000 224px,#ff0b00 228px,#ff8200 232px,#ffff10 236px,#fffff4 240px,#ffffd7 244px,#ffffff 248px,#ffffe9 252px,#ffff87 256px,#ffff3c 260px,#ff6700 264px,#ff8d00 268px,#ff2900 272px,#ff3900 276px,#ff5200 280px,#ff0900 284px,#ff3400 288px,#ff7700 292px,#ff8c00 296px,#ffd800 300px,#ffe600 304px,#ff8900 308px,#ff9700 312px,#ff3100 313.1px)"></div>
<div style="height:2px;background:linear-gradient(90deg,#ff6500 0px,#ff6d00 4px,#ff5e00 8px,#ff5f00 12px,#ff5700 16px,#ff4800 20px,#ff3900 24px,#ff2800 28px,#ff2900 32px,#ff3a00 36px,#ff4a00 40px,#ff5500 44px,#ff5700 48px,#ff6d00 52px,#ffa600 56px,#ffb100 60px,#ff9500 64px,#ff5600 68px,#ff2500 72px,#ff2a00 76px,#ff5000 80px,#ff7c00 84px,#ff7600 88px,#ff4d00 92px,#ff1d00 96px,#ff1200 100px,#ff4c00 104px,#ffaa00 108px,#ffff02 112px,#ff7800 116px,#ff1100 120px,#ff0700 124px,#ff3400 128px,#ff8800 132px,#ffff51 136px,#ffff9e 140px,#ffcd00 144px,#ff4f00 148px,#ff2700 152px,#ff1000 156px,#ff1600 160px,#ff2000 164px,#ff6c00 168px,#ffff08 172px,#ffffc1 176px,#ffffff 180px,#ffffff 184px,#ffff27 188px,#ff9200 192px,#ea0000 196px,#a80000 200px,#b70000 204px,#de0000 208px,#ff2d00 212px,#ff3600 216px,#ff3d00 220px,#ff2900 224px,#ff1100 228px,#ff6c00 232px,#ffaf00 236px,#ffff3f 240px,#ffffca 244px,#ffffb6 248px,#ffffc3 252px,#ffffe3 256px,#ffff6c 260px,#ffe700 264px,#ffff21 268px,#ffc000 272px,#ff7f00 276px,#ff9700 280px,#ff3200 284px,#ff5c00 288px,#ffa600 292px,#ff8a00 296px,#ffb000 300px,#ffa600 304px,#ff7200 308px,#ff2800 312px,#be0000 313.1px)"></div>
<div style="height:2px;background:linear-gradient(90deg,#ff6d00 0px,#ff6800 4px,#ff5a00 8px,#ff5800 12px,#ff5400 16px,#ff5100 20px,#ff3a00 24px,#ff2500 28px,#ff2300 32px,#ff2500 36px,#ff3a00 40px,#ff4100 44px,#ff4400 48px,#ff5d00 52px,#ff9800 56px,#ffa600 60px,#ff8900 64px,#ff4400 68px,#ff0c00 72px,#ff1300 76px,#ff3900 80px,#ff6a00 84px,#ff7b00 88px,#ff6800 92px,#ff3e00 96px,#ff2b00 100px,#ff4e00 104px,#ff9600 108px,#ffff0a 112px,#ff8f00 116px,#ff1c00 120px,#ff1700 124px,#ff3800 128px,#ff7b00 132px,#ffff29 136px,#ffff83 140px,#fff400 144px,#ff6400 148px,#ff2300 152px,#ff2b00 156px,#ff0c00 160px,#ff0100 164px,#ff3000 168px,#ffaf00 172px,#ffff59 176px,#ffffff 180px,#ffffff 184px,#ffffff 188px,#ffff15 192px,#ff7000 196px,#ff4700 200px,#ff3e00 204px,#ff5600 208px,#ff6c00 212px,#ed0000 216px,#9e0000 220px,#910000 224px,#8d0000 228px,#e90000 232px,#ff6200 236px,#ffc000 240px,#ffffa9 244px,#ffff72 248px,#ffff8a 252px,#ffffff 256px,#ffff58 260px,#fffff2 264px,#ffffec 268px,#ffff86 272px,#ffff35 276px,#ffd800 280px,#ff9800 284px,#ff9c00 288px,#ffbe00 292px,#ff8b00 296px,#fffd00 300px,#ffff1d 304px,#ffff39 308px,#ffff10 312px,#ff5800 313.1px)"></div>
<div style="height:2px;background:linear-gradient(90deg,#ff7c00 0px,#ff6e00 4px,#ff5e00 8px,#ff4f00 12px,#ff4100 16px,#ff3500 20px,#ff2000 24px,#ff1900 28px,#ff1e00 32px,#ff2300 36px,#ff3700 40px,#ff3a00 44px,#ff3100 48px,#ff4b00 52px,#ff9300 56px,#ffb300 60px,#ffa100 64px,#ff6800 68px,#ff2500 72px,#ff2300 76px,#ff4700 80px,#ff6b00 84px,#ff7600 88px,#ff6000 92px,#ff3900 96px,#ff2700 100px,#ff4300 104px,#ff8300 108px,#ffff17 112px,#ffb600 116px,#ff4700 120px,#ff3300 124px,#ff3700 128px,#ff6d00 132px,#fff500 136px,#ffffb3 140px,#ffff87 144px,#ffbc00 148px,#ff5b00 152px,#ff4800 156px,#ff2200 160px,#ff1000 164px,#ff3900 168px,#ff8400 172px,#fffb00 176px,#ffffd1 180px,#ffffff 184px,#ffffff 188px,#ffff4c 192px,#ff9800 196px,#ff7100 200px,#ff3600 204px,#ff5400 208px,#ff2a00 212px,#ab0000 216px,#830000 220px,#650000 224px,#b20000 228px,#fb0000 232px,#ff5a00 236px,#ffe200 240px,#ffed00 244px,#ffe600 248px,#ffc200 252px,#ff9800 256px,#ffce00 260px,#ffe700 264px,#ffff05 268px,#ffff99 272px,#ffff8a 276px,#ffffff 280px,#ffffff 284px,#ffff95 288px,#ffe000 292px,#ff4500 296px,#ff8e00 300px,#ffbc00 304px,#ffff24 308px,#ffef00 312px,#ff6b00 313.1px)"></div>
<div style="height:2px;background:linear-gradient(90deg,#ff6e00 0px,#ff6200 4px,#ff5300 8px,#ff4000 12px,#ff3300 16px,#ff2200 20px,#ff0c00 24px,#ff0c00 28px,#ff0f00 32px,#ff1900 36px,#ff3800 40px,#ff3e00 44px,#ff4000 48px,#ff6200 52px,#ffa500 56px,#ffd600 60px,#ffc800 64px,#ff8800 68px,#ff4a00 72px,#ff3400 76px,#ff4c00 80px,#ff7700 84px,#ff8200 88px,#ff7100 92px,#ff4400 96px,#ff2100 100px,#ff2d00 104px,#ff6400 108px,#fff500 112px,#ffd100 116px,#ff5900 120px,#ff3500 124px,#ff3200 128px,#ff4f00 132px,#ffb500 136px,#ffffa1 140px,#ffffc5 144px,#ffd800 148px,#ff4900 152px,#ff0700 156px,#da0000 160px,#e00000 164px,#ff2300 168px,#ff5b00 172px,#ffc500 176px,#ffff53 180px,#ffffec 184px,#ffffff 188px,#ffff71 192px,#ffaf00 196px,#ff5900 200px,#ff0e00 204px,#ff2900 208px,#ff0500 212px,#ff1800 216px,#ff5200 220px,#ff0300 224px,#ff2a00 228px,#ff2800 232px,#ff3b00 236px,#ffdb00 240px,#fff000 244px,#ffff31 248px,#ffff2b 252px,#ffca00 256px,#ffe900 260px,#ffdf00 264px,#ffff68 268px,#ffffff 272px,#ffffff 276px,#ffffff 280px,#ffffff 284px,#ffffff 288px,#ffff43 292px,#ffb800 296px,#ff6900 300px,#ff6800 304px,#ffd600 308px,#ffa800 312px,#ff9200 313.1px)"></div>
<div style="height:2px;background:linear-gradient(90deg,#ff7000 0px,#ff7600 4px,#ff7400 8px,#ff5e00 12px,#ff5300 16px,#ff3a00 20px,#ff1f00 24px,#ff1c00 28px,#ff1200 32px,#ff1e00 36px,#ff3700 40px,#ff3600 44px,#ff3d00 48px,#ff4d00 52px,#ff7900 56px,#ffac00 60px,#ffa900 64px,#ff7400 68px,#ff4e00 72px,#ff2f00 76px,#ff3100 80px,#ff6900 84px,#ff6f00 88px,#ff7700 92px,#ff5a00 96px,#ff1c00 100px,#ff2800 104px,#ff5500 108px,#ffe000 112px,#fff400 116px,#ff6d00 120px,#ff3a00 124px,#ff3500 128px,#ff4700 132px,#ff8500 136px,#ffff54 140px,#ffffc7 144px,#ffe200 148px,#ff5200 152px,#ff0100 156px,#cd0000 160px,#d20000 164px,#ff0f00 168px,#ff4b00 172px,#ff9e00 176px,#ffff04 180px,#ffff9b 184px,#ffffff 188px,#fffffb 192px,#ffff49 196px,#ffa300 200px,#ff4a00 204px,#ff2400 208px,#e40000 212px,#ff1100 216px,#ff3000 220px,#de0000 224px,#ff2000 228px,#fa0000 232px,#ff0400 236px,#ff5b00 240px,#ff6000 244px,#ffe100 248px,#ffff79 252px,#ffffd2 256px,#ffffe5 260px,#ffffff 264px,#ffffff 268px,#ffffff 272px,#ffffff 276px,#ffff95 280px,#ffab00 284px,#ffce00 288px,#ff7d00 292px,#fffc00 296px,#ffe300 300px,#ffdf00 304px,#ffff18 308px,#ffff2f 312px,#ffff8c 313.1px)"></div>
<div style="height:2px;background:linear-gradient(90deg,#ff7400 0px,#ff7d00 4px,#ff7600 8px,#ff5500 12px,#ff3d00 16px,#ff2400 20px,#ff0900 24px,#ff0c00 28px,#ff0900 32px,#ff1d00 36px,#ff3100 40px,#ff2e00 44px,#ff3700 48px,#ff3c00 52px,#ff6c00 56px,#ffb100 60px,#ffb900 64px,#ff9500 68px,#ff6500 72px,#ff3900 76px,#ff2a00 80px,#ff4f00 84px,#ff5800 88px,#ff6800 92px,#ff6400 96px,#ff2b00 100px,#ff3c00 104px,#ff5300 108px,#ffcb00 112px,#ffff0b 116px,#ff7400 120px,#ff3f00 124px,#ff3b00 128px,#ff5c00 132px,#ff8f00 136px,#ffff49 140px,#ffffff 144px,#ffff53 148px,#ffa500 152px,#ff4000 156px,#ff1400 160px,#ff0100 164px,#ff2300 168px,#ff5a00 172px,#ff7e00 176px,#ffb200 180px,#ffff3b 184px,#ffffff 188px,#ffffff 192px,#ffffff 196px,#ffff5f 200px,#ffab00 204px,#ff4100 208px,#ef0000 212px,#af0000 216px,#f20000 220px,#b40000 224px,#f90000 228px,#f30000 232px,#a60000 236px,#ff0b00 240px,#c70000 244px,#ff6500 248px,#ffe200 252px,#ffff36 256px,#ffffbf 260px,#ffffff 264px,#ffffff 268px,#fffff6 272px,#ffffe8 276px,#ffd700 280px,#ff5200 284px,#ff8a00 288px,#ff7f00 292px,#ffff31 296px,#ffffb5 300px,#ffff94 304px,#ffffeb 308px,#ffff5c 312px,#ffff84 313.1px)"></div>
<div style="height:2px;background:linear-gradient(90deg,#ff7500 0px,#ff6700 4px,#ff5200 8px,#ff3000 12px,#ff1900 16px,#ff1200 20px,#ff0200 24px,#ff0700 28px,#f30000 32px,#ff0400 36px,#ff1c00 40px,#ff1b00 44px,#ff3800 48px,#ff4900 52px,#ff8700 56px,#ffdc00 60px,#ffee00 64px,#ffc300 68px,#ff8100 72px,#ff4a00 76px,#ff3900 80px,#ff5300 84px,#ff6500 88px,#ff7d00 92px,#ff7200 96px,#ff4f00 100px,#ff4a00 104px,#ff5400 108px,#ffbc00 112px,#ffff17 116px,#ff8900 120px,#ff3800 124px,#ff2200 128px,#ff3300 132px,#ff5400 136px,#ffe100 140px,#ffffc4 144px,#ffff8d 148px,#ffc200 152px,#ff4a00 156px,#ff2e00 160px,#ff0c00 164px,#ff1a00 168px,#ff4b00 172px,#ff5800 176px,#ff5b00 180px,#ffca00 184px,#ffffab 188px,#ffffff 192px,#ffffff 196px,#ffffff 200px,#ffff65 204px,#ffca00 208px,#ff5a00 212px,#ff2e00 216px,#ff4800 220px,#f10000 224px,#ff1400 228px,#ff0400 232px,#960000 236px,#ff0800 240px,#f30000 244px,#ff1800 248px,#ff9600 252px,#ffa000 256px,#ffc200 260px,#ffff1a 264px,#ffda00 268px,#ffff0d 272px,#ffff57 276px,#ffff27 280px,#ffffa2 284px,#ffff83 288px,#ffff79 292px,#ffff6a 296px,#ffff2f 300px,#ffeb00 304px,#ffff4b 308px,#ffe500 312px,#ffff85 313.1px)"></div>
<div style="height:2px;background:linear-gradient(90deg,#ff8100 0px,#ff7000 4px,#ff5c00 8px,#ff3b00 12px,#ff2e00 16px,#ff2200 20px,#ff0d00 24px,#ff0f00 28px,#ec0000 32px,#f30000 36px,#ff0600 40px,#ff0a00 44px,#ff2200 48px,#ff2f00 52px,#ff6700 56px,#ffc900 60px,#ffed00 64px,#ffcd00 68px,#ff8800 72px,#ff3b00 76px,#ff2500 80px,#ff4300 84px,#ff6200 88px,#ff9200 92px,#ff8300 96px,#ff6300 100px,#ff4d00 104px,#ff5300 108px,#ffb600 112px,#ffff36 116px,#ffb900 120px,#ff4d00 124px,#ff2a00 128px,#ff1a00 132px,#ff2f00 136px,#ff9600 140px,#ffff6e 144px,#ffff9b 148px,#ffcf00 152px,#ff4800 156px,#ff1e00 160px,#ff0d00 164px,#ff0300 168px,#ff1500 172px,#ff1300 176px,#ff2600 180px,#ff8100 184px,#ffff22 188px,#ffffff 192px,#ffffff 196px,#ffffff 200px,#ffffab 204px,#ffff15 208px,#ff8f00 212px,#ff7500 216px,#ff1600 220px,#c60000 224px,#f50000 228px,#fe0000 232px,#ed0000 236px,#ff2b00 240px,#ff4c00 244px,#d30000 248px,#ff1700 252px,#ff7e00 256px,#ff8c00 260px,#fff900 264px,#ffff38 268px,#ffff48 272px,#ffff78 276px,#ffffff 280px,#ffffff 284px,#ffffff 288px,#ffffff 292px,#ffff7c 296px,#ffff63 300px,#ffd300 304px,#ffe900 308px,#ffff03 312px,#ffff4e 313.1px)"></div>
<div style="height:2px;background:linear-gradient(90deg,#ff6200 0px,#ff5f00 4px,#ff5800 8px,#ff4e00 12px,#ff4700 16px,#ff3200 20px,#ff1b00 24px,#ff1100 28px,#f50000 32px,#ff0200 36px,#ff1000 40px,#ff1600 44px,#ff2a00 48px,#ff3100 52px,#ff5500 56px,#ffba00 60px,#ffe500 64px,#ffd400 68px,#ff9500 72px,#ff4b00 76px,#ff2200 80px,#ff2b00 84px,#ff5300 88px,#ff7900 92px,#ff7d00 96px,#ff6f00 100px,#ff4a00 104px,#ff5b00 108px,#ffa300 112px,#ffff29 116px,#ffea00 120px,#ff6e00 124px,#ff5000 128px,#ff3500 132px,#ff3600 136px,#ff6b00 140px,#ffff40 144px,#ffffc9 148px,#ffff22 152px,#ff7300 156px,#ff2600 160px,#ff2f00 164px,#ff1500 168px,#ff2f00 172px,#ff2d00 176px,#ff2900 180px,#ff6b00 184px,#ffe600 188px,#ffff65 192px,#ffffc4 196px,#fffffc 200px,#ffff8c 204px,#ffff39 208px,#ffc600 212px,#ff4500 216px,#d10000 220px,#4b0000 224px,#880000 228px,#b20000 232px,#c60000 236px,#ff8100 240px,#ff7c00 244px,#ff5200 248px,#ff5400 252px,#ffb800 256px,#ffae00 260px,#fff200 264px,#ffff69 268px,#ffff19 272px,#ffff6f 276px,#ffffa2 280px,#ffff9b 284px,#ffffbe 288px,#ffffe0 292px,#ffffff 296px,#ffffff 300px,#ffffff 304px,#ffffff 308px,#ffff8c 312px,#ffff60 313.1px)"></div>
<div style="height:2px;background:linear-gradient(90deg,#ff7700 0px,#ff6d00 4px,#ff5500 8px,#ff4a00 12px,#ff3c00 16px,#ff2400 20px,#ff1800 24px,#ff0300 28px,#f70000 32px,#ff0700 36px,#ff1f00 40px,#ff2f00 44px,#ff3a00 48px,#ff4300 52px,#ff5d00 56px,#ffad00 60px,#ffdb00 64px,#ffca00 68px,#ff9600 72px,#ff5400 76px,#ff2b00 80px,#ff2b00 84px,#ff4d00 88px,#ff7500 92px,#ff8300 96px,#ff7600 100px,#ff5200 104px,#ff5800 108px,#ff9200 112px,#ffff16 116px,#ffff03 120px,#ff7500 124px,#ff3900 128px,#ff2500 132px,#ff1900 136px,#ff4600 140px,#fff000 144px,#ffffc9 148px,#ffff83 152px,#ff9100 156px,#ff3200 160px,#ff2900 164px,#ff1b00 168px,#ff4100 172px,#ff3800 176px,#ff2300 180px,#ff3400 184px,#ff9300 188px,#ffff11 192px,#ffffdd 196px,#ffffff 200px,#ffffff 204px,#ffff9f 208px,#ffd900 212px,#ff6d00 216px,#ff2000 220px,#f00000 224px,#ff3200 228px,#ff2700 232px,#ff2900 236px,#ff8400 240px,#ff6100 244px,#ff4600 248px,#ff3f00 252px,#ff3200 256px,#fa0000 260px,#ff5800 264px,#ffa600 268px,#ffcf00 272px,#ffff54 276px,#ffff3d 280px,#ffd300 284px,#fff000 288px,#ffaa00 292px,#ffff07 296px,#ffffff 300px,#ffffff 304px,#ffffff 308px,#ffff2d 312px,#ffab00 313.1px)"></div>
<div style="height:2px;background:linear-gradient(90deg,#ff8400 0px,#ff7600 4px,#ff7200 8px,#ff5500 12px,#ff3c00 16px,#ff3500 20px,#ff1d00 24px,#ff1900 28px,#ff1b00 32px,#ff1b00 36px,#ff3700 40px,#ff4100 44px,#ff3c00 48px,#ff4200 52px,#ff5000 56px,#ff9e00 60px,#ffdd00 64px,#ffdc00 68px,#ffb000 72px,#ff6200 76px,#ff3700 80px,#ff2e00 84px,#ff4400 88px,#ff7a00 92px,#ff8b00 96px,#ff8100 100px,#ff6000 104px,#ff4f00 108px,#ff8700 112px,#fff500 116px,#fffe00 120px,#ff6800 124px,#ff1900 128px,#ff1400 132px,#ff2800 136px,#ff6500 140px,#ffe300 144px,#ffffe9 148px,#ffffe4 152px,#ffcb00 156px,#ff5d00 160px,#ff2800 164px,#ff1100 168px,#ff1000 172px,#fd0000 176px,#ff0400 180px,#ff1500 184px,#ff8400 188px,#ffff1a 192px,#ffffe9 196px,#ffffff 200px,#ffffff 204px,#ffff73 208px,#ff9b00 212px,#ff6a00 216px,#fb0000 220px,#ff4d00 224px,#ff6300 228px,#fc0000 232px,#ff3100 236px,#cd0000 240px,#f20000 244px,#cf0000 248px,#fa0000 252px,#cb0000 256px,#9e0000 260px,#ff3300 264px,#ff4c00 268px,#ffa300 272px,#fff400 276px,#ffff5d 280px,#fff100 284px,#ffff7e 288px,#ffff08 292px,#ffee00 296px,#ffffe8 300px,#ffff4c 304px,#ffffd7 308px,#ffff4a 312px,#ffb500 313.1px)"></div>
<div style="height:2px;background:linear-gradient(90deg,#ff7900 0px,#ff6e00 4px,#ff7400 8px,#ff5b00 12px,#ff4200 16px,#ff3e00 20px,#ff1b00 24px,#ff2200 28px,#ff2300 32px,#ff2400 36px,#ff4a00 40px,#ff5000 44px,#ff5000 48px,#ff4700 52px,#ff4c00 56px,#ff9900 60px,#ffe700 64px,#fffe00 68px,#ffd900 72px,#ff8a00 76px,#ff4f00 80px,#ff3300 84px,#ff4300 88px,#ff7100 92px,#ff8c00 96px,#ff8d00 100px,#ff6900 104px,#ff5500 108px,#ff7b00 112px,#ffdf00 116px,#ffff18 120px,#ff7c00 124px,#ff2500 128px,#ff1a00 132px,#ff3e00 136px,#ff5c00 140px,#ffb900 144px,#ffff9c 148px,#ffffc7 152px,#ffe800 156px,#ff6100 160px,#ff4000 164px,#ff2a00 168px,#ff2500 172px,#ff1e00 176px,#ff0900 180px,#ff3200 184px,#ff6900 188px,#ffb800 192px,#ffff67 196px,#ffffff 200px,#ffffff 204px,#fffff6 208px,#fffd00 212px,#ff7e00 216px,#ff3100 220px,#ff5700 224px,#ff5000 228px,#ff1600 232px,#ff3600 236px,#de0000 240px,#ed0000 244px,#ff4100 248px,#ff7300 252px,#ff4f00 256px,#ff6d00 260px,#ff8200 264px,#ff2700 268px,#ff5400 272px,#ff7300 276px,#ff8800 280px,#ffff02 284px,#ffff49 288px,#ffff76 292px,#ffff26 296px,#fff900 300px,#ffff5d 304px,#ffff93 308px,#ffffd8 312px,#ffffff 313.1px)"></div>
<div style="height:2px;background:linear-gradient(90deg,#ff8300 0px,#ff7900 4px,#ff5c00 8px,#ff4900 12px,#ff3400 16px,#ff2d00 20px,#ff1800 24px,#ff0f00 28px,#ff0f00 32px,#ff1300 36px,#ff2f00 40px,#ff4c00 44px,#ff5100 48px,#ff3b00 52px,#ff4a00 56px,#ff7800 60px,#ffc100 64px,#ffed00 68px,#ffc600 72px,#ff7d00 76px,#ff3d00 80px,#ff1d00 84px,#ff3600 88px,#ff6e00 92px,#ff8f00 96px,#ff9600 100px,#ff7200 104px,#ff5700 108px,#ff7600 112px,#ffc600 116px,#ffff33 120px,#ffaf00 124px,#ff4000 128px,#ff3600 132px,#ff3a00 136px,#ff3d00 140px,#ff7500 144px,#ffff0e 148px,#ffff9c 152px,#fffa00 156px,#ff5800 160px,#ff2000 164px,#fb0000 168px,#ff0600 172px,#ff0d00 176px,#f60000 180px,#ff2c00 184px,#ff1100 188px,#ff4500 192px,#ffd900 196px,#ffff5e 200px,#ffffff 204px,#ffffff 208px,#fffff8 212px,#ffff2a 216px,#ffd700 220px,#ff8f00 224px,#ff4000 228px,#ff6300 232px,#ff6300 236px,#ff2a00 240px,#ff2200 244px,#ff5d00 248px,#f80000 252px,#ff0000 256px,#ff5200 260px,#f40000 264px,#ff1e00 268px,#ff5300 272px,#ff3600 276px,#ffac00 280px,#ffee00 284px,#ffea00 288px,#fff600 292px,#ffba00 296px,#ffee00 300px,#ffff84 304px,#ffffff 308px,#ffffff 312px,#ffffff 313.1px)"></div>
<div style="height:2px;background:linear-gradient(90deg,#ff7800 0px,#ff7300 4px,#ff6100 8px,#ff5200 12px,#ff4e00 16px,#ff4b00 20px,#ff3c00 24px,#ff2800 28px,#ff2000 32px,#ff1600 36px,#ff2600 40px,#ff4900 44px,#ff4a00 48px,#ff3b00 52px,#ff4400 56px,#ff6800 60px,#ffa800 64px,#ffdb00 68px,#ffb700 72px,#ff8300 76px,#ff3900 80px,#ff1700 84px,#ff3800 88px,#ff6a00 92px,#ff9500 96px,#ffad00 100px,#ff7a00 104px,#ff5900 108px,#ff7300 112px,#ff9f00 116px,#ffff42 120px,#ffd600 124px,#ff5800 128px,#ff3a00 132px,#ff3000 136px,#ff4500 140px,#ff6500 144px,#ffff00 148px,#ffffe8 152px,#ffff8f 156px,#ffbe00 160px,#ff5000 164px,#ff0900 168px,#f90000 172px,#df0000 176px,#e10000 180px,#ff1d00 184px,#ff1700 188px,#ff5200 192px,#ffae00 196px,#ffff0e 200px,#ffffe3 204px,#ffffff 208px,#fffffa 212px,#ffff2a 216px,#ffb300 220px,#ff7300 224px,#ff2d00 228px,#ff2800 232px,#ff3e00 236px,#ce0000 240px,#d10000 244px,#e60000 248px,#4b0000 252px,#910000 256px,#910000 260px,#510000 264px,#a30000 268px,#e40000 272px,#ff4800 276px,#ffe700 280px,#fff300 284px,#ffff18 288px,#ffe400 292px,#ffff08 296px,#ffff76 300px,#ffff1f 304px,#ffff94 308px,#ffff9a 312px,#ffff9a 313.1px)"></div>
<div style="height:2px;background:linear-gradient(90deg,#ff8000 0px,#ff7900 4px,#ff6500 8px,#ff5f00 12px,#ff6900 16px,#ff6f00 20px,#ff6300 24px,#ff5900 28px,#ff5100 32px,#ff3700 36px,#ff4e00 40px,#ff6800 44px,#ff5e00 48px,#ff5900 52px,#ff5000 56px,#ff7100 60px,#ffbc00 64px,#ffee00 68px,#ffe500 72px,#ffb200 76px,#ff5c00 80px,#ff3200 84px,#ff3d00 88px,#ff6500 92px,#ff9e00 96px,#ffba00 100px,#ff7e00 104px,#ff4600 108px,#ff4600 112px,#ff7800 116px,#ffff25 120px,#fff300 124px,#ff6c00 128px,#ff1d00 132px,#ff1900 136px,#ff3100 140px,#ff5000 144px,#ffea00 148px,#ffffdf 152px,#ffffff 156px,#ffff2e 160px,#ff8600 164px,#ff3f00 168px,#ff1300 172px,#e30000 176px,#ef0000 180px,#ff1a00 184px,#ff3100 188px,#ff5f00 192px,#ff8d00 196px,#fff500 200px,#ffffb9 204px,#ffffff 208px,#ffffff 212px,#ffffde 216px,#ffbc00 220px,#ff8f00 224px,#ff4a00 228px,#ec0000 232px,#ff3b00 236px,#c50000 240px,#ca0000 244px,#fc0000 248px,#c00000 252px,#ff0200 256px,#f70000 260px,#e10000 264px,#ff2c00 268px,#ff8100 272px,#ffe700 276px,#ffff23 280px,#ffda00 284px,#ff5600 288px,#ff2500 292px,#ff6300 296px,#ff5800 300px,#ff2300 304px,#ff4e00 308px,#ffa000 312px,#ffcd00 313.1px)"></div>
<div style="height:2px;background:linear-gradient(90deg,#ff9800 0px,#ff8b00 4px,#ff8100 8px,#ff7f00 12px,#ff8100 16px,#ff8a00 20px,#ff8100 24px,#ff7e00 28px,#ff7d00 32px,#ff6500 36px,#ff6600 40px,#ff7600 44px,#ff6f00 48px,#ff5b00 52px,#ff4c00 56px,#ff6000 60px,#ffaa00 64px,#ffe200 68px,#ffed00 72px,#ffbe00 76px,#ff6b00 80px,#ff4200 84px,#ff3b00 88px,#ff6000 92px,#ff9b00 96px,#ffbc00 100px,#ff8e00 104px,#ff4500 108px,#ff3500 112px,#ff6900 116px,#ffff02 120px,#ffff43 124px,#ffa300 128px,#ff4300 132px,#ff3600 136px,#ff2500 140px,#ff3700 144px,#ff9f00 148px,#ffff63 152px,#ffffff 156px,#ffff52 160px,#ff7700 164px,#ff3000 168px,#ff0000 172px,#d10000 176px,#eb0000 180px,#ff1500 184px,#ff1600 188px,#ff3100 192px,#ff4100 196px,#ff7800 200px,#ffe200 204px,#ffff98 208px,#ffffff 212px,#ffffff 216px,#ffffbb 220px,#ffff14 224px,#ff8f00 228px,#f00000 232px,#e00000 236px,#d10000 240px,#d60000 244px,#ff3700 248px,#ff8600 252px,#ff7600 256px,#ff4100 260px,#ff2500 264px,#ff2f00 268px,#ff8200 272px,#ffc400 276px,#ff8e00 280px,#ff7b00 284px,#df0000 288px,#d50000 292px,#fc0000 296px,#ff0e00 300px,#ff4100 304px,#ff3a00 308px,#ff9600 312px,#ffa200 313.1px)"></div>
<div style="height:2px;background:linear-gradient(90deg,#ff8400 0px,#ff7c00 4px,#ff9400 8px,#ff8b00 12px,#ff8900 16px,#ff8700 20px,#ff8600 24px,#ff8900 28px,#ff8300 32px,#ff7f00 36px,#ff6200 40px,#ff6400 44px,#ff6d00 48px,#ff5500 52px,#ff3d00 56px,#ff4c00 60px,#ff8100 64px,#ffbd00 68px,#ffd800 72px,#ffbf00 76px,#ff7300 80px,#ff4000 84px,#ff3000 88px,#ff4800 92px,#ff8700 96px,#ffb600 100px,#ffa600 104px,#ff6800 108px,#ff4900 112px,#ff6500 116px,#fff000 120px,#ffff6d 124px,#ffbd00 128px,#ff4f00 132px,#ff2900 136px,#ff1a00 140px,#ff3700 144px,#ff7e00 148px,#ffff26 152px,#ffffeb 156px,#ffff86 160px,#ff9900 164px,#ff3200 168px,#e50000 172px,#bf0000 176px,#d30000 180px,#ff0500 184px,#ff1200 188px,#ff3000 192px,#ff2b00 196px,#ff2000 200px,#ff3200 204px,#ff6f00 208px,#ffff21 212px,#ffffef 216px,#ffffff 220px,#ffffff 224px,#ffff31 228px,#ff8800 232px,#ff0f00 236px,#df0000 240px,#af0000 244px,#dd0000 248px,#ff0200 252px,#bd0000 256px,#8d0000 260px,#560000 264px,#620000 268px,#fe0000 272px,#ff6400 276px,#ff7b00 280px,#ffce00 284px,#ff6f00 288px,#ff5700 292px,#ff5d00 296px,#ff2e00 300px,#ff8a00 304px,#ffb300 308px,#ffd400 312px,#ff9400 313.1px)"></div>
<div style="height:2px;background:linear-gradient(90deg,#ff8100 0px,#ff7c00 4px,#ff8900 8px,#ff8100 12px,#ff7500 16px,#ff7b00 20px,#ff8c00 24px,#ff9c00 28px,#ffa500 32px,#ffaa00 36px,#ff8700 40px,#ff7e00 44px,#ff8000 48px,#ff5e00 52px,#ff3e00 56px,#ff4100 60px,#ff7300 64px,#ffbf00 68px,#ffeb00 72px,#ffdc00 76px,#ff9600 80px,#ff4c00 84px,#ff2900 88px,#ff3f00 92px,#ff7600 96px,#ffa700 100px,#ffa900 104px,#ff5c00 108px,#ff3b00 112px,#ff4b00 116px,#ffcb00 120px,#ffff5b 124px,#ffba00 128px,#ff3600 132px,#f60000 136px,#ff0600 140px,#ff3900 144px,#ff8200 148px,#ffff16 152px,#ffffff 156px,#ffffff 160px,#fffd00 164px,#ff7200 168px,#ef0000 172px,#c10000 176px,#c40000 180px,#e10000 184px,#ff1600 188px,#ff1200 192px,#ff0d00 196px,#ff1600 200px,#ff2500 204px,#ffa500 208px,#ffff95 212px,#ffffff 216px,#ffffff 220px,#ffffff 224px,#ffff42 228px,#ff9f00 232px,#ff3800 236px,#f00000 240px,#a10000 244px,#8a0000 248px,#790000 252px,#530000 256px,#cc0000 260px,#870000 264px,#ac0000 268px,#ff4100 272px,#ff3000 276px,#ff8300 280px,#ff7c00 284px,#ff7c00 288px,#ff6900 292px,#ff7700 296px,#ff7000 300px,#ff5600 304px,#ffc000 308px,#ffb000 312px,#ffb900 313.1px)"></div>
<div style="height:2px;background:linear-gradient(90deg,#ffa800 0px,#ff9800 4px,#ff9b00 8px,#ff9a00 12px,#ff8e00 16px,#ff9800 20px,#ff9d00 24px,#ffad00 28px,#ffb100 32px,#ffb700 36px,#ff9c00 40px,#ff9300 44px,#ff9600 48px,#ff7200 52px,#ff5000 56px,#ff3a00 60px,#ff6900 64px,#ffba00 68px,#ffe700 72px,#ffea00 76px,#ffab00 80px,#ff5700 84px,#ff3100 88px,#ff3700 92px,#ff6700 96px,#ffa900 100px,#ffba00 104px,#ff7100 108px,#ff4e00 112px,#ff4e00 116px,#ffaa00 120px,#ffff4b 124px,#ffe300 128px,#ff5900 132px,#ff2600 136px,#ff2400 140px,#ff5100 144px,#ff8700 148px,#ffe500 152px,#ffffff 156px,#ffffff 160px,#ffff87 164px,#ffce00 168px,#ff4300 172px,#ff0300 176px,#f90000 180px,#f20000 184px,#ff0600 188px,#f80000 192px,#d90000 196px,#ff0b00 200px,#ff4b00 204px,#ffd200 208px,#fffffe 212px,#ffffff 216px,#ffffff 220px,#ffffff 224px,#ffffff 228px,#ffff08 232px,#ffa800 236px,#ff7400 240px,#ff3e00 244px,#ff3400 248px,#ff5600 252px,#f80000 256px,#ff2e00 260px,#ff1f00 264px,#ff1300 268px,#ff4300 272px,#ea0000 276px,#c90000 280px,#480000 284px,#bb0000 288px,#e00000 292px,#ff4d00 296px,#ffaf00 300px,#ff6e00 304px,#ff8500 308px,#ff4200 312px,#ff6700 313.1px)"></div>
<div style="height:2px;background:linear-gradient(90deg,#ffa900 0px,#ffa900 4px,#ffac00 8px,#ffb600 12px,#ffbe00 16px,#ffc900 20px,#ffd100 24px,#ffd100 28px,#ffcd00 32px,#ffc200 36px,#ffad00 40px,#ffa600 44px,#ffa000 48px,#ff8800 52px,#ff5b00 56px,#ff3900 60px,#ff5c00 64px,#ffa400 68px,#ffd400 72px,#ffda00 76px,#ffa200 80px,#ff5300 84px,#ff1e00 88px,#ff1a00 92px,#ff4f00 96px,#ff9700 100px,#ffc000 104px,#ff8b00 108px,#ff5b00 112px,#ff4a00 116px,#ff8600 120px,#ffff20 124px,#ffff16 128px,#ff7d00 132px,#ff4e00 136px,#ff2400 140px,#ff3b00 144px,#ff5700 148px,#ff8800 152px,#ffff66 156px,#ffffea 160px,#ffff97 164px,#ffdc00 168px,#ff6d00 172px,#ff3c00 176px,#ff3400 180px,#ff2c00 184px,#ff1800 188px,#ff2500 192px,#e20000 196px,#ee0000 200px,#ff0b00 204px,#ff3800 208px,#ffc800 212px,#ffff70 216px,#ffffe4 220px,#ffffff 224px,#ffffe4 228px,#ffff24 232px,#ff9a00 236px,#ff3800 240px,#ff1300 244px,#ff2d00 248px,#ffaf00 252px,#ff4e00 256px,#ff1000 260px,#ff1900 264px,#ff0d00 268px,#ff4600 272px,#ff1000 276px,#c80000 280px,#a40000 284px,#ff0f00 288px,#ff2b00 292px,#ff7500 296px,#ff3d00 300px,#ff3e00 304px,#ff3b00 308px,#ff4900 312px,#ff5000 313.1px)"></div>
<div style="height:2px;background:linear-gradient(90deg,#ff9f00 0px,#ffab00 4px,#ffa900 8px,#ffc000 12px,#ffcc00 16px,#ffe300 20px,#fffb00 24px,#fff200 28px,#fff900 32px,#ffe500 36px,#ffca00 40px,#ffb700 44px,#ff9b00 48px,#ff7d00 52px,#ff3e00 56px,#ff1600 60px,#ff3800 64px,#ff7400 68px,#ffba00 72px,#ffd400 76px,#ffa400 80px,#ff6700 84px,#ff2800 88px,#ff2700 92px,#ff4f00 96px,#ff8800 100px,#ffba00 104px,#ff7500 108px,#ff3f00 112px,#ff3100 116px,#ff6300 120px,#fff600 124px,#ffff39 128px,#ff9200 132px,#ff4600 136px,#ff0b00 140px,#ff0700 144px,#ff1400 148px,#ff3e00 152px,#ffea00 156px,#ffffa2 160px,#ffffbf 164px,#ffe400 168px,#ff4f00 172px,#ff1100 176px,#ff1800 180px,#ff0f00 184px,#ff0a00 188px,#ff1b00 192px,#e80000 196px,#d50000 200px,#b70000 204px,#ef0000 208px,#ff3400 212px,#ff9b00 216px,#ffff2a 220px,#ffff0b 224px,#ffff54 228px,#fffe00 232px,#ff8c00 236px,#ff5900 240px,#ff2800 244px,#ff2a00 248px,#ff5700 252px,#ff0700 256px,#bb0000 260px,#c30000 264px,#9e0000 268px,#ff0000 272px,#ff1a00 276px,#d00000 280px,#d70000 284px,#e80000 288px,#ff0e00 292px,#ff3500 296px,#ff1c00 300px,#ff3600 304px,#ff1800 308px,#ff6d00 312px,#ff6000 313.1px)"></div>
<div style="height:2px;background:linear-gradient(90deg,#ff9600 0px,#ffa500 4px,#ffa400 8px,#ffb500 12px,#ffc500 16px,#ffe000 20px,#fff400 24px,#fff200 28px,#fff600 32px,#ffda00 36px,#ffbc00 40px,#ffa100 44px,#ff9200 48px,#ff8400 52px,#ff4700 56px,#ff1600 60px,#ff2900 64px,#ff5b00 68px,#ffa900 72px,#ffd100 76px,#ffb000 80px,#ff6e00 84px,#ff3000 88px,#ff2700 92px,#ff4700 96px,#ff8a00 100px,#ffd300 104px,#ff9500 108px,#ff4f00 112px,#ff3300 116px,#ff4d00 120px,#ffe300 124px,#ffff5d 128px,#ffd300 132px,#ff6200 136px,#ff2300 140px,#ff2500 144px,#ff3000 148px,#ff5500 152px,#ffd700 156px,#ffffb8 160px,#ffffff 164px,#ffff59 168px,#ff7b00 172px,#f10000 176px,#e30000 180px,#db0000 184px,#e40000 188px,#fb0000 192px,#ff1300 196px,#ff1500 200px,#f90000 204px,#ff3900 208px,#ff5c00 212px,#ffae00 216px,#ffff72 220px,#ffffac 224px,#ffffeb 228px,#ffffa0 232px,#ffff09 236px,#ffd800 240px,#ff7e00 244px,#ff7a00 248px,#ff3500 252px,#f60000 256px,#be0000 260px,#3b0000 264px,#5c0000 268px,#6d0000 272px,#d10000 276px,#ff4d00 280px,#ff4200 284px,#da0000 288px,#b90000 292px,#b20000 296px,#af0000 300px,#e40000 304px,#e80000 308px,#ff2c00 312px,#ff4400 313.1px)"></div>
<div style="height:2px;background:linear-gradient(90deg,#ff8900 0px,#ffa400 4px,#ffa400 8px,#ffb500 12px,#ffc600 16px,#ffdf00 20px,#fffa00 24px,#fffc00 28px,#ffff02 32px,#ffdb00 36px,#ffbe00 40px,#ffa400 44px,#ffa100 48px,#ff9800 52px,#ff6600 56px,#ff2c00 60px,#ff2300 64px,#ff4f00 68px,#ff9500 72px,#ffb800 76px,#ffa700 80px,#ff7000 84px,#ff3400 88px,#ff2700 92px,#ff4b00 96px,#ff8e00 100px,#ffd900 104px,#ffb200 108px,#ff5c00 112px,#ff2a00 116px,#ff4500 120px,#ffc400 124px,#ffff60 128px,#ffff0c 132px,#ff7200 136px,#ff3600 140px,#ff3d00 144px,#ff4e00 148px,#ff6d00 152px,#ffc100 156px,#ffffa0 160px,#ffffff 164px,#ffffff 168px,#fff500 172px,#ff2900 176px,#ef0000 180px,#da0000 184px,#e70000 188px,#ff1200 192px,#ff0800 196px,#ff3800 200px,#ff4100 204px,#ff5300 208px,#ff8a00 212px,#ff8a00 216px,#ffdc00 220px,#ffff39 224px,#ffff8d 228px,#ffffc2 232px,#ffff2b 236px,#ffbf00 240px,#ff8700 244px,#ff6400 248px,#ff4f00 252px,#ff5600 256px,#ff1100 260px,#9d0000 264px,#c80000 268px,#c50000 272px,#e00000 276px,#ffd100 280px,#ffa800 284px,#ff5e00 288px,#ff6e00 292px,#f60000 296px,#8a0000 300px,#7c0000 304px,#8f0000 308px,#af0000 312px,#ff5400 313.1px)"></div>
<div style="height:2px;background:linear-gradient(90deg,#ff8000 0px,#ff9500 4px,#ff9c00 8px,#ffb900 12px,#ffd300 16px,#fffb00 20px,#ffff1d 24px,#ffff21 28px,#ffff0a 32px,#ffd700 36px,#ffb700 40px,#ff9900 44px,#ff9300 48px,#ff8800 52px,#ff6300 56px,#ff2800 60px,#ff1200 64px,#ff3100 68px,#ff7000 72px,#ffa200 76px,#ffa500 80px,#ff8000 84px,#ff4a00 88px,#ff2800 92px,#ff3b00 96px,#ff7e00 100px,#ffbe00 104px,#ffb500 108px,#ff5e00 112px,#ff2300 116px,#ff4100 120px,#ff9700 124px,#ffff48 128px,#ffff26 132px,#ff7d00 136px,#ff3300 140px,#ff1b00 144px,#ff2f00 148px,#ff4100 152px,#ff8a00 156px,#ffff32 160px,#ffffff 164px,#ffffff 168px,#ffff56 172px,#ff4b00 176px,#f30000 180px,#d40000 184px,#c30000 188px,#d10000 192px,#a40000 196px,#c80000 200px,#e30000 204px,#e80000 208px,#ff5900 212px,#ff4900 216px,#ff7a00 220px,#ffff1a 224px,#ffffb1 228px,#ffffff 232px,#ffffc4 236px,#ffff03 240px,#ffbb00 244px,#ff7800 248px,#ff5b00 252px,#ff0d00 256px,#e20000 260px,#cd0000 264px,#ee0000 268px,#ff3800 272px,#c60000 276px,#ff4c00 280px,#ff3500 284px,#f70000 288px,#ff6300 292px,#ff2400 296px,#ff2f00 300px,#ff8f00 304px,#ff5b00 308px,#ff3a00 312px,#ff6000 313.1px)"></div>
<div style="height:2px;background:linear-gradient(90deg,#ff9100 0px,#ff9800 4px,#ffb100 8px,#ffc400 12px,#ffe200 16px,#ffff0c 20px,#ffff04 24px,#fffb00 28px,#ffe500 32px,#ffba00 36px,#ff9f00 40px,#ff8500 44px,#ff7700 48px,#ff6a00 52px,#ff5000 56px,#ff1700 60px,#ff0600 64px,#ff2a00 68px,#ff5600 72px,#ff9f00 76px,#ffac00 80px,#ff8300 84px,#ff5b00 88px,#ff1a00 92px,#ff1b00 96px,#ff5400 100px,#ff9600 104px,#ffb200 108px,#ff5e00 112px,#ff3400 116px,#ff4400 120px,#ff7b00 124px,#ffff12 128px,#ffff3d 132px,#ff9d00 136px,#ff2f00 140px,#ff1200 144px,#ff1600 148px,#ff1800 152px,#ff5d00 156px,#ffcf00 160px,#ffffbe 164px,#ffffff 168px,#ffff8c 172px,#ff7200 176px,#ff2600 180px,#ff2100 184px,#ff1800 188px,#ed0000 192px,#bb0000 196px,#b10000 200px,#ba0000 204px,#df0000 208px,#f60000 212px,#f00000 216px,#ff1d00 220px,#ffff22 224px,#ffffff 228px,#ffffff 232px,#ffffff 236px,#ffff7c 240px,#ffb100 244px,#ff8e00 248px,#ff5100 252px,#ff2900 256px,#ff5e00 260px,#ff2800 264px,#ff1a00 268px,#ff1400 272px,#b00000 276px,#d20000 280px,#e80000 284px,#e60000 288px,#9c0000 292px,#cc0000 296px,#ff2500 300px,#ff7400 304px,#ff8a00 308px,#ff3200 312px,#ff0d00 313.1px)"></div>
<div style="height:2px;background:linear-gradient(90deg,#ff9700 0px,#ffa500 4px,#ffb000 8px,#ffb100 12px,#ffc500 16px,#ffd300 20px,#ffd000 24px,#ffce00 28px,#ffce00 32px,#ffbe00 36px,#ffab00 40px,#ff8c00 44px,#ff7900 48px,#ff5500 52px,#ff2d00 56px,#f80000 60px,#e10000 64px,#ff1200 68px,#ff4a00 72px,#ff9e00 76px,#ffb900 80px,#ff9300 84px,#ff6600 88px,#ff1e00 92px,#ff0d00 96px,#ff3900 100px,#ff7e00 104px,#ffb000 108px,#ff5e00 112px,#ff3c00 116px,#ff3c00 120px,#ff6900 124px,#ffe800 128px,#ffff59 132px,#ffd300 136px,#ff4800 140px,#ff2800 144px,#ff1500 148px,#ff1f00 152px,#ff6100 156px,#ffb600 160px,#ffff74 164px,#ffffff 168px,#ffffba 172px,#ffa500 176px,#ff6600 180px,#ff6700 184px,#ff5f00 188px,#ff3600 192px,#ea0000 196px,#d10000 200px,#ff0000 204px,#ff0c00 208px,#ff0c00 212px,#ec0000 216px,#e70000 220px,#ff8f00 224px,#ffff73 228px,#ffffff 232px,#ffffff 236px,#ffffda 240px,#ffff16 244px,#ffff00 248px,#ffff34 252px,#ffff24 256px,#fffa00 260px,#ffba00 264px,#ff5300 268px,#ff4400 272px,#ff4600 276px,#ff3d00 280px,#ff4a00 284px,#ff4b00 288px,#e80000 292px,#be0000 296px,#910000 300px,#310000 304px,#620000 308px,#240000 312px,#a00000 313.1px)"></div>
<div style="height:2px;background:linear-gradient(90deg,#ff9200 0px,#ffa600 4px,#ff9b00 8px,#ff9c00 12px,#ff9e00 16px,#ff9c00 20px,#ffa000 24px,#ff9500 28px,#ffa200 32px,#ff9f00 36px,#ff9a00 40px,#ff8900 44px,#ff7500 48px,#ff6700 52px,#ff3f00 56px,#ff0e00 60px,#e70000 64px,#f50000 68px,#ff3600 72px,#ff8600 76px,#ffba00 80px,#ffb300 84px,#ff7700 88px,#ff3b00 92px,#ff0c00 96px,#ff3000 100px,#ff8400 104px,#ffc600 108px,#ff8e00 112px,#ff4c00 116px,#ff3a00 120px,#ff5d00 124px,#ffcd00 128px,#ffff67 132px,#ffff15 136px,#ff7100 140px,#ff4400 144px,#ff3600 148px,#ff2a00 152px,#ff5a00 156px,#ff8700 160px,#ffff00 164px,#fffff4 168px,#ffffe7 172px,#ffd900 176px,#ff6e00 180px,#ff5300 184px,#ff1c00 188px,#fd0000 192px,#f10000 196px,#c80000 200px,#ff1400 204px,#ff2000 208px,#ff1d00 212px,#ff4a00 216px,#ff3200 220px,#ff2600 224px,#ffcb00 228px,#ffffb7 232px,#ffffd1 236px,#ffffff 240px,#ffff54 244px,#ffcf00 248px,#ffe000 252px,#ffaf00 256px,#ff6800 260px,#ff1200 264px,#cf0000 268px,#fa0000 272px,#ff0100 276px,#ff3900 280px,#ffb600 284px,#ff7b00 288px,#ff5700 292px,#ff0f00 296px,#f60000 300px,#9f0000 304px,#d50000 308px,#c70000 312px,#e80000 313.1px)"></div>
<div style="height:2px;background:linear-gradient(90deg,#ff9900 0px,#ff9b00 4px,#ff8d00 8px,#ff9a00 12px,#ff8b00 16px,#ff8a00 20px,#ff9200 24px,#ff7800 28px,#ff8100 32px,#ff7900 36px,#ff7600 40px,#ff7400 44px,#ff7600 48px,#ff8400 52px,#ff6f00 56px,#ff3c00 60px,#ff0a00 64px,#fc0000 68px,#ff2800 72px,#ff6e00 76px,#ff9600 80px,#ffa200 84px,#ff7200 88px,#ff3d00 92px,#ff1f00 96px,#ff3800 100px,#ff9500 104px,#ffe500 108px,#ffac00 112px,#ff5300 116px,#ff3700 120px,#ff4f00 124px,#ffad00 128px,#ffff54 132px,#ffff43 136px,#ff8900 140px,#ff3900 144px,#ff2700 148px,#fd0000 152px,#ff2300 156px,#ff5100 160px,#ffbe00 164px,#ffffd9 168px,#ffffff 172px,#ffff81 176px,#ffb600 180px,#ff5000 184px,#ff0800 188px,#f40000 192px,#ff0d00 196px,#ff0200 200px,#ff4400 204px,#ff2f00 208px,#ff1200 212px,#ff3d00 216px,#ff1800 220px,#ff0800 224px,#ff8d00 228px,#ffff6e 232px,#ffffd4 236px,#ffffff 240px,#ffff2e 244px,#ff7400 248px,#ff5600 252px,#ff5800 256px,#ff2b00 260px,#b90000 264px,#8d0000 268px,#850000 272px,#8e0000 276px,#ec0000 280px,#ff4e00 284px,#ff0d00 288px,#ff6300 292px,#ff4b00 296px,#ffa300 300px,#ffa000 304px,#ff8b00 308px,#ff8200 312px,#ff0100 313.1px)"></div>
<div style="height:2px;background:linear-gradient(90deg,#ff7900 0px,#ff7d00 4px,#ff7700 8px,#ff8b00 12px,#ff8900 16px,#ff9500 20px,#ffa300 24px,#ff9b00 28px,#ff9400 32px,#ff8900 36px,#ff6f00 40px,#ff6b00 44px,#ff7300 48px,#ff7d00 52px,#ff8600 56px,#ff5300 60px,#ff1e00 64px,#ff0c00 68px,#ff2200 72px,#ff5f00 76px,#ff8400 80px,#ff8d00 84px,#ff6500 88px,#ff2200 92px,#ff0900 96px,#ff2500 100px,#ff7c00 104px,#ffdc00 108px,#ffaa00 112px,#ff3400 116px,#ff1200 120px,#ff3200 124px,#ff8900 128px,#ffff5d 132px,#ffff85 136px,#ffc900 140px,#ff4b00 144px,#ff1700 148px,#f80000 152px,#ff0800 156px,#ff4600 160px,#ff9400 164px,#ffff74 168px,#ffffff 172px,#ffffc6 176px,#ffd500 180px,#ff7500 184px,#ff2700 188px,#ff0900 192px,#ff2100 196px,#ff1200 200px,#ff3100 204px,#fd0000 208px,#f80000 212px,#ed0000 216px,#eb0000 220px,#ff4500 224px,#ff5500 228px,#ffff28 232px,#ffff7f 236px,#ffff8f 240px,#ffff01 244px,#ff7800 248px,#ffe900 252px,#ffff12 256px,#ffff0e 260px,#ff9f00 264px,#ff4000 268px,#ce0000 272px,#dd0000 276px,#ff3100 280px,#ff3000 284px,#ff5900 288px,#ffcc00 292px,#ff7800 296px,#ff1500 300px,#ff1c00 304px,#bb0000 308px,#da0000 312px,#ff0800 313.1px)"></div>
<div style="height:2px;background:linear-gradient(90deg,#ff8300 0px,#ff8700 4px,#ff7e00 8px,#ff7700 12px,#ff7c00 16px,#ff7900 20px,#ff7700 24px,#ff7a00 28px,#ff6f00 32px,#ff7900 36px,#ff6d00 40px,#ff6e00 44px,#ff7300 48px,#ff7100 52px,#ff8200 56px,#ff5800 60px,#ff1d00 64px,#ff0900 68px,#ff0d00 72px,#ff4f00 76px,#ff8900 80px,#ff9b00 84px,#ff8000 88px,#ff3700 92px,#ff0d00 96px,#ff1c00 100px,#ff5c00 104px,#ffc800 108px,#ffb500 112px,#ff2600 116px,#ff0d00 120px,#ff2500 124px,#ff6000 128px,#ffff45 132px,#ffffb4 136px,#ffff00 140px,#ff7600 144px,#ff2300 148px,#ff1900 152px,#ff1500 156px,#ff3400 160px,#ff7f00 164px,#ffff06 168px,#ffffff 172px,#ffffff 176px,#ffff16 180px,#ffa500 184px,#ff5400 188px,#ff0300 192px,#ff2000 196px,#f20000 200px,#d70000 204px,#c60000 208px,#ca0000 212px,#ff0000 216px,#ff5100 220px,#ffbb00 224px,#ffbd00 228px,#ffff49 232px,#ffffa5 236px,#ffffdb 240px,#ffff8f 244px,#fff600 248px,#ffff04 252px,#fff900 256px,#ffff22 260px,#ffdd00 264px,#ffb000 268px,#ff3f00 272px,#ff1500 276px,#ff1200 280px,#ff4d00 284px,#ff2b00 288px,#ff4200 292px,#ff0a00 296px,#5c0000 300px,#740000 304px,#520000 308px,#db0000 312px,#ff0f00 313.1px)"></div>
<div style="height:2px;background:linear-gradient(90deg,#ff9000 0px,#ff8c00 4px,#ff8200 8px,#ff7700 12px,#ff7f00 16px,#ff6a00 20px,#ff5b00 24px,#ff4e00 28px,#ff3c00 32px,#ff5100 36px,#ff5700 40px,#ff4700 44px,#ff5700 48px,#ff5e00 52px,#ff7d00 56px,#ff7700 60px,#ff3a00 64px,#ff2000 68px,#ff0d00 72px,#ff4c00 76px,#ff8f00 80px,#ffa700 84px,#ff9200 88px,#ff5200 92px,#ff2000 96px,#ff1e00 100px,#ff5c00 104px,#ffc600 108px,#ffdb00 112px,#ff5800 116px,#ff3300 120px,#ff3400 124px,#ff5100 128px,#fff800 132px,#ffff9f 136px,#ffff28 140px,#ff8e00 144px,#ff2100 148px,#ff2500 152px,#ff1c00 156px,#ff3100 160px,#ff9800 164px,#ffff06 168px,#ffffff 172px,#ffffff 176px,#ffffab 180px,#ffc900 184px,#ff6200 188px,#ff1c00 192px,#ff1f00 196px,#ff2d00 200px,#ff1700 204px,#e10000 208px,#e90000 212px,#fd0000 216px,#fd0000 220px,#ff2e00 224px,#ff5800 228px,#ff9400 232px,#ffdc00 236px,#ffff8a 240px,#ffff85 244px,#ffffe1 248px,#fffff0 252px,#ffffe3 256px,#ffffb6 260px,#fff700 264px,#ffbc00 268px,#ff6400 272px,#ff8800 276px,#ff1000 280px,#ff4d00 284px,#ff5a00 288px,#ff5d00 292px,#ffc800 296px,#ff4400 300px,#ff4e00 304px,#ff1300 308px,#fd0000 312px,#ff8200 313.1px)"></div>
<div style="height:2px;background:linear-gradient(90deg,#ff7200 0px,#ff7c00 4px,#ff7f00 8px,#ff8300 12px,#ff8400 16px,#ff6e00 20px,#ff5a00 24px,#ff4600 28px,#ff4200 32px,#ff4c00 36px,#ff4500 40px,#ff3b00 44px,#ff4000 48px,#ff5e00 52px,#ff9200 56px,#ff9300 60px,#ff6200 64px,#ff3300 68px,#ff1800 72px,#ff4500 76px,#ff7b00 80px,#ff9c00 84px,#ff8500 88px,#ff5500 92px,#ff1700 96px,#fd0000 100px,#ff4000 104px,#ffb200 108px,#ffeb00 112px,#ff7e00 116px,#ff3e00 120px,#ff2600 124px,#ff4800 128px,#ffc500 132px,#ffff8b 136px,#ffff70 140px,#ffb400 144px,#ff3a00 148px,#ff2200 152px,#ff0200 156px,#ff0a00 160px,#ff4300 164px,#ffa100 168px,#ffffa9 172px,#ffffff 176px,#ffffff 180px,#ffff5c 184px,#ffac00 188px,#ff6500 192px,#ff4a00 196px,#ff5100 200px,#ff3c00 204px,#ff0600 208px,#f40000 212px,#ee0000 216px,#f00000 220px,#cb0000 224px,#ff0a00 228px,#ff2200 232px,#ff9600 236px,#ffff7c 240px,#ffffdd 244px,#ffffff 248px,#ffffff 252px,#ffffff 256px,#ffffe0 260px,#fff700 264px,#ff7c00 268px,#ff9b00 272px,#ffff11 276px,#ffb200 280px,#ffe600 284px,#ffe600 288px,#ff8b00 292px,#ffbd00 296px,#ff6300 300px,#ff4d00 304px,#dd0000 308px,#7b0000 312px,#ff4200 313.1px)"></div>
<div style="height:2px;background:linear-gradient(90deg,#ff7200 0px,#ff7000 4px,#ff7000 8px,#ff6800 12px,#ff6100 16px,#ff5700 20px,#ff4a00 24px,#ff3900 28px,#ff3500 32px,#ff3a00 36px,#ff3e00 40px,#ff4b00 44px,#ff5700 48px,#ff7e00 52px,#ffa800 56px,#ffa400 60px,#ff7f00 64px,#ff4200 68px,#ff2c00 72px,#ff4200 76px,#ff5c00 80px,#ff7900 84px,#ff6300 88px,#ff4200 92px,#ff1300 96px,#f90000 100px,#ff2d00 104px,#ff9500 108px,#fff200 112px,#ff9000 116px,#ff4d00 120px,#ff2d00 124px,#ff4900 128px,#ff9800 132px,#ffff5a 136px,#ffff87 140px,#ffbc00 144px,#ff4000 148px,#ff0b00 152px,#f10000 156px,#ff0100 160px,#fd0000 164px,#ff5400 168px,#ffff09 172px,#ffffe7 176px,#ffffff 180px,#ffffff 184px,#ffff19 188px,#ff9f00 192px,#ff5e00 196px,#ff4800 200px,#ff4c00 204px,#ff2200 208px,#fc0000 212px,#fe0000 216px,#ff1600 220px,#ff2300 224px,#ff2600 228px,#ff5800 232px,#ffd000 236px,#ffffdd 240px,#ffffff 244px,#ffffff 248px,#ffffff 252px,#ffff61 256px,#ff9b00 260px,#ff5b00 264px,#ff3100 268px,#ff8100 272px,#ffed00 276px,#ffd700 280px,#ffd200 284px,#ff8500 288px,#ff5600 292px,#ff1e00 296px,#ff3f00 300px,#ff5300 304px,#d00000 308px,#ff0100 312px,#ff3700 313.1px)"></div>
<div style="height:2px;background:linear-gradient(90deg,#ff8100 0px,#ff7e00 4px,#ff7a00 8px,#ff6400 12px,#ff4700 16px,#ff3600 20px,#ff3d00 24px,#ff2800 28px,#ff1b00 32px,#ff2700 36px,#ff3100 40px,#ff3f00 44px,#ff5700 48px,#ff7800 52px,#ff9300 56px,#ffa600 60px,#ff8700 64px,#ff4f00 68px,#ff3f00 72px,#ff3a00 76px,#ff5000 80px,#ff6300 84px,#ff5900 88px,#ff4300 92px,#ff2100 96px,#ff1700 100px,#ff3b00 104px,#ff9300 108px,#ffff0f 112px,#ffa300 116px,#ff4700 120px,#ff2500 124px,#ff3e00 128px,#ff7900 132px,#ffff31 136px,#ffffc4 140px,#ffe300 144px,#ff4e00 148px,#ff1700 152px,#ff0900 156px,#ff2c00 160px,#ff4000 164px,#ff6900 168px,#fff400 172px,#ffffb0 176px,#ffffff 180px,#ffffff 184px,#ffff87 188px,#ffce00 192px,#ff4a00 196px,#ff0800 200px,#ff1900 204px,#e60000 208px,#b50000 212px,#c40000 216px,#990000 220px,#c60000 224px,#ca0000 228px,#ff0000 232px,#ff8e00 236px,#ffff02 240px,#ffff5e 244px,#ffff76 248px,#ffff46 252px,#ffe200 256px,#fff600 260px,#ffff41 264px,#ffff13 268px,#ffff11 272px,#fffb00 276px,#ff9400 280px,#ff4600 284px,#ffb000 288px,#ff9600 292px,#ffce00 296px,#fffc00 300px,#fff000 304px,#ffac00 308px,#ffd100 312px,#ffff60 313.1px)"></div>
<div style="height:2px;background:linear-gradient(90deg,#ff7300 0px,#ff7c00 4px,#ff7f00 8px,#ff6a00 12px,#ff4700 16px,#ff2e00 20px,#ff3300 24px,#ff2100 28px,#ff1e00 32px,#ff2200 36px,#ff2800 40px,#ff3600 44px,#ff4c00 48px,#ff6f00 52px,#ff8700 56px,#ffa400 60px,#ff8800 64px,#ff5900 68px,#ff4500 72px,#ff3500 76px,#ff4a00 80px,#ff6000 84px,#ff6700 88px,#ff6200 92px,#ff3900 96px,#ff2e00 100px,#ff4700 104px,#ff8d00 108px,#ffff27 112px,#ffb200 116px,#ff4400 120px,#ff2400 124px,#ff3a00 128px,#ff7b00 132px,#ffff1c 136px,#ffffe7 140px,#ffff4d 144px,#ff8900 148px,#ff3800 152px,#ff1f00 156px,#ff3100 160px,#ff5c00 164px,#ff6300 168px,#ffd700 172px,#ffff55 176px,#ffffff 180px,#ffffff 184px,#ffffe2 188px,#fff700 192px,#ff4d00 196px,#eb0000 200px,#c90000 204px,#bf0000 208px,#a50000 212px,#b30000 216px,#bb0000 220px,#d00000 224px,#f40000 228px,#ff2a00 232px,#ff9400 236px,#ffd800 240px,#ffcc00 244px,#ffed00 248px,#ffff5c 252px,#ffff77 256px,#ffffff 260px,#ffffff 264px,#ffffff 268px,#ffff9b 272px,#ffff2d 276px,#ff9100 280px,#ff8700 284px,#ffbb00 288px,#ffbe00 292px,#fffb00 296px,#ffda00 300px,#ffff1b 304px,#ff9100 308px,#ff7800 312px,#ffc700 313.1px)"></div>
<div style="height:2px;background:linear-gradient(90deg,#ff6b00 0px,#ff6200 4px,#ff6800 8px,#ff5200 12px,#ff4a00 16px,#ff3d00 20px,#ff3400 24px,#ff3000 28px,#ff1c00 32px,#ff1700 36px,#ff1c00 40px,#ff1f00 44px,#ff3c00 48px,#ff5f00 52px,#ff9200 56px,#ffc300 60px,#ffad00 64px,#ff7c00 68px,#ff4a00 72px,#ff2b00 76px,#ff3800 80px,#ff5100 84px,#ff6900 88px,#ff6a00 92px,#ff4c00 96px,#ff3b00 100px,#ff4300 104px,#ff7d00 108px,#ffff26 112px,#ffdb00 116px,#ff6000 120px,#ff3d00 124px,#ff2a00 128px,#ff4f00 132px,#ffc400 136px,#ffff96 140px,#ffff8a 144px,#ffa200 148px,#ff3c00 152px,#ff0500 156px,#fa0000 160px,#ff4900 164px,#ff4600 168px,#ff9d00 172px,#ffeb00 176px,#ffff60 180px,#ffffff 184px,#ffffff 188px,#ffff8e 192px,#ff9400 196px,#ff3100 200px,#d90000 204px,#c90000 208px,#ef0000 212px,#d60000 216px,#ff0a00 220px,#ff1d00 224px,#ff3800 228px,#ff7900 232px,#ff8e00 236px,#ffac00 240px,#ff9d00 244px,#ff9700 248px,#ffff59 252px,#ffffba 256px,#ffffff 260px,#ffffff 264px,#ffffff 268px,#ffffbf 272px,#ffffc4 276px,#ffca00 280px,#ffff3a 284px,#ffff19 288px,#ffee00 292px,#ffffe6 296px,#ffdf00 300px,#fff600 304px,#ffc700 308px,#ff3d00 312px,#ff6100 313.1px)"></div>
<div style="height:2px;background:linear-gradient(90deg,#ff7300 0px,#ff7100 4px,#ff6e00 8px,#ff5400 12px,#ff4200 16px,#ff2900 20px,#ff1b00 24px,#ff1b00 28px,#ff0100 32px,#ff0600 36px,#ff1000 40px,#ff0700 44px,#ff2400 48px,#ff4100 52px,#ff8200 56px,#ffc100 60px,#ffc300 64px,#ff9700 68px,#ff5200 72px,#ff2a00 76px,#ff2200 80px,#ff4400 84px,#ff6900 88px,#ff7000 92px,#ff6600 96px,#ff4500 100px,#ff3800 104px,#ff6800 108px,#fff400 112px,#ffef00 116px,#ff6400 120px,#ff3600 124px,#ff1800 128px,#ff2800 132px,#ff8500 136px,#ffff4d 140px,#ffffb4 144px,#ffb900 148px,#ff3c00 152px,#f60000 156px,#d70000 160px,#ff2400 164px,#ff1e00 168px,#ff5100 172px,#ffad00 176px,#fff400 180px,#ffffff 184px,#ffffff 188px,#ffffff 192px,#ffff54 196px,#ffbd00 200px,#ff3200 204px,#fd0000 208px,#df0000 212px,#880000 216px,#8e0000 220px,#750000 224px,#e80000 228px,#ff2400 232px,#ff7e00 236px,#ff7a00 240px,#ff3500 244px,#ff6500 248px,#ffad00 252px,#ffff35 256px,#ffffc0 260px,#ffffff 264px,#ffffff 268px,#ffffff 272px,#fffff5 276px,#ffe800 280px,#ffffa5 284px,#ffffca 288px,#ffffcc 292px,#ffffff 296px,#ffffe1 300px,#ffff18 304px,#ffd700 308px,#ff4600 312px,#ff3900 313.1px)"></div>
<div style="height:2px;background:linear-gradient(90deg,#ff7300 0px,#ff7300 4px,#ff6300 8px,#ff5000 12px,#ff2900 16px,#ff0d00 20px,#ff0300 24px,#ff0100 28px,#f60000 32px,#ff0200 36px,#ff1200 40px,#ff1b00 44px,#ff2400 48px,#ff3e00 52px,#ff8100 56px,#ffbe00 60px,#ffc900 64px,#ffa600 68px,#ff6400 72px,#ff3400 76px,#ff2800 80px,#ff4600 84px,#ff6300 88px,#ff6c00 92px,#ff6300 96px,#ff3f00 100px,#ff3000 104px,#ff5800 108px,#ffe000 112px,#ffff06 116px,#ff7500 120px,#ff3100 124px,#ff0800 128px,#ff1e00 132px,#ff5e00 136px,#ffff0e 140px,#ffffd9 144px,#ffff12 148px,#ff6800 152px,#ff3200 156px,#ff0700 160px,#fd0000 164px,#ff2500 168px,#ff2d00 172px,#ff7500 176px,#ffbb00 180px,#ffffa7 184px,#ffffff 188px,#ffffff 192px,#fffff4 196px,#ffff0e 200px,#ffa300 204px,#ff7400 208px,#ff2900 212px,#ee0000 216px,#a70000 220px,#810000 224px,#ed0000 228px,#d60000 232px,#ff5100 236px,#ff7b00 240px,#ff2500 244px,#ffb800 248px,#ff9400 252px,#fffa00 256px,#ffff1d 260px,#ffff58 264px,#ffff76 268px,#ffff36 272px,#ffff14 276px,#ffcd00 280px,#ffff5a 284px,#ffff75 288px,#ffffff 292px,#ffff87 296px,#ffff31 300px,#ffc900 304px,#ff7d00 308px,#ff9b00 312px,#ff8700 313.1px)"></div>
<div style="height:2px;background:linear-gradient(90deg,#ff7400 0px,#ff6300 4px,#ff4c00 8px,#ff4200 12px,#ff2900 16px,#ff1500 20px,#ff0e00 24px,#ff1200 28px,#ff1300 32px,#ff2000 36px,#ff2a00 40px,#ff3600 44px,#ff3100 48px,#ff4100 52px,#ff8b00 56px,#ffd700 60px,#ffe100 64px,#ffc200 68px,#ff7c00 72px,#ff3b00 76px,#ff3300 80px,#ff4d00 84px,#ff6700 88px,#ff7100 92px,#ff6500 96px,#ff4100 100px,#ff3100 104px,#ff5900 108px,#ffe000 112px,#ffff3c 116px,#ffa200 120px,#ff4e00 124px,#ff1800 128px,#ff2600 132px,#ff5100 136px,#ffe000 140px,#ffffd6 144px,#ffff8e 148px,#ffa500 152px,#ff4c00 156px,#ff1b00 160px,#e30000 164px,#ff0000 168px,#ff0300 172px,#ff4a00 176px,#ff7600 180px,#ffff49 184px,#ffffff 188px,#ffffff 192px,#ffffff 196px,#ffff04 200px,#ffee00 204px,#ffca00 208px,#ffb600 212px,#ffb100 216px,#ff7300 220px,#ff3300 224px,#ff3e00 228px,#f40000 232px,#f70000 236px,#ff0b00 240px,#ff1500 244px,#ff8f00 248px,#ffbd00 252px,#ffff42 256px,#ffff1d 260px,#ffff9d 264px,#ffffb1 268px,#ffff79 272px,#ffff59 276px,#ffff6e 280px,#ffff22 284px,#ffff05 288px,#ffff67 292px,#ffc000 296px,#ffb300 300px,#ffba00 304px,#ff8d00 308px,#ffd200 312px,#ffff24 313.1px)"></div>
<div style="height:2px;background:linear-gradient(90deg,#ff7500 0px,#ff6300 4px,#ff5100 8px,#ff4800 12px,#ff4300 16px,#ff3800 20px,#ff1e00 24px,#ff2600 28px,#ff1d00 32px,#ff1b00 36px,#ff2800 40px,#ff2a00 44px,#ff2300 48px,#ff3800 52px,#ff7700 56px,#ffc900 60px,#ffee00 64px,#ffd300 68px,#ff8600 72px,#ff3c00 76px,#ff2300 80px,#ff3900 84px,#ff6a00 88px,#ff8100 92px,#ff8500 96px,#ff5d00 100px,#ff3800 104px,#ff5000 108px,#ffb800 112px,#ffff39 116px,#ffc400 120px,#ff6d00 124px,#ff4200 128px,#ff3c00 132px,#ff4e00 136px,#ffb000 140px,#ffffa9 144px,#ffffbd 148px,#ffd400 152px,#ff5300 156px,#ff1300 160px,#fe0000 164px,#ff1000 168px,#ff1a00 172px,#ff4300 176px,#ff4600 180px,#ffce00 184px,#ffffab 188px,#ffffff 192px,#ffffff 196px,#ffffa9 200px,#fff400 204px,#ff9a00 208px,#ff4800 212px,#ff2000 216px,#ff6500 220px,#ff1100 224px,#ff3400 228px,#ff0600 232px,#7e0000 236px,#960000 240px,#d60000 244px,#ff4400 248px,#fffa00 252px,#ffff63 256px,#ffff95 260px,#ffffaf 264px,#ffff84 268px,#ffffac 272px,#ffff7a 276px,#ffff90 280px,#ffff66 284px,#ffff6d 288px,#ffffc6 292px,#ffffa9 296px,#ffffca 300px,#ffff82 304px,#fffc00 308px,#ffff1b 312px,#ffff6e 313.1px)"></div>
<div style="height:2px;background:linear-gradient(90deg,#ff7900 0px,#ff6300 4px,#ff4d00 8px,#ff3800 12px,#ff2d00 16px,#ff1500 20px,#ff0100 24px,#fc0000 28px,#f10000 32px,#ff0300 36px,#ff1600 40px,#ff3600 44px,#ff3b00 48px,#ff3500 52px,#ff6300 56px,#ffa400 60px,#ffd500 64px,#ffc700 68px,#ff8400 72px,#ff3600 76px,#ff1700 80px,#ff2900 84px,#ff5d00 88px,#ff9200 92px,#ff9a00 96px,#ff7900 100px,#ff4600 104px,#ff4400 108px,#ff8700 112px,#ffff12 116px,#ffc300 120px,#ff5000 124px,#ff3b00 128px,#ff2b00 132px,#ff3e00 136px,#ff8900 140px,#ffff64 144px,#ffffde 148px,#ffff1c 152px,#ff8c00 156px,#ff4400 160px,#ff3300 164px,#ff3d00 168px,#ff4300 172px,#ff2b00 176px,#ff1600 180px,#ff3700 184px,#ffc500 188px,#ffffc9 192px,#ffffff 196px,#ffffff 200px,#ffff11 204px,#ff7900 208px,#ff0300 212px,#c00000 216px,#ff0600 220px,#db0000 224px,#ff1600 228px,#a60000 232px,#920000 236px,#a20000 240px,#bc0000 244px,#ff1e00 248px,#ff7b00 252px,#ff8700 256px,#ff9300 260px,#ffd500 264px,#ffa500 268px,#ffc600 272px,#ffff05 276px,#ffc400 280px,#ffff3a 284px,#ffff81 288px,#ffffc4 292px,#ffffff 296px,#fffff7 300px,#ffffad 304px,#ffff8c 308px,#ffffff 312px,#ffffff 313.1px)"></div>
<div style="height:2px;background:linear-gradient(90deg,#ff7b00 0px,#ff6800 4px,#ff5200 8px,#ff3a00 12px,#ff2c00 16px,#ff1000 20px,#f70000 24px,#f60000 28px,#e50000 32px,#ff0200 36px,#ff1d00 40px,#ff3e00 44px,#ff5000 48px,#ff4500 52px,#ff7100 56px,#ffaa00 60px,#ffdb00 64px,#ffd400 68px,#ff9700 72px,#ff5000 76px,#ff2a00 80px,#ff3000 84px,#ff5300 88px,#ff8f00 92px,#ff9800 96px,#ff8200 100px,#ff5500 104px,#ff4e00 108px,#ff7a00 112px,#ffff12 116px,#ffe500 120px,#ff5a00 124px,#ff3d00 128px,#ff2300 132px,#ff3d00 136px,#ff7000 140px,#ffff2e 144px,#fffffb 148px,#ffff78 152px,#ffb600 156px,#ff5300 160px,#ff2d00 164px,#fa0000 168px,#ff0a00 172px,#ff0400 176px,#e30000 180px,#ff1000 184px,#ff7000 188px,#ffff34 192px,#ffffff 196px,#ffffff 200px,#ffffe0 204px,#ffeb00 208px,#ff9000 212px,#fe0000 216px,#ff1400 220px,#ff3700 224px,#ff0b00 228px,#e30000 232px,#ff0a00 236px,#e40000 240px,#e10000 244px,#f40000 248px,#d20000 252px,#ec0000 256px,#ff1800 260px,#ff9400 264px,#fff300 268px,#ffff16 272px,#ffff61 276px,#ffe700 280px,#ffd600 284px,#fff400 288px,#ffff1c 292px,#ffffb9 296px,#ffffb4 300px,#ffff7f 304px,#ffff87 308px,#fffff7 312px,#ffffca 313.1px)"></div>
<div style="height:2px;background:linear-gradient(90deg,#ff7500 0px,#ff7e00 4px,#ff7700 8px,#ff5c00 12px,#ff4900 16px,#ff3300 20px,#ff1100 24px,#ff1300 28px,#fb0000 32px,#f80000 36px,#ff1300 40px,#ff2500 44px,#ff3500 48px,#ff3d00 52px,#ff5e00 56px,#ffa000 60px,#ffdb00 64px,#ffe200 68px,#ffb600 72px,#ff6800 76px,#ff3900 80px,#ff2e00 84px,#ff4e00 88px,#ff7b00 92px,#ff9700 96px,#ff7700 100px,#ff5000 104px,#ff4700 108px,#ff6700 112px,#ffff0e 116px,#ffff06 120px,#ff6e00 124px,#ff3400 128px,#ff0b00 132px,#ff1c00 136px,#ff4c00 140px,#ffd700 144px,#ffffbb 148px,#ffff8c 152px,#ffa300 156px,#ff2a00 160px,#ff0900 164px,#eb0000 168px,#ff0d00 172px,#ff2f00 176px,#ff2700 180px,#ff4a00 184px,#ff9b00 188px,#ffff3f 192px,#ffffff 196px,#ffffff 200px,#ffffff 204px,#ffff9a 208px,#ffff20 212px,#ff5c00 216px,#ff6a00 220px,#ff7200 224px,#ff0600 228px,#ff4500 232px,#f10000 236px,#ea0000 240px,#fc0000 244px,#f30000 248px,#ff0d00 252px,#ff2b00 256px,#ff8600 260px,#ffdc00 264px,#ffffb3 268px,#ffffe5 272px,#ffff2d 276px,#ffd600 280px,#ff8200 284px,#ffa700 288px,#ffff0f 292px,#ffffff 296px,#ffffff 300px,#ffffbf 304px,#ffffe6 308px,#ffffbd 312px,#ffffb1 313.1px)"></div>
<div style="height:2px;background:linear-gradient(90deg,#ff6d00 0px,#ff7d00 4px,#ff7800 8px,#ff6000 12px,#ff4e00 16px,#ff3700 20px,#ff1e00 24px,#ff1700 28px,#ff1200 32px,#ff1300 36px,#ff1d00 40px,#ff2c00 44px,#ff3800 48px,#ff3000 52px,#ff4400 56px,#ff9100 60px,#ffcc00 64px,#ffe500 68px,#ffc100 72px,#ff7e00 76px,#ff4400 80px,#ff2900 84px,#ff4900 88px,#ff6900 92px,#ff9300 96px,#ff7d00 100px,#ff5700 104px,#ff4600 108px,#ff5a00 112px,#ffe200 116px,#ffff09 120px,#ff7900 124px,#ff2d00 128px,#ff1400 132px,#ff1a00 136px,#ff3600 140px,#ff9500 144px,#ffff79 148px,#ffffb1 152px,#ffd000 156px,#ff5700 160px,#ff2400 164px,#ff1b00 168px,#ff1100 172px,#ff1a00 176px,#ff2400 180px,#ff2000 184px,#ff6000 188px,#ffbb00 192px,#ffff4d 196px,#ffffff 200px,#ffffff 204px,#ffffff 208px,#ffff96 212px,#ffee00 216px,#ffa100 220px,#ff9300 224px,#ff5d00 228px,#ff7d00 232px,#ff2600 236px,#e00000 240px,#b50000 244px,#bb0000 248px,#ff3200 252px,#ff6100 256px,#ffa100 260px,#ffa800 264px,#ff9300 268px,#ffaf00 272px,#ff3e00 276px,#ff3200 280px,#ffa000 284px,#ffb500 288px,#ffff68 292px,#ffffda 296px,#ffffb5 300px,#ffffca 304px,#ffffff 308px,#ffffa3 312px,#ffffd7 313.1px)"></div>
<div style="height:2px;background:linear-gradient(90deg,#ff6900 0px,#ff7300 4px,#ff7000 8px,#ff5d00 12px,#ff5900 16px,#ff4600 20px,#ff2c00 24px,#ff2000 28px,#ff2000 32px,#ff2100 36px,#ff2300 40px,#ff3900 44px,#ff3b00 48px,#ff2f00 52px,#ff4500 56px,#ff8700 60px,#ffc400 64px,#fff200 68px,#ffcb00 72px,#ff8b00 76px,#ff4b00 80px,#ff2a00 84px,#ff4300 88px,#ff7200 92px,#ffa500 96px,#ffa000 100px,#ff7700 104px,#ff6100 108px,#ff6700 112px,#ffd700 116px,#ffff53 120px,#ffb500 124px,#ff5300 128px,#ff3700 132px,#ff2800 136px,#ff3c00 140px,#ff9c00 144px,#ffff6f 148px,#fffffa 152px,#ffff3e 156px,#ff7f00 160px,#ff3f00 164px,#ff1c00 168px,#e80000 172px,#e00000 176px,#ea0000 180px,#fb0000 184px,#ff1e00 188px,#ff5000 192px,#ffb000 196px,#ffff60 200px,#ffffff 204px,#ffffff 208px,#ffffc3 212px,#ffff2d 216px,#ff8c00 220px,#ff8600 224px,#ff7800 228px,#ff7000 232px,#ff4200 236px,#bf0000 240px,#a40000 244px,#d80000 248px,#ff1100 252px,#ff3300 256px,#ff3c00 260px,#ff2d00 264px,#ff0e00 268px,#ff5d00 272px,#ff6500 276px,#ff6700 280px,#ffff27 284px,#ffff49 288px,#ffffd6 292px,#ffffb6 296px,#ffff5b 300px,#fffe00 304px,#ffff40 308px,#ffd500 312px,#ffe500 313.1px)"></div>
<div style="height:2px;background:linear-gradient(90deg,#ff7200 0px,#ff8200 4px,#ff7100 8px,#ff5d00 12px,#ff5d00 16px,#ff4b00 20px,#ff4800 24px,#ff3900 28px,#ff3300 32px,#ff2600 36px,#ff2700 40px,#ff5600 44px,#ff4d00 48px,#ff4600 52px,#ff4e00 56px,#ff6c00 60px,#ffb100 64px,#ffe700 68px,#ffda00 72px,#ff9400 76px,#ff5e00 80px,#ff3400 84px,#ff4000 88px,#ff7600 92px,#ffa800 96px,#ffb000 100px,#ff8400 104px,#ff6600 108px,#ff6100 112px,#ffbb00 116px,#ffff51 120px,#ffcc00 124px,#ff5700 128px,#ff3300 132px,#ff1f00 136px,#ff4d00 140px,#ff9000 144px,#ffff42 148px,#ffffff 152px,#ffff92 156px,#ffb400 160px,#ff5900 164px,#ff0e00 168px,#f00000 172px,#cd0000 176px,#df0000 180px,#ff1800 184px,#ff2600 188px,#ff7e00 192px,#ff9600 196px,#ffff41 200px,#ffffff 204px,#ffffff 208px,#ffffff 212px,#ffff5b 216px,#ffc400 220px,#ff8800 224px,#ff5600 228px,#ff2000 232px,#890000 236px,#180000 240px,#2a0000 244px,#620000 248px,#e70000 252px,#f90000 256px,#ff3900 260px,#ff9a00 264px,#ffd000 268px,#ffff53 272px,#ffd400 276px,#ff7600 280px,#ff6800 284px,#ff8600 288px,#fff800 292px,#ffff69 296px,#ffff59 300px,#fff800 304px,#ffdd00 308px,#ff5000 312px,#ff7a00 313.1px)"></div>
<div style="height:2px;background:linear-gradient(90deg,#ff7d00 0px,#ff8500 4px,#ff6500 8px,#ff5200 12px,#ff4f00 16px,#ff4500 20px,#ff4b00 24px,#ff4c00 28px,#ff4900 32px,#ff5000 36px,#ff5500 40px,#ff7c00 44px,#ff7f00 48px,#ff6400 52px,#ff5d00 56px,#ff6b00 60px,#ffa000 64px,#ffdd00 68px,#ffd800 72px,#ff9c00 76px,#ff6e00 80px,#ff2b00 84px,#ff3100 88px,#ff5c00 92px,#ff8a00 96px,#ff9e00 100px,#ff7b00 104px,#ff4d00 108px,#ff3f00 112px,#ff7e00 116px,#fffb00 120px,#ffcf00 124px,#ff4100 128px,#ff2400 132px,#ff2000 136px,#ff3f00 140px,#ff7000 144px,#fff000 148px,#ffffee 152px,#ffffbb 156px,#ffdd00 160px,#ff5d00 164px,#ff0d00 168px,#e80000 172px,#cd0000 176px,#e10000 180px,#f60000 184px,#ff2100 188px,#ff5700 192px,#ff4200 196px,#ffc600 200px,#ffff61 204px,#ffffbc 208px,#ffffff 212px,#ffffff 216px,#ffff73 220px,#ffff53 224px,#ffba00 228px,#ff3c00 232px,#af0000 236px,#3c0000 240px,#400000 244px,#790000 248px,#ff0000 252px,#ff0700 256px,#ff6700 260px,#ff3f00 264px,#ff4400 268px,#ff6d00 272px,#e90000 276px,#e40000 280px,#db0000 284px,#f50000 288px,#ff5900 292px,#ffd700 296px,#fff800 300px,#ffe600 304px,#fff900 308px,#ffca00 312px,#ffff36 313.1px)"></div>
<div style="height:2px;background:linear-gradient(90deg,#ff6a00 0px,#ff7000 4px,#ff6700 8px,#ff5600 12px,#ff5100 16px,#ff4c00 20px,#ff4700 24px,#ff4500 28px,#ff4400 32px,#ff5700 36px,#ff5900 40px,#ff7a00 44px,#ff8400 48px,#ff5700 52px,#ff4900 56px,#ff5500 60px,#ff8400 64px,#ffcc00 68px,#ffd100 72px,#ffa500 76px,#ff6e00 80px,#ff2e00 84px,#ff3600 88px,#ff6500 92px,#ff9400 96px,#ffae00 100px,#ff9600 104px,#ff5900 108px,#ff5000 112px,#ff8300 116px,#fffb00 120px,#ffff1b 124px,#ff6e00 128px,#ff3300 132px,#ff2500 136px,#ff1b00 140px,#ff5600 144px,#ffba00 148px,#ffffb0 152px,#ffffec 156px,#ffff2c 160px,#ff8b00 164px,#ff4100 168px,#ff0c00 172px,#f70000 176px,#ff0500 180px,#ff1600 184px,#ff5500 188px,#ff3100 192px,#ff2800 196px,#ff6800 200px,#ffb000 204px,#ffff84 208px,#ffffff 212px,#ffffff 216px,#ffffd4 220px,#ffff3a 224px,#ffea00 228px,#ff4600 232px,#ff1700 236px,#a50000 240px,#aa0000 244px,#ff2000 248px,#ff3900 252px,#ff9100 256px,#ff9800 260px,#ff0100 264px,#d00000 268px,#d40000 272px,#c20000 276px,#ff1800 280px,#ff5900 284px,#ff7200 288px,#ffbd00 292px,#ffb200 296px,#ffc000 300px,#ff8c00 304px,#ff8500 308px,#ffff21 312px,#ffff29 313.1px)"></div>
<div style="height:2px;background:linear-gradient(90deg,#ff7300 0px,#ff8000 4px,#ff8700 8px,#ff8700 12px,#ff8800 16px,#ff8900 20px,#ff7900 24px,#ff6c00 28px,#ff6300 32px,#ff6100 36px,#ff5a00 40px,#ff6f00 44px,#ff6f00 48px,#ff4a00 52px,#ff2900 56px,#ff3100 60px,#ff6f00 64px,#ffbe00 68px,#ffe500 72px,#ffc800 76px,#ff8900 80px,#ff3f00 84px,#ff3a00 88px,#ff6b00 92px,#ff9d00 96px,#ffd000 100px,#ffba00 104px,#ff7500 108px,#ff6700 112px,#ff7400 116px,#fff800 120px,#ffff4f 124px,#ff9900 128px,#ff4200 132px,#ff1c00 136px,#ff0e00 140px,#ff3a00 144px,#ff8f00 148px,#ffff7c 152px,#ffffff 156px,#ffffc5 160px,#ffe400 164px,#ff7f00 168px,#ff3900 172px,#ff0900 176px,#f30000 180px,#f80000 184px,#ff1300 188px,#f30000 192px,#ff2700 196px,#ff2800 200px,#ff6400 204px,#ffff1c 208px,#ffff9b 212px,#ffffff 216px,#ffffff 220px,#ffff80 224px,#ffee00 228px,#ff2a00 232px,#ff0800 236px,#7b0000 240px,#a00000 244px,#ff3200 248px,#ff6b00 252px,#ffe300 256px,#ff9c00 260px,#ff3e00 264px,#d60000 268px,#ff1d00 272px,#ff6e00 276px,#ffff0a 280px,#ffff26 284px,#ffed00 288px,#ffff2e 292px,#ffa000 296px,#ff6200 300px,#ff4000 304px,#eb0000 308px,#ff7b00 312px,#ffb800 313.1px)"></div>
<div style="height:2px;background:linear-gradient(90deg,#ffa000 0px,#ff9b00 4px,#ffa100 8px,#ffa500 12px,#ffaa00 16px,#ffbb00 20px,#ffb100 24px,#ffa500 28px,#ff9100 32px,#ff8500 36px,#ff7200 40px,#ff7a00 44px,#ff7d00 48px,#ff6700 52px,#ff3e00 56px,#ff3e00 60px,#ff7700 64px,#ffc300 68px,#fff400 72px,#ffd800 76px,#ff9700 80px,#ff3e00 84px,#ff2600 88px,#ff4c00 92px,#ff7f00 96px,#ffc100 100px,#ffad00 104px,#ff6300 108px,#ff3b00 112px,#ff3e00 116px,#ffc500 120px,#ffff39 124px,#ffc700 128px,#ff4c00 132px,#ff2900 136px,#ff1b00 140px,#ff2b00 144px,#ff6800 148px,#fff100 152px,#ffffdd 156px,#ffffb6 160px,#ffe700 164px,#ff7900 168px,#ff3c00 172px,#ff1b00 176px,#fe0000 180px,#f90000 184px,#fa0000 188px,#f30000 192px,#ff3800 196px,#ff0900 200px,#ff3500 204px,#ffaf00 208px,#ffff23 212px,#ffffff 216px,#ffffff 220px,#ffffff 224px,#ffff6b 228px,#ff9f00 232px,#ff6200 236px,#d90000 240px,#ff0800 244px,#ff4300 248px,#ff1f00 252px,#ff2700 256px,#c40000 260px,#7b0000 264px,#690000 268px,#550000 272px,#9c0000 276px,#ff3a00 280px,#ff2b00 284px,#ff7b00 288px,#ff9400 292px,#ff8900 296px,#ff3700 300px,#ff2100 304px,#ff4d00 308px,#ffb000 312px,#ffff4a 313.1px)"></div>
<div style="height:2px;background:linear-gradient(90deg,#ff9900 0px,#ff8c00 4px,#ff8c00 8px,#ff8f00 12px,#ffa200 16px,#ffc000 20px,#ffcd00 24px,#ffc100 28px,#ffb100 32px,#ff9f00 36px,#ff8e00 40px,#ff9b00 44px,#ff9600 48px,#ff8600 52px,#ff5900 56px,#ff4900 60px,#ff7e00 64px,#ffbb00 68px,#ffea00 72px,#ffcf00 76px,#ff8c00 80px,#ff3600 84px,#ff1500 88px,#ff3000 92px,#ff6600 96px,#ffae00 100px,#ffac00 104px,#ff6700 108px,#ff2b00 112px,#ff3800 116px,#ffa900 120px,#ffff24 124px,#fff700 128px,#ff6000 132px,#ff3300 136px,#ff2400 140px,#ff1e00 144px,#ff4900 148px,#ffac00 152px,#ffff79 156px,#ffffc6 160px,#ffff19 164px,#ff8200 168px,#ff4a00 172px,#ff3100 176px,#ff1500 180px,#ff3c00 184px,#ff3000 188px,#f50000 192px,#ff1100 196px,#e90000 200px,#ff1900 204px,#ff8e00 208px,#fffd00 212px,#ffffd8 216px,#ffffff 220px,#ffffff 224px,#fffff7 228px,#ffff15 232px,#ff7c00 236px,#ff1700 240px,#f00000 244px,#ff1f00 248px,#fb0000 252px,#ff1300 256px,#cf0000 260px,#770000 264px,#880000 268px,#330000 272px,#3f0000 276px,#9c0000 280px,#c80000 284px,#ff7100 288px,#ff6600 292px,#ff7300 296px,#ff5400 300px,#ff2b00 304px,#ff5600 308px,#ffff00 312px,#ffff32 313.1px)"></div>
<div style="height:2px;background:linear-gradient(90deg,#ff7c00 0px,#ff8000 4px,#ff8c00 8px,#ff9500 12px,#ffaf00 16px,#ffc300 20px,#ffc400 24px,#ffcf00 28px,#ffc000 32px,#ffae00 36px,#ffa000 40px,#ff9d00 44px,#ff9a00 48px,#ff8b00 52px,#ff5000 56px,#ff3400 60px,#ff6200 64px,#ff9e00 68px,#ffd700 72px,#ffcd00 76px,#ff9300 80px,#ff4c00 84px,#ff2900 88px,#ff3b00 92px,#ff6900 96px,#ffaa00 100px,#ffb500 104px,#ff6700 108px,#ff3900 112px,#ff2b00 116px,#ff9300 120px,#ffff34 124px,#ffff32 128px,#ffa200 132px,#ff5600 136px,#ff3c00 140px,#ff2900 144px,#ff4500 148px,#ff8900 152px,#ffff49 156px,#fffff9 160px,#ffff7f 164px,#ffc700 168px,#ff6d00 172px,#ff4e00 176px,#ff1c00 180px,#ff2100 184px,#e80000 188px,#a20000 192px,#a50000 196px,#ae0000 200px,#ff0700 204px,#ff5a00 208px,#ffd400 212px,#ffffa0 216px,#ffffff 220px,#ffffff 224px,#ffffff 228px,#ffff4d 232px,#ffd100 236px,#ff6700 240px,#fd0000 244px,#ff0600 248px,#c90000 252px,#f60000 256px,#ff0700 260px,#b60000 264px,#c40000 268px,#b50000 272px,#b80000 276px,#ff3b00 280px,#ff4600 284px,#ff7b00 288px,#ff8000 292px,#ff1600 296px,#f00000 300px,#c50000 304px,#ad0000 308px,#ff6800 312px,#ff8c00 313.1px)"></div>
<div style="height:2px;background:linear-gradient(90deg,#ff9100 0px,#ff9400 4px,#ffad00 8px,#ffb900 12px,#ffbe00 16px,#ffc400 20px,#ffb300 24px,#ffce00 28px,#ffbe00 32px,#ffb600 36px,#ffad00 40px,#ff9600 44px,#ffa800 48px,#ff9600 52px,#ff5b00 56px,#ff3500 60px,#ff4000 64px,#ff7e00 68px,#ffbc00 72px,#ffd500 76px,#ffb600 80px,#ff7e00 84px,#ff5800 88px,#ff4a00 92px,#ff6000 96px,#ff9300 100px,#ffa600 104px,#ff6400 108px,#ff4b00 112px,#ff2800 116px,#ff7c00 120px,#ffff1a 124px,#ffff3d 128px,#ffb500 132px,#ff4a00 136px,#ff2900 140px,#ff1200 144px,#ff2300 148px,#ff5d00 152px,#fffb00 156px,#ffffd7 160px,#ffffdd 164px,#ffff2f 168px,#ff8800 172px,#ff6200 176px,#ff2400 180px,#f70000 184px,#e40000 188px,#d60000 192px,#b60000 196px,#970000 200px,#c50000 204px,#d80000 208px,#ff5000 212px,#fff200 216px,#ffff94 220px,#ffffc7 224px,#ffffd7 228px,#ffffb2 232px,#ffff2f 236px,#ffd900 240px,#ff2500 244px,#b90000 248px,#810000 252px,#750000 256px,#f60000 260px,#ff0600 264px,#ff3900 268px,#ff5200 272px,#ff0200 276px,#ff4200 280px,#ff0b00 284px,#f70000 288px,#ff3c00 292px,#e50000 296px,#ec0000 300px,#f00000 304px,#ff1b00 308px,#ff4200 312px,#ff3500 313.1px)"></div>
<div style="height:2px;background:linear-gradient(90deg,#ff9200 0px,#ff9e00 4px,#ffbe00 8px,#ffd400 12px,#ffe700 16px,#ffe900 20px,#ffe400 24px,#ffe400 28px,#ffd900 32px,#ffd700 36px,#ffc300 40px,#ffb600 44px,#ffb400 48px,#ff9700 52px,#ff6000 56px,#ff2f00 60px,#ff2300 64px,#ff5900 68px,#ff9a00 72px,#ffc100 76px,#ffbf00 80px,#ff8400 84px,#ff5100 88px,#ff3400 92px,#ff3d00 96px,#ff7700 100px,#ffab00 104px,#ff7c00 108px,#ff6200 112px,#ff4b00 116px,#ff7300 120px,#ffef00 124px,#ffff46 128px,#ffbe00 132px,#ff3a00 136px,#ff2e00 140px,#ff1c00 144px,#ff1e00 148px,#ff5c00 152px,#ffc800 156px,#ffffad 160px,#ffffff 164px,#ffff90 168px,#ffb000 172px,#ff4a00 176px,#ff1000 180px,#f50000 184px,#ff0000 188px,#ff1a00 192px,#ff1900 196px,#f00000 200px,#ff0200 204px,#ea0000 208px,#ff4f00 212px,#ffc100 216px,#ffff25 220px,#ffff8e 224px,#ffffb2 228px,#ffffaf 232px,#ffff15 236px,#ffd900 240px,#ff1600 244px,#ff0100 248px,#b30000 252px,#9e0000 256px,#ef0000 260px,#fc0000 264px,#ff6700 268px,#ff6400 272px,#ff5900 276px,#ff6200 280px,#ff5000 284px,#ff3f00 288px,#ff3600 292px,#f90000 296px,#e80000 300px,#ff0300 304px,#ff4a00 308px,#ff2e00 312px,#ff2e00 313.1px)"></div>
<div style="height:2px;background:linear-gradient(90deg,#ff9000 0px,#ffa300 4px,#ffc400 8px,#ffd900 12px,#fff500 16px,#ffff0e 20px,#ffff0f 24px,#ffff03 28px,#fff700 32px,#ffd800 36px,#ffb500 40px,#ffa500 44px,#ff9100 48px,#ff8000 52px,#ff4e00 56px,#ff1a00 60px,#ff1400 64px,#ff4500 68px,#ff8800 72px,#ffae00 76px,#ffb500 80px,#ff7d00 84px,#ff4400 88px,#ff2b00 92px,#ff3900 96px,#ff7a00 100px,#ffc800 104px,#ff9300 108px,#ff5000 112px,#ff3e00 116px,#ff5300 120px,#ffc400 124px,#ffff73 128px,#ffef00 132px,#ff5d00 136px,#ff4c00 140px,#ff3900 144px,#ff2100 148px,#ff4700 152px,#ff9f00 156px,#ffff66 160px,#ffffff 164px,#fffff2 168px,#ffe600 172px,#ff3a00 176px,#fc0000 180px,#db0000 184px,#cf0000 188px,#fd0000 192px,#ff3300 196px,#ff4c00 200px,#ff7800 204px,#ff3f00 208px,#ff6800 212px,#ff9400 216px,#ffc900 220px,#ffff91 224px,#ffffeb 228px,#ffffff 232px,#ffff89 236px,#fff500 240px,#ff4600 244px,#ff3300 248px,#cc0000 252px,#ce0000 256px,#d70000 260px,#c80000 264px,#ff1300 268px,#a30000 272px,#ef0000 276px,#ff0400 280px,#ff1200 284px,#ff0200 288px,#f30000 292px,#ff2200 296px,#ff2c00 300px,#ff8900 304px,#ff8700 308px,#ff6900 312px,#ff6600 313.1px)"></div>
<div style="height:2px;background:linear-gradient(90deg,#ff9900 0px,#ffa300 4px,#ffb600 8px,#ffd700 12px,#ffd800 16px,#fffa00 20px,#fff600 24px,#ffff00 28px,#fff900 32px,#ffc900 36px,#ffb400 40px,#ff9600 44px,#ff9900 48px,#ff8f00 52px,#ff6100 56px,#ff2200 60px,#ff0900 64px,#ff3100 68px,#ff7400 72px,#ffab00 76px,#ffad00 80px,#ff8900 84px,#ff4600 88px,#ff2600 92px,#ff3900 96px,#ff7100 100px,#ffc700 104px,#ffb100 108px,#ff4d00 112px,#ff3500 116px,#ff3e00 120px,#ff9500 124px,#ffff6e 128px,#ffff17 132px,#ff8500 136px,#ff4d00 140px,#ff3100 144px,#ff1f00 148px,#ff3400 152px,#ff8300 156px,#ffff2f 160px,#ffffff 164px,#ffffff 168px,#ffff02 172px,#ff3300 176px,#e80000 180px,#c00000 184px,#af0000 188px,#b60000 192px,#d90000 196px,#ff2500 200px,#ff5000 204px,#ff3300 208px,#ff2500 212px,#ff3e00 216px,#ff8500 220px,#ffff92 224px,#ffffff 228px,#ffffff 232px,#ffffff 236px,#fff900 240px,#ff5900 244px,#ff0300 248px,#ff5f00 252px,#ff8f00 256px,#ff6200 260px,#ff6b00 264px,#ea0000 268px,#9f0000 272px,#fd0000 276px,#f30000 280px,#ff3900 284px,#ff1300 288px,#fb0000 292px,#ff3600 296px,#ff4600 300px,#ffda00 304px,#ffc400 308px,#ffc200 312px,#ffbb00 313.1px)"></div>
<div style="height:2px;background:linear-gradient(90deg,#ff9000 0px,#ff9100 4px,#ffaa00 8px,#ffcf00 12px,#ffcb00 16px,#ffec00 20px,#ffe800 24px,#fff500 28px,#ffed00 32px,#ffc300 36px,#ffbf00 40px,#ffa500 44px,#ffb000 48px,#ff9b00 52px,#ff6a00 56px,#ff1a00 60px,#f30000 64px,#ff1b00 68px,#ff6000 72px,#ffab00 76px,#ffb100 80px,#ff8f00 84px,#ff4600 88px,#ff1300 92px,#ff2200 96px,#ff5500 100px,#ffa400 104px,#ffb800 108px,#ff4f00 112px,#ff2600 116px,#ff3200 120px,#ff7f00 124px,#ffff3d 128px,#ffff37 132px,#ffa600 136px,#ff4e00 140px,#ff3000 144px,#ff4300 148px,#ff4400 152px,#ff6900 156px,#ffeb00 160px,#fffff8 164px,#ffffff 168px,#ffff48 172px,#ff6900 176px,#ff0900 180px,#f50000 184px,#ff0200 188px,#d50000 192px,#fa0000 196px,#ff1c00 200px,#ff0800 204px,#ff0a00 208px,#cb0000 212px,#e30000 216px,#ff3900 220px,#ffff1e 224px,#ffffff 228px,#ffffff 232px,#ffffff 236px,#ffeb00 240px,#ff8a00 244px,#ff8100 248px,#ffe700 252px,#ffed00 256px,#ff8400 260px,#ff7100 264px,#ff0000 268px,#e50000 272px,#ff1100 276px,#d80000 280px,#f20000 284px,#e10000 288px,#ef0000 292px,#ff2000 296px,#ff0200 300px,#ff4d00 304px,#ff2e00 308px,#ff4300 312px,#ff6a00 313.1px)"></div>
<div style="height:2px;background:linear-gradient(90deg,#ff8400 0px,#ff7d00 4px,#ffa400 8px,#ffba00 12px,#ffbd00 16px,#ffe400 20px,#ffd800 24px,#ffe600 28px,#ffde00 32px,#ffaf00 36px,#ffa400 40px,#ff8400 44px,#ff8000 48px,#ff7c00 52px,#ff5700 56px,#ff0d00 60px,#ed0000 64px,#ff0a00 68px,#ff4b00 72px,#ff9a00 76px,#ffa900 80px,#ff9700 84px,#ff5d00 88px,#ff2900 92px,#ff2d00 96px,#ff5400 100px,#ff9400 104px,#ffc300 108px,#ff6100 112px,#ff2d00 116px,#ff4000 120px,#ff7200 124px,#ffff0f 128px,#ffff4f 132px,#ffa600 136px,#ff3100 140px,#fb0000 144px,#ff0e00 148px,#ff1a00 152px,#ff4000 156px,#ffa900 160px,#ffff87 164px,#ffffff 168px,#ffff88 172px,#ff8e00 176px,#ff2e00 180px,#ff2d00 184px,#ff3700 188px,#ff3000 192px,#ff3000 196px,#ff1900 200px,#ff0000 204px,#d50000 208px,#c50000 212px,#b80000 216px,#d40000 220px,#ff8c00 224px,#ffff40 228px,#ffffff 232px,#ffffff 236px,#ffff2f 240px,#ffba00 244px,#ffcb00 248px,#ffca00 252px,#ff6f00 256px,#ed0000 260px,#960000 264px,#b30000 268px,#e60000 272px,#ff1400 276px,#ff0e00 280px,#b90000 284px,#b00000 288px,#a00000 292px,#ff1900 296px,#ff5e00 300px,#ff1c00 304px,#ff0900 308px,#e20000 312px,#a60000 313.1px)"></div>
<div style="height:2px;background:linear-gradient(90deg,#ff9000 0px,#ff9200 4px,#ffa000 8px,#ff9e00 12px,#ffa300 16px,#ffc500 20px,#ffca00 24px,#ffdb00 28px,#ffd500 32px,#ffb100 36px,#ff8e00 40px,#ff6e00 44px,#ff6000 48px,#ff6d00 52px,#ff5f00 56px,#ff2300 60px,#ff0800 64px,#fe0000 68px,#ff3600 72px,#ff7500 76px,#ff9000 80px,#ff9800 84px,#ff6900 88px,#ff3f00 92px,#ff3200 96px,#ff4e00 100px,#ff9600 104px,#ffe100 108px,#ff9200 112px,#ff5700 116px,#ff5200 120px,#ff6500 124px,#ffe000 128px,#ffff71 132px,#ffde00 136px,#ff5200 140px,#ff0e00 144px,#fa0000 148px,#ff0300 152px,#ff2100 156px,#ff7100 160px,#ffff17 164px,#fffffd 168px,#fffff1 172px,#ffc100 176px,#ff3300 180px,#ff2400 184px,#ef0000 188px,#f20000 192px,#d30000 196px,#af0000 200px,#e80000 204px,#ff0400 208px,#ff3d00 212px,#ff3000 216px,#e90000 220px,#ff0100 224px,#ffac00 228px,#ffffba 232px,#ffffff 236px,#ffffff 240px,#ffd500 244px,#ff9f00 248px,#ff8500 252px,#ff4d00 256px,#ff3f00 260px,#ff0c00 264px,#ff0f00 268px,#ff4300 272px,#ff5600 276px,#ff3f00 280px,#ff3000 284px,#ff1b00 288px,#e40000 292px,#fd0000 296px,#ff0600 300px,#970000 304px,#be0000 308px,#680000 312px,#0b0000 313.1px)"></div>
<div style="height:2px;background:linear-gradient(90deg,#ff9400 0px,#ffa000 4px,#ffa100 8px,#ff8d00 12px,#ff9900 16px,#ffaa00 20px,#ffae00 24px,#ffba00 28px,#ffa300 32px,#ff8f00 36px,#ff7e00 40px,#ff6b00 44px,#ff7300 48px,#ff7500 52px,#ff6b00 56px,#ff3c00 60px,#ff1800 64px,#ff1700 68px,#ff4100 72px,#ff7100 76px,#ff8a00 80px,#ff9400 84px,#ff5900 88px,#ff3000 92px,#ff1800 96px,#ff2600 100px,#ff8500 104px,#ffd400 108px,#ffa000 112px,#ff5900 116px,#ff4800 120px,#ff5900 124px,#ffbf00 128px,#ffff7f 132px,#ffff42 136px,#ffa400 140px,#ff5400 144px,#ff3d00 148px,#ff2e00 152px,#ff3100 156px,#ff5b00 160px,#ffe600 164px,#ffffff 168px,#ffffff 172px,#ffffa9 176px,#ffb300 180px,#ff7b00 184px,#ff2b00 188px,#f80000 192px,#d60000 196px,#bc0000 200px,#e00000 204px,#ff0f00 208px,#ff3b00 212px,#e80000 216px,#a70000 220px,#9b0000 224px,#ff3c00 228px,#ffff3e 232px,#ffffff 236px,#ffffff 240px,#fff600 244px,#ffba00 248px,#ff7700 252px,#ffa800 256px,#ffdb00 260px,#ff8b00 264px,#ff3400 268px,#ff2600 272px,#d00000 276px,#f80000 280px,#ff0d00 284px,#ff0500 288px,#ff5000 292px,#ff2b00 296px,#ff1800 300px,#930000 304px,#800000 308px,#0b0000 312px,#0b0000 313.1px)"></div>
<div style="height:2px;background:linear-gradient(90deg,#ff7200 0px,#ff8200 4px,#ff8b00 8px,#ff8e00 12px,#ff9a00 16px,#ffa200 20px,#ff8f00 24px,#ff9100 28px,#ff7c00 32px,#ff7700 36px,#ff8000 40px,#ff6700 44px,#ff7900 48px,#ff7600 52px,#ff6e00 56px,#ff4800 60px,#ff0b00 64px,#fc0000 68px,#ff1e00 72px,#ff5600 76px,#ff7f00 80px,#ff9000 84px,#ff4f00 88px,#ff1a00 92px,#fd0000 96px,#ff0e00 100px,#ff7400 104px,#ffc000 108px,#ffa500 112px,#ff4200 116px,#ff2900 120px,#ff5300 124px,#ff9c00 128px,#ffff60 132px,#ffff64 136px,#ffad00 140px,#ff3800 144px,#ff1d00 148px,#ff1700 152px,#ff2100 156px,#ff4100 160px,#ffc100 164px,#ffffc9 168px,#ffffff 172px,#ffffff 176px,#ffff08 180px,#ffad00 184px,#ff7100 188px,#ff5100 192px,#ff3000 196px,#ff2100 200px,#ff1100 204px,#ff0500 208px,#ff1c00 212px,#db0000 216px,#ff0700 220px,#ff3a00 224px,#ffd600 228px,#ffff97 232px,#ffffff 236px,#ffffff 240px,#ffff4c 244px,#fffd00 248px,#ffb100 252px,#ffda00 256px,#ffff10 260px,#ffba00 264px,#ff3600 268px,#ff0100 272px,#a50000 276px,#ff0b00 280px,#dd0000 284px,#d00000 288px,#fe0000 292px,#ed0000 296px,#ff5500 300px,#ff1e00 304px,#e30000 308px,#7d0000 312px,#8d0000 313.1px)"></div>
<div style="height:1.6px;background:linear-gradient(90deg,#ff7a00 0px,#ff7f00 4px,#ff8200 8px,#ff8300 12px,#ff7800 16px,#ff7700 20px,#ff7200 24px,#ff6e00 28px,#ff7800 32px,#ff7f00 36px,#ff7800 40px,#ff6800 44px,#ff6300 48px,#ff6600 52px,#ff6700 56px,#ff4700 60px,#ff0c00 64px,#ea0000 68px,#ff0800 72px,#ff4500 76px,#ff8000 80px,#ff9c00 84px,#ff6d00 88px,#ff2a00 92px,#ff0500 96px,#ff1900 100px,#ff6400 104px,#ffc700 108px,#ffbe00 112px,#ff4200 116px,#ff1e00 120px,#ff3e00 124px,#ff6500 128px,#ffff21 132px,#ffff82 136px,#ffc500 140px,#ff4600 144px,#ff0900 148px,#ff0100 152px,#ff1900 156px,#ff3b00 160px,#ff9200 164px,#ffff46 168px,#ffffff 172px,#fffffb 176px,#ffe400 180px,#ff6700 184px,#ff2500 188px,#ff1b00 192px,#ff1200 196px,#ff0a00 200px,#ee0000 204px,#ff0200 208px,#ff2200 212px,#ff3600 216px,#ff6500 220px,#ff7400 224px,#fff700 228px,#ffff82 232px,#ffffff 236px,#ffffff 240px,#ffffee 244px,#ffff5b 248px,#fff500 252px,#fff400 256px,#ffd900 260px,#ffee00 264px,#ff6e00 268px,#ff0500 272px,#c00000 276px,#ce0000 280px,#e00000 284px,#e10000 288px,#ff4400 292px,#ff8600 296px,#ffeb00 300px,#ffff36 304px,#ffbc00 308px,#d60000 312px,#a40000 313.1px)"></div></div>
<div style="position:absolute;left:18.00px;top:25.20px;width:333.40px;height:14.50px;background:linear-gradient(90deg,#0b0000 0.00%,#1b0000 2.50%,#2c0000 5.00%,#3d0000 7.50%,#4e0000 10.00%,#5e0000 12.50%,#6f0000 15.00%,#800000 17.50%,#900000 20.00%,#a10000 22.50%,#b20000 25.00%,#c30000 27.50%,#d30000 30.00%,#e40000 32.50%,#f50000 35.00%,#ff0700 37.50%,#ff1700 40.00%,#ff2800 42.50%,#ff3900 45.00%,#ff4a00 47.50%,#ff5a00 50.00%,#ff6b00 52.50%,#ff7c00 55.00%,#ff8d00 57.50%,#ff9d00 60.00%,#ffae00 62.50%,#ffbf00 65.00%,#ffcf00 67.50%,#ffe000 70.00%,#fff100 72.50%,#ffff04 75.00%,#ffff1d 77.50%,#ffff36 80.00%,#ffff4f 82.50%,#ffff68 85.00%,#ffff81 87.50%,#ffff9b 90.00%,#ffffb4 92.50%,#ffffcd 95.00%,#ffffe6 97.50%,#ffffff 100.00%)"></div>
<div style="position:absolute;left:372.20px;top:25.80px;width:326.10px;height:14.60px;background:linear-gradient(90deg,#0b0000 0.00%,#130000 1.25%,#240000 2.50%,#340000 3.75%,#450000 5.00%,#550000 6.25%,#660000 7.50%,#760000 8.75%,#870000 10.00%,#970000 11.25%,#a70000 12.50%,#b80000 13.75%,#c80000 15.00%,#d90000 16.25%,#e90000 17.50%,#fa0000 18.75%,#ff0b00 20.00%,#ff1c00 21.25%,#ff2c00 22.50%,#ff3d00 23.75%,#ff4d00 25.00%,#ff5d00 26.25%,#ff6e00 27.50%,#ff7e00 28.75%,#ff8f00 30.00%,#ff9f00 31.25%,#ffb000 32.50%,#ffc000 33.75%,#ffd100 35.00%,#ffe100 36.25%,#fff200 37.50%,#ffff05 38.75%,#ffff1d 40.00%,#ffff36 41.25%,#ffff4f 42.50%,#ffff67 43.75%,#ffff80 45.00%,#ffff99 46.25%,#ffffb1 47.50%,#ffffca 48.75%,#ffffe3 50.00%,#fffffb 51.25%,#ffffff 52.50%,#ffffff 53.75%,#ffffff 55.00%,#ffffff 56.25%,#ffffff 57.50%,#ffffff 58.75%,#ffffff 60.00%,#ffffff 61.25%,#ffffff 62.50%,#ffffff 63.75%,#ffffff 65.00%,#ffffff 66.25%,#ffffff 67.50%,#ffffff 68.75%,#ffffff 70.00%,#ffffff 71.25%,#ffffff 72.50%,#ffffff 73.75%,#ffffff 75.00%,#ffffff 76.25%,#ffffff 77.50%,#ffffff 78.75%,#ffffff 80.00%,#ffffff 81.25%,#ffffff 82.50%,#ffffff 83.75%,#ffffff 85.00%,#ffffff 86.25%,#ffffff 87.50%,#ffffff 88.75%,#ffffff 90.00%,#ffffff 91.25%,#ffffff 92.50%,#ffffff 93.75%,#ffffff 95.00%,#ffffff 96.25%,#ffffff 97.50%,#ffffff 98.75%,#ffffff 100.00%)"></div>
<svg width="700" height="355" viewBox="0 0 700 355" style="position:absolute;left:0;top:0;will-change:transform">
<rect x="30.00" y="43.90" width="320.00" height="129.40" fill="none" stroke="#666" stroke-width="1"/>
<line x1="27.50" y1="46.82" x2="30.00" y2="46.82" stroke="#666" stroke-width="1"/>
<text x="24.10" y="49.57" font-size="8.3" text-anchor="end" textLength="4.64" lengthAdjust="spacingAndGlyphs">3</text>
<line x1="27.50" y1="67.41" x2="30.00" y2="67.41" stroke="#666" stroke-width="1"/>
<text x="24.10" y="70.16" font-size="8.3" text-anchor="end" textLength="4.64" lengthAdjust="spacingAndGlyphs">2</text>
<line x1="27.50" y1="88.01" x2="30.00" y2="88.01" stroke="#666" stroke-width="1"/>
<text x="24.10" y="90.76" font-size="8.3" text-anchor="end" textLength="4.64" lengthAdjust="spacingAndGlyphs">1</text>
<line x1="27.50" y1="108.60" x2="30.00" y2="108.60" stroke="#666" stroke-width="1"/>
<text x="24.10" y="111.35" font-size="8.3" text-anchor="end" textLength="4.64" lengthAdjust="spacingAndGlyphs">0</text>
<line x1="27.50" y1="129.19" x2="30.00" y2="129.19" stroke="#666" stroke-width="1"/>
<text x="24.10" y="131.94" font-size="8.3" text-anchor="end" textLength="10.76" lengthAdjust="spacingAndGlyphs">−1</text>
<line x1="27.50" y1="149.79" x2="30.00" y2="149.79" stroke="#666" stroke-width="1"/>
<text x="24.10" y="152.54" font-size="8.3" text-anchor="end" textLength="10.76" lengthAdjust="spacingAndGlyphs">−2</text>
<line x1="27.50" y1="170.38" x2="30.00" y2="170.38" stroke="#666" stroke-width="1"/>
<text x="24.10" y="173.13" font-size="8.3" text-anchor="end" textLength="10.76" lengthAdjust="spacingAndGlyphs">−3</text>
<line x1="30.00" y1="173.30" x2="30.00" y2="175.80" stroke="#666" stroke-width="1"/>
<text x="30.00" y="184.90" font-size="8.3" text-anchor="middle" textLength="4.64" lengthAdjust="spacingAndGlyphs">0</text>
<line x1="80.66" y1="173.30" x2="80.66" y2="175.80" stroke="#666" stroke-width="1"/>
<text x="80.66" y="184.90" font-size="8.3" text-anchor="middle" textLength="4.64" lengthAdjust="spacingAndGlyphs">5</text>
<line x1="131.33" y1="173.30" x2="131.33" y2="175.80" stroke="#666" stroke-width="1"/>
<text x="131.33" y="184.90" font-size="8.3" text-anchor="middle" textLength="9.29" lengthAdjust="spacingAndGlyphs">10</text>
<line x1="181.99" y1="173.30" x2="181.99" y2="175.80" stroke="#666" stroke-width="1"/>
<text x="181.99" y="184.90" font-size="8.3" text-anchor="middle" textLength="9.29" lengthAdjust="spacingAndGlyphs">15</text>
<line x1="232.66" y1="173.30" x2="232.66" y2="175.80" stroke="#666" stroke-width="1"/>
<text x="232.66" y="184.90" font-size="8.3" text-anchor="middle" textLength="9.29" lengthAdjust="spacingAndGlyphs">20</text>
<line x1="283.32" y1="173.30" x2="283.32" y2="175.80" stroke="#666" stroke-width="1"/>
<text x="283.32" y="184.90" font-size="8.3" text-anchor="middle" textLength="9.29" lengthAdjust="spacingAndGlyphs">25</text>
<line x1="333.99" y1="173.30" x2="333.99" y2="175.80" stroke="#666" stroke-width="1"/>
<text x="333.99" y="184.90" font-size="8.3" text-anchor="middle" textLength="9.29" lengthAdjust="spacingAndGlyphs">30</text>
<text x="190.00" y="195.60" font-size="8.3" text-anchor="middle" textLength="28.40" lengthAdjust="spacingAndGlyphs">R [kpc]</text>
<text x="0" y="0" font-size="8" text-anchor="middle" transform="translate(7.30,108.60) rotate(-90)">Θ</text>
<rect x="18.00" y="25.20" width="333.40" height="14.50" fill="none" stroke="#666" stroke-width="1"/>
<line x1="44.67" y1="22.70" x2="44.67" y2="25.20" stroke="#666" stroke-width="1"/>
<text x="44.67" y="17.60" font-size="8.3" text-anchor="middle" textLength="22.37" lengthAdjust="spacingAndGlyphs">−0.84</text>
<line x1="79.68" y1="22.70" x2="79.68" y2="25.20" stroke="#666" stroke-width="1"/>
<text x="79.68" y="17.60" font-size="8.3" text-anchor="middle" textLength="22.37" lengthAdjust="spacingAndGlyphs">−0.63</text>
<line x1="114.69" y1="22.70" x2="114.69" y2="25.20" stroke="#666" stroke-width="1"/>
<text x="114.69" y="17.60" font-size="8.3" text-anchor="middle" textLength="22.37" lengthAdjust="spacingAndGlyphs">−0.42</text>
<line x1="149.69" y1="22.70" x2="149.69" y2="25.20" stroke="#666" stroke-width="1"/>
<text x="149.69" y="17.60" font-size="8.3" text-anchor="middle" textLength="22.37" lengthAdjust="spacingAndGlyphs">−0.21</text>
<line x1="184.70" y1="22.70" x2="184.70" y2="25.20" stroke="#666" stroke-width="1"/>
<text x="184.70" y="17.60" font-size="8.3" text-anchor="middle" textLength="16.25" lengthAdjust="spacingAndGlyphs">0.00</text>
<line x1="219.71" y1="22.70" x2="219.71" y2="25.20" stroke="#666" stroke-width="1"/>
<text x="219.71" y="17.60" font-size="8.3" text-anchor="middle" textLength="16.25" lengthAdjust="spacingAndGlyphs">0.21</text>
<line x1="254.71" y1="22.70" x2="254.71" y2="25.20" stroke="#666" stroke-width="1"/>
<text x="254.71" y="17.60" font-size="8.3" text-anchor="middle" textLength="16.25" lengthAdjust="spacingAndGlyphs">0.42</text>
<line x1="289.72" y1="22.70" x2="289.72" y2="25.20" stroke="#666" stroke-width="1"/>
<text x="289.72" y="17.60" font-size="8.3" text-anchor="middle" textLength="16.25" lengthAdjust="spacingAndGlyphs">0.63</text>
<line x1="324.73" y1="22.70" x2="324.73" y2="25.20" stroke="#666" stroke-width="1"/>
<text x="324.73" y="17.60" font-size="8.3" text-anchor="middle" textLength="16.25" lengthAdjust="spacingAndGlyphs">0.84</text>
<text x="184.70" y="7.4" font-size="7.6" text-anchor="middle" textLength="56.2" lengthAdjust="spacingAndGlyphs">(Σ(<tspan font-style="italic">r</tspan>) − Σ<tspan font-size="5.4" font-style="italic" dy="1.4">av</tspan><tspan dy="-1.4">)/Σ</tspan><tspan font-size="5.4" font-style="italic" dy="1.4">av</tspan></text>
<text x="0" y="0" font-size="8" text-anchor="middle" transform="translate(12.4,32.6) rotate(-90)">Θ</text>
<rect x="383.80" y="44.70" width="313.10" height="129.60" fill="none" stroke="#666" stroke-width="1"/>
<line x1="381.30" y1="47.62" x2="383.80" y2="47.62" stroke="#666" stroke-width="1"/>
<text x="377.90" y="50.37" font-size="8.3" text-anchor="end" textLength="4.64" lengthAdjust="spacingAndGlyphs">3</text>
<line x1="381.30" y1="68.25" x2="383.80" y2="68.25" stroke="#666" stroke-width="1"/>
<text x="377.90" y="71.00" font-size="8.3" text-anchor="end" textLength="4.64" lengthAdjust="spacingAndGlyphs">2</text>
<line x1="381.30" y1="88.87" x2="383.80" y2="88.87" stroke="#666" stroke-width="1"/>
<text x="377.90" y="91.62" font-size="8.3" text-anchor="end" textLength="4.64" lengthAdjust="spacingAndGlyphs">1</text>
<line x1="381.30" y1="109.50" x2="383.80" y2="109.50" stroke="#666" stroke-width="1"/>
<text x="377.90" y="112.25" font-size="8.3" text-anchor="end" textLength="4.64" lengthAdjust="spacingAndGlyphs">0</text>
<line x1="381.30" y1="130.13" x2="383.80" y2="130.13" stroke="#666" stroke-width="1"/>
<text x="377.90" y="132.88" font-size="8.3" text-anchor="end" textLength="10.76" lengthAdjust="spacingAndGlyphs">−1</text>
<line x1="381.30" y1="150.75" x2="383.80" y2="150.75" stroke="#666" stroke-width="1"/>
<text x="377.90" y="153.50" font-size="8.3" text-anchor="end" textLength="10.76" lengthAdjust="spacingAndGlyphs">−2</text>
<line x1="381.30" y1="171.38" x2="383.80" y2="171.38" stroke="#666" stroke-width="1"/>
<text x="377.90" y="174.13" font-size="8.3" text-anchor="end" textLength="10.76" lengthAdjust="spacingAndGlyphs">−3</text>
<line x1="383.80" y1="174.30" x2="383.80" y2="176.80" stroke="#666" stroke-width="1"/>
<text x="383.80" y="185.90" font-size="8.3" text-anchor="middle" textLength="4.64" lengthAdjust="spacingAndGlyphs">0</text>
<line x1="433.37" y1="174.30" x2="433.37" y2="176.80" stroke="#666" stroke-width="1"/>
<text x="433.37" y="185.90" font-size="8.3" text-anchor="middle" textLength="4.64" lengthAdjust="spacingAndGlyphs">5</text>
<line x1="482.95" y1="174.30" x2="482.95" y2="176.80" stroke="#666" stroke-width="1"/>
<text x="482.95" y="185.90" font-size="8.3" text-anchor="middle" textLength="9.29" lengthAdjust="spacingAndGlyphs">10</text>
<line x1="532.52" y1="174.30" x2="532.52" y2="176.80" stroke="#666" stroke-width="1"/>
<text x="532.52" y="185.90" font-size="8.3" text-anchor="middle" textLength="9.29" lengthAdjust="spacingAndGlyphs">15</text>
<line x1="582.09" y1="174.30" x2="582.09" y2="176.80" stroke="#666" stroke-width="1"/>
<text x="582.09" y="185.90" font-size="8.3" text-anchor="middle" textLength="9.29" lengthAdjust="spacingAndGlyphs">20</text>
<line x1="631.66" y1="174.30" x2="631.66" y2="176.80" stroke="#666" stroke-width="1"/>
<text x="631.66" y="185.90" font-size="8.3" text-anchor="middle" textLength="9.29" lengthAdjust="spacingAndGlyphs">25</text>
<line x1="681.24" y1="174.30" x2="681.24" y2="176.80" stroke="#666" stroke-width="1"/>
<text x="681.24" y="185.90" font-size="8.3" text-anchor="middle" textLength="9.29" lengthAdjust="spacingAndGlyphs">30</text>
<text x="540.35" y="196.60" font-size="8.3" text-anchor="middle" textLength="28.40" lengthAdjust="spacingAndGlyphs">R [kpc]</text>
<text x="0" y="0" font-size="8" text-anchor="middle" transform="translate(361.20,109.50) rotate(-90)">Θ</text>
<rect x="372.20" y="25.80" width="326.10" height="14.60" fill="none" stroke="#666" stroke-width="1"/>
<line x1="387.37" y1="23.30" x2="387.37" y2="25.80" stroke="#666" stroke-width="1"/>
<text x="387.37" y="18.20" font-size="8.3" text-anchor="middle" textLength="22.37" lengthAdjust="spacingAndGlyphs">−0.84</text>
<line x1="422.20" y1="23.30" x2="422.20" y2="25.80" stroke="#666" stroke-width="1"/>
<text x="422.20" y="18.20" font-size="8.3" text-anchor="middle" textLength="22.37" lengthAdjust="spacingAndGlyphs">−0.42</text>
<line x1="457.02" y1="23.30" x2="457.02" y2="25.80" stroke="#666" stroke-width="1"/>
<text x="457.02" y="18.20" font-size="8.3" text-anchor="middle" textLength="16.25" lengthAdjust="spacingAndGlyphs">0.00</text>
<line x1="491.84" y1="23.30" x2="491.84" y2="25.80" stroke="#666" stroke-width="1"/>
<text x="491.84" y="18.20" font-size="8.3" text-anchor="middle" textLength="16.25" lengthAdjust="spacingAndGlyphs">0.42</text>
<line x1="526.67" y1="23.30" x2="526.67" y2="25.80" stroke="#666" stroke-width="1"/>
<text x="526.67" y="18.20" font-size="8.3" text-anchor="middle" textLength="16.25" lengthAdjust="spacingAndGlyphs">0.84</text>
<line x1="561.49" y1="23.30" x2="561.49" y2="25.80" stroke="#666" stroke-width="1"/>
<text x="561.49" y="18.20" font-size="8.3" text-anchor="middle" textLength="16.25" lengthAdjust="spacingAndGlyphs">1.26</text>
<line x1="596.32" y1="23.30" x2="596.32" y2="25.80" stroke="#666" stroke-width="1"/>
<text x="596.32" y="18.20" font-size="8.3" text-anchor="middle" textLength="16.25" lengthAdjust="spacingAndGlyphs">1.68</text>
<line x1="631.14" y1="23.30" x2="631.14" y2="25.80" stroke="#666" stroke-width="1"/>
<text x="631.14" y="18.20" font-size="8.3" text-anchor="middle" textLength="16.25" lengthAdjust="spacingAndGlyphs">2.10</text>
<line x1="665.96" y1="23.30" x2="665.96" y2="25.80" stroke="#666" stroke-width="1"/>
<text x="665.96" y="18.20" font-size="8.3" text-anchor="middle" textLength="16.25" lengthAdjust="spacingAndGlyphs">2.52</text>
<text x="535.25" y="7.4" font-size="7.6" text-anchor="middle" textLength="56.2" lengthAdjust="spacingAndGlyphs">(Σ(<tspan font-style="italic">r</tspan>) − Σ<tspan font-size="5.4" font-style="italic" dy="1.4">av</tspan><tspan dy="-1.4">)/Σ</tspan><tspan font-size="5.4" font-style="italic" dy="1.4">av</tspan></text>
<rect x="30.00" y="198.80" width="320.00" height="129.50" fill="none" stroke="#666" stroke-width="1"/>
<line x1="27.50" y1="206.00" x2="30.00" y2="206.00" stroke="#666" stroke-width="1"/>
<text x="24.10" y="208.75" font-size="8.3" text-anchor="end" textLength="9.29" lengthAdjust="spacingAndGlyphs">20</text>
<line x1="27.50" y1="232.00" x2="30.00" y2="232.00" stroke="#666" stroke-width="1"/>
<text x="24.10" y="234.75" font-size="8.3" text-anchor="end" textLength="9.29" lengthAdjust="spacingAndGlyphs">18</text>
<line x1="27.50" y1="258.00" x2="30.00" y2="258.00" stroke="#666" stroke-width="1"/>
<text x="24.10" y="260.75" font-size="8.3" text-anchor="end" textLength="9.29" lengthAdjust="spacingAndGlyphs">16</text>
<line x1="27.50" y1="284.00" x2="30.00" y2="284.00" stroke="#666" stroke-width="1"/>
<text x="24.10" y="286.75" font-size="8.3" text-anchor="end" textLength="9.29" lengthAdjust="spacingAndGlyphs">14</text>
<line x1="27.50" y1="310.00" x2="30.00" y2="310.00" stroke="#666" stroke-width="1"/>
<text x="24.10" y="312.75" font-size="8.3" text-anchor="end" textLength="9.29" lengthAdjust="spacingAndGlyphs">12</text>
<line x1="30.00" y1="328.30" x2="30.00" y2="330.80" stroke="#666" stroke-width="1"/>
<text x="30.00" y="340.20" font-size="8.3" text-anchor="middle" textLength="4.64" lengthAdjust="spacingAndGlyphs">0</text>
<line x1="80.66" y1="328.30" x2="80.66" y2="330.80" stroke="#666" stroke-width="1"/>
<text x="80.66" y="340.20" font-size="8.3" text-anchor="middle" textLength="4.64" lengthAdjust="spacingAndGlyphs">5</text>
<line x1="131.33" y1="328.30" x2="131.33" y2="330.80" stroke="#666" stroke-width="1"/>
<text x="131.33" y="340.20" font-size="8.3" text-anchor="middle" textLength="9.29" lengthAdjust="spacingAndGlyphs">10</text>
<line x1="181.99" y1="328.30" x2="181.99" y2="330.80" stroke="#666" stroke-width="1"/>
<text x="181.99" y="340.20" font-size="8.3" text-anchor="middle" textLength="9.29" lengthAdjust="spacingAndGlyphs">15</text>
<line x1="232.66" y1="328.30" x2="232.66" y2="330.80" stroke="#666" stroke-width="1"/>
<text x="232.66" y="340.20" font-size="8.3" text-anchor="middle" textLength="9.29" lengthAdjust="spacingAndGlyphs">20</text>
<line x1="283.32" y1="328.30" x2="283.32" y2="330.80" stroke="#666" stroke-width="1"/>
<text x="283.32" y="340.20" font-size="8.3" text-anchor="middle" textLength="9.29" lengthAdjust="spacingAndGlyphs">25</text>
<line x1="333.99" y1="328.30" x2="333.99" y2="330.80" stroke="#666" stroke-width="1"/>
<text x="333.99" y="340.20" font-size="8.3" text-anchor="middle" textLength="9.29" lengthAdjust="spacingAndGlyphs">30</text>
<text x="190.00" y="350.20" font-size="8.3" text-anchor="middle" textLength="28.40" lengthAdjust="spacingAndGlyphs">R [kpc]</text>
<text x="0" y="0" font-size="8" text-anchor="middle" textLength="36" lengthAdjust="spacingAndGlyphs" transform="translate(8.20,263.55) rotate(-90)">Log Dens</text>
<rect x="383.80" y="200.10" width="313.10" height="129.60" fill="none" stroke="#666" stroke-width="1"/>
<line x1="381.30" y1="207.40" x2="383.80" y2="207.40" stroke="#666" stroke-width="1"/>
<text x="377.90" y="210.15" font-size="8.3" text-anchor="end" textLength="9.29" lengthAdjust="spacingAndGlyphs">20</text>
<line x1="381.30" y1="233.20" x2="383.80" y2="233.20" stroke="#666" stroke-width="1"/>
<text x="377.90" y="235.95" font-size="8.3" text-anchor="end" textLength="9.29" lengthAdjust="spacingAndGlyphs">18</text>
<line x1="381.30" y1="259.00" x2="383.80" y2="259.00" stroke="#666" stroke-width="1"/>
<text x="377.90" y="261.75" font-size="8.3" text-anchor="end" textLength="9.29" lengthAdjust="spacingAndGlyphs">16</text>
<line x1="381.30" y1="284.80" x2="383.80" y2="284.80" stroke="#666" stroke-width="1"/>
<text x="377.90" y="287.55" font-size="8.3" text-anchor="end" textLength="9.29" lengthAdjust="spacingAndGlyphs">14</text>
<line x1="381.30" y1="310.60" x2="383.80" y2="310.60" stroke="#666" stroke-width="1"/>
<text x="377.90" y="313.35" font-size="8.3" text-anchor="end" textLength="9.29" lengthAdjust="spacingAndGlyphs">12</text>
<line x1="383.80" y1="329.70" x2="383.80" y2="332.20" stroke="#666" stroke-width="1"/>
<text x="383.80" y="341.60" font-size="8.3" text-anchor="middle" textLength="4.64" lengthAdjust="spacingAndGlyphs">0</text>
<line x1="433.37" y1="329.70" x2="433.37" y2="332.20" stroke="#666" stroke-width="1"/>
<text x="433.37" y="341.60" font-size="8.3" text-anchor="middle" textLength="4.64" lengthAdjust="spacingAndGlyphs">5</text>
<line x1="482.95" y1="329.70" x2="482.95" y2="332.20" stroke="#666" stroke-width="1"/>
<text x="482.95" y="341.60" font-size="8.3" text-anchor="middle" textLength="9.29" lengthAdjust="spacingAndGlyphs">10</text>
<line x1="532.52" y1="329.70" x2="532.52" y2="332.20" stroke="#666" stroke-width="1"/>
<text x="532.52" y="341.60" font-size="8.3" text-anchor="middle" textLength="9.29" lengthAdjust="spacingAndGlyphs">15</text>
<line x1="582.09" y1="329.70" x2="582.09" y2="332.20" stroke="#666" stroke-width="1"/>
<text x="582.09" y="341.60" font-size="8.3" text-anchor="middle" textLength="9.29" lengthAdjust="spacingAndGlyphs">20</text>
<line x1="631.66" y1="329.70" x2="631.66" y2="332.20" stroke="#666" stroke-width="1"/>
<text x="631.66" y="341.60" font-size="8.3" text-anchor="middle" textLength="9.29" lengthAdjust="spacingAndGlyphs">25</text>
<line x1="681.24" y1="329.70" x2="681.24" y2="332.20" stroke="#666" stroke-width="1"/>
<text x="681.24" y="341.60" font-size="8.3" text-anchor="middle" textLength="9.29" lengthAdjust="spacingAndGlyphs">30</text>
<text x="540.35" y="351.60" font-size="8.3" text-anchor="middle" textLength="28.40" lengthAdjust="spacingAndGlyphs">R [kpc]</text>
<text x="0" y="0" font-size="8" text-anchor="middle" textLength="36" lengthAdjust="spacingAndGlyphs" transform="translate(363.20,264.90) rotate(-90)">Log Dens</text>
<clipPath id="cl1"><rect x="30.00" y="198.80" width="320.00" height="129.50"/></clipPath>
<g clip-path="url(#cl1)">
<polygon points="30.40,201.80 31.38,203.65 33.44,204.01 31.98,205.51 32.28,207.59 30.40,206.66 28.52,207.59 28.82,205.51 27.36,204.01 29.42,203.65" fill="#0000ff"/>
<polygon points="35.80,203.70 36.78,205.55 38.84,205.91 37.38,207.41 37.68,209.49 35.80,208.56 33.92,209.49 34.22,207.41 32.76,205.91 34.82,205.55" fill="#0000ff"/>
<polygon points="41.20,206.70 42.18,208.55 44.24,208.91 42.78,210.41 43.08,212.49 41.20,211.56 39.32,212.49 39.62,210.41 38.16,208.91 40.22,208.55" fill="#0000ff"/>
<polygon points="46.60,208.90 47.58,210.75 49.64,211.11 48.18,212.61 48.48,214.69 46.60,213.76 44.72,214.69 45.02,212.61 43.56,211.11 45.62,210.75" fill="#0000ff"/>
<polygon points="52.00,210.60 52.98,212.45 55.04,212.81 53.58,214.31 53.88,216.39 52.00,215.46 50.12,216.39 50.42,214.31 48.96,212.81 51.02,212.45" fill="#0000ff"/>
<polygon points="57.40,212.40 58.38,214.25 60.44,214.61 58.98,216.11 59.28,218.19 57.40,217.26 55.52,218.19 55.82,216.11 54.36,214.61 56.42,214.25" fill="#0000ff"/>
<polygon points="62.80,214.30 63.78,216.15 65.84,216.51 64.38,218.01 64.68,220.09 62.80,219.16 60.92,220.09 61.22,218.01 59.76,216.51 61.82,216.15" fill="#0000ff"/>
<polygon points="68.20,216.50 69.18,218.35 71.24,218.71 69.78,220.21 70.08,222.29 68.20,221.36 66.32,222.29 66.62,220.21 65.16,218.71 67.22,218.35" fill="#0000ff"/>
<polygon points="73.60,218.80 74.58,220.65 76.64,221.01 75.18,222.51 75.48,224.59 73.60,223.66 71.72,224.59 72.02,222.51 70.56,221.01 72.62,220.65" fill="#0000ff"/>
<polygon points="79.00,220.40 79.98,222.25 82.04,222.61 80.58,224.11 80.88,226.19 79.00,225.26 77.12,226.19 77.42,224.11 75.96,222.61 78.02,222.25" fill="#0000ff"/>
<polygon points="84.40,222.70 85.38,224.55 87.44,224.91 85.98,226.41 86.28,228.49 84.40,227.56 82.52,228.49 82.82,226.41 81.36,224.91 83.42,224.55" fill="#0000ff"/>
<polygon points="89.80,224.90 90.78,226.75 92.84,227.11 91.38,228.61 91.68,230.69 89.80,229.76 87.92,230.69 88.22,228.61 86.76,227.11 88.82,226.75" fill="#0000ff"/>
<polygon points="95.20,227.30 96.18,229.15 98.24,229.51 96.78,231.01 97.08,233.09 95.20,232.16 93.32,233.09 93.62,231.01 92.16,229.51 94.22,229.15" fill="#0000ff"/>
<polygon points="100.60,228.90 101.58,230.75 103.64,231.11 102.18,232.61 102.48,234.69 100.60,233.76 98.72,234.69 99.02,232.61 97.56,231.11 99.62,230.75" fill="#0000ff"/>
<polygon points="106.00,230.20 106.98,232.05 109.04,232.41 107.58,233.91 107.88,235.99 106.00,235.06 104.12,235.99 104.42,233.91 102.96,232.41 105.02,232.05" fill="#0000ff"/>
<polygon points="111.40,232.50 112.38,234.35 114.44,234.71 112.98,236.21 113.28,238.29 111.40,237.36 109.52,238.29 109.82,236.21 108.36,234.71 110.42,234.35" fill="#0000ff"/>
<polygon points="116.80,234.60 117.78,236.45 119.84,236.81 118.38,238.31 118.68,240.39 116.80,239.46 114.92,240.39 115.22,238.31 113.76,236.81 115.82,236.45" fill="#0000ff"/>
<polygon points="122.20,235.20 123.18,237.05 125.24,237.41 123.78,238.91 124.08,240.99 122.20,240.06 120.32,240.99 120.62,238.91 119.16,237.41 121.22,237.05" fill="#0000ff"/>
<polygon points="127.60,236.90 128.58,238.75 130.64,239.11 129.18,240.61 129.48,242.69 127.60,241.76 125.72,242.69 126.02,240.61 124.56,239.11 126.62,238.75" fill="#0000ff"/>
<polygon points="133.00,240.30 133.98,242.15 136.04,242.51 134.58,244.01 134.88,246.09 133.00,245.16 131.12,246.09 131.42,244.01 129.96,242.51 132.02,242.15" fill="#0000ff"/>
<polygon points="138.40,242.90 139.38,244.75 141.44,245.11 139.98,246.61 140.28,248.69 138.40,247.76 136.52,248.69 136.82,246.61 135.36,245.11 137.42,244.75" fill="#0000ff"/>
<polygon points="143.80,245.00 144.78,246.85 146.84,247.21 145.38,248.71 145.68,250.79 143.80,249.86 141.92,250.79 142.22,248.71 140.76,247.21 142.82,246.85" fill="#0000ff"/>
<polygon points="149.20,246.00 150.18,247.85 152.24,248.21 150.78,249.71 151.08,251.79 149.20,250.86 147.32,251.79 147.62,249.71 146.16,248.21 148.22,247.85" fill="#0000ff"/>
<polygon points="154.60,247.80 155.58,249.65 157.64,250.01 156.18,251.51 156.48,253.59 154.60,252.66 152.72,253.59 153.02,251.51 151.56,250.01 153.62,249.65" fill="#0000ff"/>
<polygon points="160.00,249.90 160.98,251.75 163.04,252.11 161.58,253.61 161.88,255.69 160.00,254.76 158.12,255.69 158.42,253.61 156.96,252.11 159.02,251.75" fill="#0000ff"/>
<polygon points="165.40,252.20 166.38,254.05 168.44,254.41 166.98,255.91 167.28,257.99 165.40,257.06 163.52,257.99 163.82,255.91 162.36,254.41 164.42,254.05" fill="#0000ff"/>
<polygon points="170.80,254.50 171.78,256.35 173.84,256.71 172.38,258.21 172.68,260.29 170.80,259.36 168.92,260.29 169.22,258.21 167.76,256.71 169.82,256.35" fill="#0000ff"/>
<polygon points="176.20,256.80 177.18,258.65 179.24,259.01 177.78,260.51 178.08,262.59 176.20,261.66 174.32,262.59 174.62,260.51 173.16,259.01 175.22,258.65" fill="#0000ff"/>
<polygon points="181.60,258.30 182.58,260.15 184.64,260.51 183.18,262.01 183.48,264.09 181.60,263.16 179.72,264.09 180.02,262.01 178.56,260.51 180.62,260.15" fill="#0000ff"/>
<polygon points="187.00,260.20 187.98,262.05 190.04,262.41 188.58,263.91 188.88,265.99 187.00,265.06 185.12,265.99 185.42,263.91 183.96,262.41 186.02,262.05" fill="#0000ff"/>
<polygon points="192.40,261.70 193.38,263.55 195.44,263.91 193.98,265.41 194.28,267.49 192.40,266.56 190.52,267.49 190.82,265.41 189.36,263.91 191.42,263.55" fill="#0000ff"/>
<polygon points="197.80,263.60 198.78,265.45 200.84,265.81 199.38,267.31 199.68,269.39 197.80,268.46 195.92,269.39 196.22,267.31 194.76,265.81 196.82,265.45" fill="#0000ff"/>
<polygon points="203.20,265.50 204.18,267.35 206.24,267.71 204.78,269.21 205.08,271.29 203.20,270.36 201.32,271.29 201.62,269.21 200.16,267.71 202.22,267.35" fill="#0000ff"/>
<polygon points="208.60,267.80 209.58,269.65 211.64,270.01 210.18,271.51 210.48,273.59 208.60,272.66 206.72,273.59 207.02,271.51 205.56,270.01 207.62,269.65" fill="#0000ff"/>
<polygon points="214.00,269.00 214.98,270.85 217.04,271.21 215.58,272.71 215.88,274.79 214.00,273.86 212.12,274.79 212.42,272.71 210.96,271.21 213.02,270.85" fill="#0000ff"/>
<polygon points="219.40,271.20 220.38,273.05 222.44,273.41 220.98,274.91 221.28,276.99 219.40,276.06 217.52,276.99 217.82,274.91 216.36,273.41 218.42,273.05" fill="#0000ff"/>
<polygon points="224.80,272.90 225.78,274.75 227.84,275.11 226.38,276.61 226.68,278.69 224.80,277.76 222.92,278.69 223.22,276.61 221.76,275.11 223.82,274.75" fill="#0000ff"/>
<polygon points="230.20,274.90 231.18,276.75 233.24,277.11 231.78,278.61 232.08,280.69 230.20,279.76 228.32,280.69 228.62,278.61 227.16,277.11 229.22,276.75" fill="#0000ff"/>
<polygon points="235.60,276.80 236.58,278.65 238.64,279.01 237.18,280.51 237.48,282.59 235.60,281.66 233.72,282.59 234.02,280.51 232.56,279.01 234.62,278.65" fill="#0000ff"/>
<polygon points="241.00,279.40 241.98,281.25 244.04,281.61 242.58,283.11 242.88,285.19 241.00,284.26 239.12,285.19 239.42,283.11 237.96,281.61 240.02,281.25" fill="#0000ff"/>
<polygon points="246.40,281.30 247.38,283.15 249.44,283.51 247.98,285.01 248.28,287.09 246.40,286.16 244.52,287.09 244.82,285.01 243.36,283.51 245.42,283.15" fill="#0000ff"/>
<polygon points="251.80,284.40 252.78,286.25 254.84,286.61 253.38,288.11 253.68,290.19 251.80,289.26 249.92,290.19 250.22,288.11 248.76,286.61 250.82,286.25" fill="#0000ff"/>
<polygon points="257.20,286.60 258.18,288.45 260.24,288.81 258.78,290.31 259.08,292.39 257.20,291.46 255.32,292.39 255.62,290.31 254.16,288.81 256.22,288.45" fill="#0000ff"/>
<polygon points="262.60,288.90 263.58,290.75 265.64,291.11 264.18,292.61 264.48,294.69 262.60,293.76 260.72,294.69 261.02,292.61 259.56,291.11 261.62,290.75" fill="#0000ff"/>
<polygon points="268.00,290.10 268.98,291.95 271.04,292.31 269.58,293.81 269.88,295.89 268.00,294.96 266.12,295.89 266.42,293.81 264.96,292.31 267.02,291.95" fill="#0000ff"/>
<polygon points="273.40,292.70 274.38,294.55 276.44,294.91 274.98,296.41 275.28,298.49 273.40,297.56 271.52,298.49 271.82,296.41 270.36,294.91 272.42,294.55" fill="#0000ff"/>
<polygon points="278.80,294.20 279.78,296.05 281.84,296.41 280.38,297.91 280.68,299.99 278.80,299.06 276.92,299.99 277.22,297.91 275.76,296.41 277.82,296.05" fill="#0000ff"/>
<polygon points="284.20,295.80 285.18,297.65 287.24,298.01 285.78,299.51 286.08,301.59 284.20,300.66 282.32,301.59 282.62,299.51 281.16,298.01 283.22,297.65" fill="#0000ff"/>
<polygon points="289.60,298.00 290.58,299.85 292.64,300.21 291.18,301.71 291.48,303.79 289.60,302.86 287.72,303.79 288.02,301.71 286.56,300.21 288.62,299.85" fill="#0000ff"/>
<polygon points="295.00,299.70 295.98,301.55 298.04,301.91 296.58,303.41 296.88,305.49 295.00,304.56 293.12,305.49 293.42,303.41 291.96,301.91 294.02,301.55" fill="#0000ff"/>
<polygon points="300.40,301.80 301.38,303.65 303.44,304.01 301.98,305.51 302.28,307.59 300.40,306.66 298.52,307.59 298.82,305.51 297.36,304.01 299.42,303.65" fill="#0000ff"/>
<polygon points="305.80,303.90 306.78,305.75 308.84,306.11 307.38,307.61 307.68,309.69 305.80,308.76 303.92,309.69 304.22,307.61 302.76,306.11 304.82,305.75" fill="#0000ff"/>
<polygon points="311.20,305.40 312.18,307.25 314.24,307.61 312.78,309.11 313.08,311.19 311.20,310.26 309.32,311.19 309.62,309.11 308.16,307.61 310.22,307.25" fill="#0000ff"/>
<polygon points="316.60,307.10 317.58,308.95 319.64,309.31 318.18,310.81 318.48,312.89 316.60,311.96 314.72,312.89 315.02,310.81 313.56,309.31 315.62,308.95" fill="#0000ff"/>
<polygon points="322.00,310.00 322.98,311.85 325.04,312.21 323.58,313.71 323.88,315.79 322.00,314.86 320.12,315.79 320.42,313.71 318.96,312.21 321.02,311.85" fill="#0000ff"/>
<polygon points="327.40,311.60 328.38,313.45 330.44,313.81 328.98,315.31 329.28,317.39 327.40,316.46 325.52,317.39 325.82,315.31 324.36,313.81 326.42,313.45" fill="#0000ff"/>
<polygon points="332.80,313.10 333.78,314.95 335.84,315.31 334.38,316.81 334.68,318.89 332.80,317.96 330.92,318.89 331.22,316.81 329.76,315.31 331.82,314.95" fill="#0000ff"/>
<polygon points="338.20,314.50 339.18,316.35 341.24,316.71 339.78,318.21 340.08,320.29 338.20,319.36 336.32,320.29 336.62,318.21 335.16,316.71 337.22,316.35" fill="#0000ff"/>
<polygon points="343.60,316.70 344.58,318.55 346.64,318.91 345.18,320.41 345.48,322.49 343.60,321.56 341.72,322.49 342.02,320.41 340.56,318.91 342.62,318.55" fill="#0000ff"/>
<polygon points="349.00,318.60 349.98,320.45 352.04,320.81 350.58,322.31 350.88,324.39 349.00,323.46 347.12,324.39 347.42,322.31 345.96,320.81 348.02,320.45" fill="#0000ff"/>
<polygon points="30.40,221.10 31.38,222.95 33.44,223.31 31.98,224.81 32.28,226.89 30.40,225.96 28.52,226.89 28.82,224.81 27.36,223.31 29.42,222.95" fill="#ff0000"/>
<polygon points="35.80,231.20 36.78,233.05 38.84,233.41 37.38,234.91 37.68,236.99 35.80,236.06 33.92,236.99 34.22,234.91 32.76,233.41 34.82,233.05" fill="#ff0000"/>
<polygon points="41.20,231.70 42.18,233.55 44.24,233.91 42.78,235.41 43.08,237.49 41.20,236.56 39.32,237.49 39.62,235.41 38.16,233.91 40.22,233.55" fill="#ff0000"/>
<polygon points="46.60,233.90 47.58,235.75 49.64,236.11 48.18,237.61 48.48,239.69 46.60,238.76 44.72,239.69 45.02,237.61 43.56,236.11 45.62,235.75" fill="#ff0000"/>
<polygon points="52.00,235.20 52.98,237.05 55.04,237.41 53.58,238.91 53.88,240.99 52.00,240.06 50.12,240.99 50.42,238.91 48.96,237.41 51.02,237.05" fill="#ff0000"/>
<polygon points="57.40,234.60 58.38,236.45 60.44,236.81 58.98,238.31 59.28,240.39 57.40,239.46 55.52,240.39 55.82,238.31 54.36,236.81 56.42,236.45" fill="#ff0000"/>
<polygon points="62.80,232.60 63.78,234.45 65.84,234.81 64.38,236.31 64.68,238.39 62.80,237.46 60.92,238.39 61.22,236.31 59.76,234.81 61.82,234.45" fill="#ff0000"/>
<polygon points="68.20,232.70 69.18,234.55 71.24,234.91 69.78,236.41 70.08,238.49 68.20,237.56 66.32,238.49 66.62,236.41 65.16,234.91 67.22,234.55" fill="#ff0000"/>
<polygon points="73.60,237.60 74.58,239.45 76.64,239.81 75.18,241.31 75.48,243.39 73.60,242.46 71.72,243.39 72.02,241.31 70.56,239.81 72.62,239.45" fill="#ff0000"/>
<polygon points="79.00,239.70 79.98,241.55 82.04,241.91 80.58,243.41 80.88,245.49 79.00,244.56 77.12,245.49 77.42,243.41 75.96,241.91 78.02,241.55" fill="#ff0000"/>
<polygon points="84.40,238.40 85.38,240.25 87.44,240.61 85.98,242.11 86.28,244.19 84.40,243.26 82.52,244.19 82.82,242.11 81.36,240.61 83.42,240.25" fill="#ff0000"/>
<polygon points="89.80,238.60 90.78,240.45 92.84,240.81 91.38,242.31 91.68,244.39 89.80,243.46 87.92,244.39 88.22,242.31 86.76,240.81 88.82,240.45" fill="#ff0000"/>
<polygon points="95.20,240.30 96.18,242.15 98.24,242.51 96.78,244.01 97.08,246.09 95.20,245.16 93.32,246.09 93.62,244.01 92.16,242.51 94.22,242.15" fill="#ff0000"/>
<polygon points="100.60,241.90 101.58,243.75 103.64,244.11 102.18,245.61 102.48,247.69 100.60,246.76 98.72,247.69 99.02,245.61 97.56,244.11 99.62,243.75" fill="#ff0000"/>
<polygon points="106.00,244.00 106.98,245.85 109.04,246.21 107.58,247.71 107.88,249.79 106.00,248.86 104.12,249.79 104.42,247.71 102.96,246.21 105.02,245.85" fill="#ff0000"/>
<polygon points="111.40,246.00 112.38,247.85 114.44,248.21 112.98,249.71 113.28,251.79 111.40,250.86 109.52,251.79 109.82,249.71 108.36,248.21 110.42,247.85" fill="#ff0000"/>
<polygon points="116.80,248.10 117.78,249.95 119.84,250.31 118.38,251.81 118.68,253.89 116.80,252.96 114.92,253.89 115.22,251.81 113.76,250.31 115.82,249.95" fill="#ff0000"/>
<polygon points="122.20,252.80 123.18,254.65 125.24,255.01 123.78,256.51 124.08,258.59 122.20,257.66 120.32,258.59 120.62,256.51 119.16,255.01 121.22,254.65" fill="#ff0000"/>
<polygon points="127.60,253.00 128.58,254.85 130.64,255.21 129.18,256.71 129.48,258.79 127.60,257.86 125.72,258.79 126.02,256.71 124.56,255.21 126.62,254.85" fill="#ff0000"/>
<polygon points="133.00,254.80 133.98,256.65 136.04,257.01 134.58,258.51 134.88,260.59 133.00,259.66 131.12,260.59 131.42,258.51 129.96,257.01 132.02,256.65" fill="#ff0000"/>
<polygon points="138.40,260.40 139.38,262.25 141.44,262.61 139.98,264.11 140.28,266.19 138.40,265.26 136.52,266.19 136.82,264.11 135.36,262.61 137.42,262.25" fill="#ff0000"/>
<polygon points="143.80,262.60 144.78,264.45 146.84,264.81 145.38,266.31 145.68,268.39 143.80,267.46 141.92,268.39 142.22,266.31 140.76,264.81 142.82,264.45" fill="#ff0000"/>
<polygon points="149.20,264.10 150.18,265.95 152.24,266.31 150.78,267.81 151.08,269.89 149.20,268.96 147.32,269.89 147.62,267.81 146.16,266.31 148.22,265.95" fill="#ff0000"/>
<polygon points="154.60,265.40 155.58,267.25 157.64,267.61 156.18,269.11 156.48,271.19 154.60,270.26 152.72,271.19 153.02,269.11 151.56,267.61 153.62,267.25" fill="#ff0000"/>
<polygon points="160.00,263.80 160.98,265.65 163.04,266.01 161.58,267.51 161.88,269.59 160.00,268.66 158.12,269.59 158.42,267.51 156.96,266.01 159.02,265.65" fill="#ff0000"/>
<polygon points="165.40,263.70 166.38,265.55 168.44,265.91 166.98,267.41 167.28,269.49 165.40,268.56 163.52,269.49 163.82,267.41 162.36,265.91 164.42,265.55" fill="#ff0000"/>
<polygon points="170.80,263.70 171.78,265.55 173.84,265.91 172.38,267.41 172.68,269.49 170.80,268.56 168.92,269.49 169.22,267.41 167.76,265.91 169.82,265.55" fill="#ff0000"/>
<polygon points="176.20,264.50 177.18,266.35 179.24,266.71 177.78,268.21 178.08,270.29 176.20,269.36 174.32,270.29 174.62,268.21 173.16,266.71 175.22,266.35" fill="#ff0000"/>
<polygon points="181.60,266.60 182.58,268.45 184.64,268.81 183.18,270.31 183.48,272.39 181.60,271.46 179.72,272.39 180.02,270.31 178.56,268.81 180.62,268.45" fill="#ff0000"/>
<polygon points="187.00,264.70 187.98,266.55 190.04,266.91 188.58,268.41 188.88,270.49 187.00,269.56 185.12,270.49 185.42,268.41 183.96,266.91 186.02,266.55" fill="#ff0000"/>
<polygon points="192.40,267.40 193.38,269.25 195.44,269.61 193.98,271.11 194.28,273.19 192.40,272.26 190.52,273.19 190.82,271.11 189.36,269.61 191.42,269.25" fill="#ff0000"/>
<polygon points="197.80,268.50 198.78,270.35 200.84,270.71 199.38,272.21 199.68,274.29 197.80,273.36 195.92,274.29 196.22,272.21 194.76,270.71 196.82,270.35" fill="#ff0000"/>
<polygon points="203.20,270.80 204.18,272.65 206.24,273.01 204.78,274.51 205.08,276.59 203.20,275.66 201.32,276.59 201.62,274.51 200.16,273.01 202.22,272.65" fill="#ff0000"/>
<polygon points="208.60,271.80 209.58,273.65 211.64,274.01 210.18,275.51 210.48,277.59 208.60,276.66 206.72,277.59 207.02,275.51 205.56,274.01 207.62,273.65" fill="#ff0000"/>
<polygon points="214.00,271.90 214.98,273.75 217.04,274.11 215.58,275.61 215.88,277.69 214.00,276.76 212.12,277.69 212.42,275.61 210.96,274.11 213.02,273.75" fill="#ff0000"/>
<polygon points="219.40,276.40 220.38,278.25 222.44,278.61 220.98,280.11 221.28,282.19 219.40,281.26 217.52,282.19 217.82,280.11 216.36,278.61 218.42,278.25" fill="#ff0000"/>
<polygon points="224.80,278.20 225.78,280.05 227.84,280.41 226.38,281.91 226.68,283.99 224.80,283.06 222.92,283.99 223.22,281.91 221.76,280.41 223.82,280.05" fill="#ff0000"/>
<polygon points="230.20,277.60 231.18,279.45 233.24,279.81 231.78,281.31 232.08,283.39 230.20,282.46 228.32,283.39 228.62,281.31 227.16,279.81 229.22,279.45" fill="#ff0000"/>
<polygon points="235.60,278.10 236.58,279.95 238.64,280.31 237.18,281.81 237.48,283.89 235.60,282.96 233.72,283.89 234.02,281.81 232.56,280.31 234.62,279.95" fill="#ff0000"/>
<polygon points="241.00,279.30 241.98,281.15 244.04,281.51 242.58,283.01 242.88,285.09 241.00,284.16 239.12,285.09 239.42,283.01 237.96,281.51 240.02,281.15" fill="#ff0000"/>
<polygon points="246.40,283.00 247.38,284.85 249.44,285.21 247.98,286.71 248.28,288.79 246.40,287.86 244.52,288.79 244.82,286.71 243.36,285.21 245.42,284.85" fill="#ff0000"/>
<polygon points="251.80,285.40 252.78,287.25 254.84,287.61 253.38,289.11 253.68,291.19 251.80,290.26 249.92,291.19 250.22,289.11 248.76,287.61 250.82,287.25" fill="#ff0000"/>
<polygon points="257.20,284.30 258.18,286.15 260.24,286.51 258.78,288.01 259.08,290.09 257.20,289.16 255.32,290.09 255.62,288.01 254.16,286.51 256.22,286.15" fill="#ff0000"/>
<polygon points="262.60,283.10 263.58,284.95 265.64,285.31 264.18,286.81 264.48,288.89 262.60,287.96 260.72,288.89 261.02,286.81 259.56,285.31 261.62,284.95" fill="#ff0000"/>
<polygon points="268.00,288.10 268.98,289.95 271.04,290.31 269.58,291.81 269.88,293.89 268.00,292.96 266.12,293.89 266.42,291.81 264.96,290.31 267.02,289.95" fill="#ff0000"/>
<polygon points="273.40,287.60 274.38,289.45 276.44,289.81 274.98,291.31 275.28,293.39 273.40,292.46 271.52,293.39 271.82,291.31 270.36,289.81 272.42,289.45" fill="#ff0000"/>
<polygon points="278.80,291.30 279.78,293.15 281.84,293.51 280.38,295.01 280.68,297.09 278.80,296.16 276.92,297.09 277.22,295.01 275.76,293.51 277.82,293.15" fill="#ff0000"/>
<polygon points="284.20,286.90 285.18,288.75 287.24,289.11 285.78,290.61 286.08,292.69 284.20,291.76 282.32,292.69 282.62,290.61 281.16,289.11 283.22,288.75" fill="#ff0000"/>
<polygon points="289.60,290.70 290.58,292.55 292.64,292.91 291.18,294.41 291.48,296.49 289.60,295.56 287.72,296.49 288.02,294.41 286.56,292.91 288.62,292.55" fill="#ff0000"/>
<polygon points="295.00,296.90 295.98,298.75 298.04,299.11 296.58,300.61 296.88,302.69 295.00,301.76 293.12,302.69 293.42,300.61 291.96,299.11 294.02,298.75" fill="#ff0000"/>
<polygon points="300.40,295.70 301.38,297.55 303.44,297.91 301.98,299.41 302.28,301.49 300.40,300.56 298.52,301.49 298.82,299.41 297.36,297.91 299.42,297.55" fill="#ff0000"/>
<polygon points="305.80,295.20 306.78,297.05 308.84,297.41 307.38,298.91 307.68,300.99 305.80,300.06 303.92,300.99 304.22,298.91 302.76,297.41 304.82,297.05" fill="#ff0000"/>
<polygon points="311.20,296.40 312.18,298.25 314.24,298.61 312.78,300.11 313.08,302.19 311.20,301.26 309.32,302.19 309.62,300.11 308.16,298.61 310.22,298.25" fill="#ff0000"/>
<polygon points="316.60,299.20 317.58,301.05 319.64,301.41 318.18,302.91 318.48,304.99 316.60,304.06 314.72,304.99 315.02,302.91 313.56,301.41 315.62,301.05" fill="#ff0000"/>
<polygon points="322.00,299.80 322.98,301.65 325.04,302.01 323.58,303.51 323.88,305.59 322.00,304.66 320.12,305.59 320.42,303.51 318.96,302.01 321.02,301.65" fill="#ff0000"/>
<polygon points="327.40,302.00 328.38,303.85 330.44,304.21 328.98,305.71 329.28,307.79 327.40,306.86 325.52,307.79 325.82,305.71 324.36,304.21 326.42,303.85" fill="#ff0000"/>
<polygon points="332.80,304.20 333.78,306.05 335.84,306.41 334.38,307.91 334.68,309.99 332.80,309.06 330.92,309.99 331.22,307.91 329.76,306.41 331.82,306.05" fill="#ff0000"/>
<polygon points="338.20,306.00 339.18,307.85 341.24,308.21 339.78,309.71 340.08,311.79 338.20,310.86 336.32,311.79 336.62,309.71 335.16,308.21 337.22,307.85" fill="#ff0000"/>
<polygon points="343.60,307.20 344.58,309.05 346.64,309.41 345.18,310.91 345.48,312.99 343.60,312.06 341.72,312.99 342.02,310.91 340.56,309.41 342.62,309.05" fill="#ff0000"/>
<polygon points="349.00,311.80 349.98,313.65 352.04,314.01 350.58,315.51 350.88,317.59 349.00,316.66 347.12,317.59 347.42,315.51 345.96,314.01 348.02,313.65" fill="#ff0000"/>
<line x1="62.30" y1="217.20" x2="138.20" y2="245.20" stroke="#0000ff" stroke-width="1.4"/>
<line x1="62.30" y1="235.00" x2="138.00" y2="260.20" stroke="#ff0000" stroke-width="1.4"/>
<line x1="186.30" y1="262.80" x2="333.80" y2="317.10" stroke="#00bfbf" stroke-width="1.4"/>
<line x1="186.30" y1="269.20" x2="333.80" y2="306.40" stroke="#bf00bf" stroke-width="1.4"/>
</g>
<clipPath id="cl2"><rect x="383.80" y="200.10" width="313.10" height="129.60"/></clipPath>
<g clip-path="url(#cl2)">
<polygon points="384.00,202.90 384.98,204.75 387.04,205.11 385.58,206.61 385.88,208.69 384.00,207.76 382.12,208.69 382.42,206.61 380.96,205.11 383.02,204.75" fill="#0000ff"/>
<polygon points="389.29,205.30 390.27,207.15 392.33,207.51 390.87,209.01 391.17,211.09 389.29,210.16 387.41,211.09 387.71,209.01 386.25,207.51 388.31,207.15" fill="#0000ff"/>
<polygon points="394.58,207.80 395.56,209.65 397.62,210.01 396.16,211.51 396.46,213.59 394.58,212.66 392.70,213.59 393.00,211.51 391.54,210.01 393.60,209.65" fill="#0000ff"/>
<polygon points="399.87,210.90 400.85,212.75 402.91,213.11 401.45,214.61 401.75,216.69 399.87,215.76 397.99,216.69 398.29,214.61 396.83,213.11 398.89,212.75" fill="#0000ff"/>
<polygon points="405.16,212.60 406.14,214.45 408.20,214.81 406.74,216.31 407.04,218.39 405.16,217.46 403.28,218.39 403.58,216.31 402.12,214.81 404.18,214.45" fill="#0000ff"/>
<polygon points="410.45,214.80 411.43,216.65 413.49,217.01 412.03,218.51 412.33,220.59 410.45,219.66 408.57,220.59 408.87,218.51 407.41,217.01 409.47,216.65" fill="#0000ff"/>
<polygon points="415.74,216.50 416.72,218.35 418.78,218.71 417.32,220.21 417.62,222.29 415.74,221.36 413.86,222.29 414.16,220.21 412.70,218.71 414.76,218.35" fill="#0000ff"/>
<polygon points="421.03,218.20 422.01,220.05 424.07,220.41 422.61,221.91 422.91,223.99 421.03,223.06 419.15,223.99 419.45,221.91 417.99,220.41 420.05,220.05" fill="#0000ff"/>
<polygon points="426.32,220.50 427.30,222.35 429.36,222.71 427.90,224.21 428.20,226.29 426.32,225.36 424.44,226.29 424.74,224.21 423.28,222.71 425.34,222.35" fill="#0000ff"/>
<polygon points="431.61,222.40 432.59,224.25 434.65,224.61 433.19,226.11 433.49,228.19 431.61,227.26 429.73,228.19 430.03,226.11 428.57,224.61 430.63,224.25" fill="#0000ff"/>
<polygon points="436.90,223.60 437.88,225.45 439.94,225.81 438.48,227.31 438.78,229.39 436.90,228.46 435.02,229.39 435.32,227.31 433.86,225.81 435.92,225.45" fill="#0000ff"/>
<polygon points="442.19,226.40 443.17,228.25 445.23,228.61 443.77,230.11 444.07,232.19 442.19,231.26 440.31,232.19 440.61,230.11 439.15,228.61 441.21,228.25" fill="#0000ff"/>
<polygon points="447.48,228.60 448.46,230.45 450.52,230.81 449.06,232.31 449.36,234.39 447.48,233.46 445.60,234.39 445.90,232.31 444.44,230.81 446.50,230.45" fill="#0000ff"/>
<polygon points="452.77,230.30 453.75,232.15 455.81,232.51 454.35,234.01 454.65,236.09 452.77,235.16 450.89,236.09 451.19,234.01 449.73,232.51 451.79,232.15" fill="#0000ff"/>
<polygon points="458.06,232.00 459.04,233.85 461.10,234.21 459.64,235.71 459.94,237.79 458.06,236.86 456.18,237.79 456.48,235.71 455.02,234.21 457.08,233.85" fill="#0000ff"/>
<polygon points="463.35,234.20 464.33,236.05 466.39,236.41 464.93,237.91 465.23,239.99 463.35,239.06 461.47,239.99 461.77,237.91 460.31,236.41 462.37,236.05" fill="#0000ff"/>
<polygon points="468.64,235.90 469.62,237.75 471.68,238.11 470.22,239.61 470.52,241.69 468.64,240.76 466.76,241.69 467.06,239.61 465.60,238.11 467.66,237.75" fill="#0000ff"/>
<polygon points="473.93,237.60 474.91,239.45 476.97,239.81 475.51,241.31 475.81,243.39 473.93,242.46 472.05,243.39 472.35,241.31 470.89,239.81 472.95,239.45" fill="#0000ff"/>
<polygon points="479.22,239.30 480.20,241.15 482.26,241.51 480.80,243.01 481.10,245.09 479.22,244.16 477.34,245.09 477.64,243.01 476.18,241.51 478.24,241.15" fill="#0000ff"/>
<polygon points="484.51,241.00 485.49,242.85 487.55,243.21 486.09,244.71 486.39,246.79 484.51,245.86 482.63,246.79 482.93,244.71 481.47,243.21 483.53,242.85" fill="#0000ff"/>
<polygon points="489.80,243.00 490.78,244.85 492.84,245.21 491.38,246.71 491.68,248.79 489.80,247.86 487.92,248.79 488.22,246.71 486.76,245.21 488.82,244.85" fill="#0000ff"/>
<polygon points="495.09,245.90 496.07,247.75 498.13,248.11 496.67,249.61 496.97,251.69 495.09,250.76 493.21,251.69 493.51,249.61 492.05,248.11 494.11,247.75" fill="#0000ff"/>
<polygon points="500.38,247.60 501.36,249.45 503.42,249.81 501.96,251.31 502.26,253.39 500.38,252.46 498.50,253.39 498.80,251.31 497.34,249.81 499.40,249.45" fill="#0000ff"/>
<polygon points="505.67,249.80 506.65,251.65 508.71,252.01 507.25,253.51 507.55,255.59 505.67,254.66 503.79,255.59 504.09,253.51 502.63,252.01 504.69,251.65" fill="#0000ff"/>
<polygon points="510.96,251.50 511.94,253.35 514.00,253.71 512.54,255.21 512.84,257.29 510.96,256.36 509.08,257.29 509.38,255.21 507.92,253.71 509.98,253.35" fill="#0000ff"/>
<polygon points="516.25,253.20 517.23,255.05 519.29,255.41 517.83,256.91 518.13,258.99 516.25,258.06 514.37,258.99 514.67,256.91 513.21,255.41 515.27,255.05" fill="#0000ff"/>
<polygon points="521.54,255.40 522.52,257.25 524.58,257.61 523.12,259.11 523.42,261.19 521.54,260.26 519.66,261.19 519.96,259.11 518.50,257.61 520.56,257.25" fill="#0000ff"/>
<polygon points="526.83,257.40 527.81,259.25 529.87,259.61 528.41,261.11 528.71,263.19 526.83,262.26 524.95,263.19 525.25,261.11 523.79,259.61 525.85,259.25" fill="#0000ff"/>
<polygon points="532.12,260.60 533.10,262.45 535.16,262.81 533.70,264.31 534.00,266.39 532.12,265.46 530.24,266.39 530.54,264.31 529.08,262.81 531.14,262.45" fill="#0000ff"/>
<polygon points="537.41,262.60 538.39,264.45 540.45,264.81 538.99,266.31 539.29,268.39 537.41,267.46 535.53,268.39 535.83,266.31 534.37,264.81 536.43,264.45" fill="#0000ff"/>
<polygon points="542.70,263.50 543.68,265.35 545.74,265.71 544.28,267.21 544.58,269.29 542.70,268.36 540.82,269.29 541.12,267.21 539.66,265.71 541.72,265.35" fill="#0000ff"/>
<polygon points="547.99,264.30 548.97,266.15 551.03,266.51 549.57,268.01 549.87,270.09 547.99,269.16 546.11,270.09 546.41,268.01 544.95,266.51 547.01,266.15" fill="#0000ff"/>
<polygon points="553.28,266.30 554.26,268.15 556.32,268.51 554.86,270.01 555.16,272.09 553.28,271.16 551.40,272.09 551.70,270.01 550.24,268.51 552.30,268.15" fill="#0000ff"/>
<polygon points="558.57,268.50 559.55,270.35 561.61,270.71 560.15,272.21 560.45,274.29 558.57,273.36 556.69,274.29 556.99,272.21 555.53,270.71 557.59,270.35" fill="#0000ff"/>
<polygon points="563.86,271.90 564.84,273.75 566.90,274.11 565.44,275.61 565.74,277.69 563.86,276.76 561.98,277.69 562.28,275.61 560.82,274.11 562.88,273.75" fill="#0000ff"/>
<polygon points="569.15,275.60 570.13,277.45 572.19,277.81 570.73,279.31 571.03,281.39 569.15,280.46 567.27,281.39 567.57,279.31 566.11,277.81 568.17,277.45" fill="#0000ff"/>
<polygon points="574.44,278.20 575.42,280.05 577.48,280.41 576.02,281.91 576.32,283.99 574.44,283.06 572.56,283.99 572.86,281.91 571.40,280.41 573.46,280.05" fill="#0000ff"/>
<polygon points="579.73,278.70 580.71,280.55 582.77,280.91 581.31,282.41 581.61,284.49 579.73,283.56 577.85,284.49 578.15,282.41 576.69,280.91 578.75,280.55" fill="#0000ff"/>
<polygon points="585.02,277.30 586.00,279.15 588.06,279.51 586.60,281.01 586.90,283.09 585.02,282.16 583.14,283.09 583.44,281.01 581.98,279.51 584.04,279.15" fill="#0000ff"/>
<polygon points="590.31,279.00 591.29,280.85 593.35,281.21 591.89,282.71 592.19,284.79 590.31,283.86 588.43,284.79 588.73,282.71 587.27,281.21 589.33,280.85" fill="#0000ff"/>
<polygon points="595.60,282.40 596.58,284.25 598.64,284.61 597.18,286.11 597.48,288.19 595.60,287.26 593.72,288.19 594.02,286.11 592.56,284.61 594.62,284.25" fill="#0000ff"/>
<polygon points="600.89,283.90 601.87,285.75 603.93,286.11 602.47,287.61 602.77,289.69 600.89,288.76 599.01,289.69 599.31,287.61 597.85,286.11 599.91,285.75" fill="#0000ff"/>
<polygon points="606.18,286.90 607.16,288.75 609.22,289.11 607.76,290.61 608.06,292.69 606.18,291.76 604.30,292.69 604.60,290.61 603.14,289.11 605.20,288.75" fill="#0000ff"/>
<polygon points="611.47,286.80 612.45,288.65 614.51,289.01 613.05,290.51 613.35,292.59 611.47,291.66 609.59,292.59 609.89,290.51 608.43,289.01 610.49,288.65" fill="#0000ff"/>
<polygon points="616.76,288.90 617.74,290.75 619.80,291.11 618.34,292.61 618.64,294.69 616.76,293.76 614.88,294.69 615.18,292.61 613.72,291.11 615.78,290.75" fill="#0000ff"/>
<polygon points="622.05,294.60 623.03,296.45 625.09,296.81 623.63,298.31 623.93,300.39 622.05,299.46 620.17,300.39 620.47,298.31 619.01,296.81 621.07,296.45" fill="#0000ff"/>
<polygon points="627.34,297.30 628.32,299.15 630.38,299.51 628.92,301.01 629.22,303.09 627.34,302.16 625.46,303.09 625.76,301.01 624.30,299.51 626.36,299.15" fill="#0000ff"/>
<polygon points="632.63,299.90 633.61,301.75 635.67,302.11 634.21,303.61 634.51,305.69 632.63,304.76 630.75,305.69 631.05,303.61 629.59,302.11 631.65,301.75" fill="#0000ff"/>
<polygon points="637.92,298.20 638.90,300.05 640.96,300.41 639.50,301.91 639.80,303.99 637.92,303.06 636.04,303.99 636.34,301.91 634.88,300.41 636.94,300.05" fill="#0000ff"/>
<polygon points="643.21,296.70 644.19,298.55 646.25,298.91 644.79,300.41 645.09,302.49 643.21,301.56 641.33,302.49 641.63,300.41 640.17,298.91 642.23,298.55" fill="#0000ff"/>
<polygon points="648.50,299.90 649.48,301.75 651.54,302.11 650.08,303.61 650.38,305.69 648.50,304.76 646.62,305.69 646.92,303.61 645.46,302.11 647.52,301.75" fill="#0000ff"/>
<polygon points="653.79,302.60 654.77,304.45 656.83,304.81 655.37,306.31 655.67,308.39 653.79,307.46 651.91,308.39 652.21,306.31 650.75,304.81 652.81,304.45" fill="#0000ff"/>
<polygon points="659.08,307.30 660.06,309.15 662.12,309.51 660.66,311.01 660.96,313.09 659.08,312.16 657.20,313.09 657.50,311.01 656.04,309.51 658.10,309.15" fill="#0000ff"/>
<polygon points="664.37,310.80 665.35,312.65 667.41,313.01 665.95,314.51 666.25,316.59 664.37,315.66 662.49,316.59 662.79,314.51 661.33,313.01 663.39,312.65" fill="#0000ff"/>
<polygon points="669.66,312.50 670.64,314.35 672.70,314.71 671.24,316.21 671.54,318.29 669.66,317.36 667.78,318.29 668.08,316.21 666.62,314.71 668.68,314.35" fill="#0000ff"/>
<polygon points="674.95,312.50 675.93,314.35 677.99,314.71 676.53,316.21 676.83,318.29 674.95,317.36 673.07,318.29 673.37,316.21 671.91,314.71 673.97,314.35" fill="#0000ff"/>
<polygon points="680.24,314.20 681.22,316.05 683.28,316.41 681.82,317.91 682.12,319.99 680.24,319.06 678.36,319.99 678.66,317.91 677.20,316.41 679.26,316.05" fill="#0000ff"/>
<polygon points="685.53,315.70 686.51,317.55 688.57,317.91 687.11,319.41 687.41,321.49 685.53,320.56 683.65,321.49 683.95,319.41 682.49,317.91 684.55,317.55" fill="#0000ff"/>
<polygon points="690.82,318.50 691.80,320.35 693.86,320.71 692.40,322.21 692.70,324.29 690.82,323.36 688.94,324.29 689.24,322.21 687.78,320.71 689.84,320.35" fill="#0000ff"/>
<polygon points="696.11,321.00 697.09,322.85 699.15,323.21 697.69,324.71 697.99,326.79 696.11,325.86 694.23,326.79 694.53,324.71 693.07,323.21 695.13,322.85" fill="#0000ff"/>
<polygon points="384.00,225.30 384.98,227.15 387.04,227.51 385.58,229.01 385.88,231.09 384.00,230.16 382.12,231.09 382.42,229.01 380.96,227.51 383.02,227.15" fill="#ff0000"/>
<polygon points="389.29,231.70 390.27,233.55 392.33,233.91 390.87,235.41 391.17,237.49 389.29,236.56 387.41,237.49 387.71,235.41 386.25,233.91 388.31,233.55" fill="#ff0000"/>
<polygon points="394.58,228.60 395.56,230.45 397.62,230.81 396.16,232.31 396.46,234.39 394.58,233.46 392.70,234.39 393.00,232.31 391.54,230.81 393.60,230.45" fill="#ff0000"/>
<polygon points="399.87,222.40 400.85,224.25 402.91,224.61 401.45,226.11 401.75,228.19 399.87,227.26 397.99,228.19 398.29,226.11 396.83,224.61 398.89,224.25" fill="#ff0000"/>
<polygon points="405.16,222.70 406.14,224.55 408.20,224.91 406.74,226.41 407.04,228.49 405.16,227.56 403.28,228.49 403.58,226.41 402.12,224.91 404.18,224.55" fill="#ff0000"/>
<polygon points="410.45,223.60 411.43,225.45 413.49,225.81 412.03,227.31 412.33,229.39 410.45,228.46 408.57,229.39 408.87,227.31 407.41,225.81 409.47,225.45" fill="#ff0000"/>
<polygon points="415.74,226.60 416.72,228.45 418.78,228.81 417.32,230.31 417.62,232.39 415.74,231.46 413.86,232.39 414.16,230.31 412.70,228.81 414.76,228.45" fill="#ff0000"/>
<polygon points="421.03,227.30 422.01,229.15 424.07,229.51 422.61,231.01 422.91,233.09 421.03,232.16 419.15,233.09 419.45,231.01 417.99,229.51 420.05,229.15" fill="#ff0000"/>
<polygon points="426.32,234.20 427.30,236.05 429.36,236.41 427.90,237.91 428.20,239.99 426.32,239.06 424.44,239.99 424.74,237.91 423.28,236.41 425.34,236.05" fill="#ff0000"/>
<polygon points="431.61,243.90 432.59,245.75 434.65,246.11 433.19,247.61 433.49,249.69 431.61,248.76 429.73,249.69 430.03,247.61 428.57,246.11 430.63,245.75" fill="#ff0000"/>
<polygon points="436.90,239.30 437.88,241.15 439.94,241.51 438.48,243.01 438.78,245.09 436.90,244.16 435.02,245.09 435.32,243.01 433.86,241.51 435.92,241.15" fill="#ff0000"/>
<polygon points="442.19,247.80 443.17,249.65 445.23,250.01 443.77,251.51 444.07,253.59 442.19,252.66 440.31,253.59 440.61,251.51 439.15,250.01 441.21,249.65" fill="#ff0000"/>
<polygon points="447.48,245.10 448.46,246.95 450.52,247.31 449.06,248.81 449.36,250.89 447.48,249.96 445.60,250.89 445.90,248.81 444.44,247.31 446.50,246.95" fill="#ff0000"/>
<polygon points="452.77,243.90 453.75,245.75 455.81,246.11 454.35,247.61 454.65,249.69 452.77,248.76 450.89,249.69 451.19,247.61 449.73,246.11 451.79,245.75" fill="#ff0000"/>
<polygon points="458.06,249.10 459.04,250.95 461.10,251.31 459.64,252.81 459.94,254.89 458.06,253.96 456.18,254.89 456.48,252.81 455.02,251.31 457.08,250.95" fill="#ff0000"/>
<polygon points="463.35,257.40 464.33,259.25 466.39,259.61 464.93,261.11 465.23,263.19 463.35,262.26 461.47,263.19 461.77,261.11 460.31,259.61 462.37,259.25" fill="#ff0000"/>
<polygon points="468.64,258.80 469.62,260.65 471.68,261.01 470.22,262.51 470.52,264.59 468.64,263.66 466.76,264.59 467.06,262.51 465.60,261.01 467.66,260.65" fill="#ff0000"/>
<polygon points="473.93,254.90 474.91,256.75 476.97,257.11 475.51,258.61 475.81,260.69 473.93,259.76 472.05,260.69 472.35,258.61 470.89,257.11 472.95,256.75" fill="#ff0000"/>
<polygon points="479.22,255.40 480.20,257.25 482.26,257.61 480.80,259.11 481.10,261.19 479.22,260.26 477.34,261.19 477.64,259.11 476.18,257.61 478.24,257.25" fill="#ff0000"/>
<polygon points="484.51,254.90 485.49,256.75 487.55,257.11 486.09,258.61 486.39,260.69 484.51,259.76 482.63,260.69 482.93,258.61 481.47,257.11 483.53,256.75" fill="#ff0000"/>
<polygon points="489.80,258.30 490.78,260.15 492.84,260.51 491.38,262.01 491.68,264.09 489.80,263.16 487.92,264.09 488.22,262.01 486.76,260.51 488.82,260.15" fill="#ff0000"/>
<polygon points="495.09,256.60 496.07,258.45 498.13,258.81 496.67,260.31 496.97,262.39 495.09,261.46 493.21,262.39 493.51,260.31 492.05,258.81 494.11,258.45" fill="#ff0000"/>
<polygon points="500.38,249.50 501.36,251.35 503.42,251.71 501.96,253.21 502.26,255.29 500.38,254.36 498.50,255.29 498.80,253.21 497.34,251.71 499.40,251.35" fill="#ff0000"/>
<polygon points="505.67,254.40 506.65,256.25 508.71,256.61 507.25,258.11 507.55,260.19 505.67,259.26 503.79,260.19 504.09,258.11 502.63,256.61 504.69,256.25" fill="#ff0000"/>
<polygon points="510.96,258.80 511.94,260.65 514.00,261.01 512.54,262.51 512.84,264.59 510.96,263.66 509.08,264.59 509.38,262.51 507.92,261.01 509.98,260.65" fill="#ff0000"/>
<polygon points="516.25,261.60 517.23,263.45 519.29,263.81 517.83,265.31 518.13,267.39 516.25,266.46 514.37,267.39 514.67,265.31 513.21,263.81 515.27,263.45" fill="#ff0000"/>
<polygon points="521.54,261.60 522.52,263.45 524.58,263.81 523.12,265.31 523.42,267.39 521.54,266.46 519.66,267.39 519.96,265.31 518.50,263.81 520.56,263.45" fill="#ff0000"/>
<polygon points="526.83,260.50 527.81,262.35 529.87,262.71 528.41,264.21 528.71,266.29 526.83,265.36 524.95,266.29 525.25,264.21 523.79,262.71 525.85,262.35" fill="#ff0000"/>
<polygon points="532.12,258.10 533.10,259.95 535.16,260.31 533.70,261.81 534.00,263.89 532.12,262.96 530.24,263.89 530.54,261.81 529.08,260.31 531.14,259.95" fill="#ff0000"/>
<polygon points="537.41,259.60 538.39,261.45 540.45,261.81 538.99,263.31 539.29,265.39 537.41,264.46 535.53,265.39 535.83,263.31 534.37,261.81 536.43,261.45" fill="#ff0000"/>
<polygon points="542.70,263.00 543.68,264.85 545.74,265.21 544.28,266.71 544.58,268.79 542.70,267.86 540.82,268.79 541.12,266.71 539.66,265.21 541.72,264.85" fill="#ff0000"/>
<polygon points="547.99,265.50 548.97,267.35 551.03,267.71 549.57,269.21 549.87,271.29 547.99,270.36 546.11,271.29 546.41,269.21 544.95,267.71 547.01,267.35" fill="#ff0000"/>
<polygon points="553.28,263.80 554.26,265.65 556.32,266.01 554.86,267.51 555.16,269.59 553.28,268.66 551.40,269.59 551.70,267.51 550.24,266.01 552.30,265.65" fill="#ff0000"/>
<polygon points="558.57,265.20 559.55,267.05 561.61,267.41 560.15,268.91 560.45,270.99 558.57,270.06 556.69,270.99 556.99,268.91 555.53,267.41 557.59,267.05" fill="#ff0000"/>
<polygon points="563.86,266.80 564.84,268.65 566.90,269.01 565.44,270.51 565.74,272.59 563.86,271.66 561.98,272.59 562.28,270.51 560.82,269.01 562.88,268.65" fill="#ff0000"/>
<polygon points="569.15,266.80 570.13,268.65 572.19,269.01 570.73,270.51 571.03,272.59 569.15,271.66 567.27,272.59 567.57,270.51 566.11,269.01 568.17,268.65" fill="#ff0000"/>
<polygon points="574.44,268.00 575.42,269.85 577.48,270.21 576.02,271.71 576.32,273.79 574.44,272.86 572.56,273.79 572.86,271.71 571.40,270.21 573.46,269.85" fill="#ff0000"/>
<polygon points="579.73,269.70 580.71,271.55 582.77,271.91 581.31,273.41 581.61,275.49 579.73,274.56 577.85,275.49 578.15,273.41 576.69,271.91 578.75,271.55" fill="#ff0000"/>
<polygon points="585.02,271.40 586.00,273.25 588.06,273.61 586.60,275.11 586.90,277.19 585.02,276.26 583.14,277.19 583.44,275.11 581.98,273.61 584.04,273.25" fill="#ff0000"/>
<polygon points="590.31,272.30 591.29,274.15 593.35,274.51 591.89,276.01 592.19,278.09 590.31,277.16 588.43,278.09 588.73,276.01 587.27,274.51 589.33,274.15" fill="#ff0000"/>
<polygon points="595.60,273.10 596.58,274.95 598.64,275.31 597.18,276.81 597.48,278.89 595.60,277.96 593.72,278.89 594.02,276.81 592.56,275.31 594.62,274.95" fill="#ff0000"/>
<polygon points="600.89,274.80 601.87,276.65 603.93,277.01 602.47,278.51 602.77,280.59 600.89,279.66 599.01,280.59 599.31,278.51 597.85,277.01 599.91,276.65" fill="#ff0000"/>
<polygon points="606.18,278.90 607.16,280.75 609.22,281.11 607.76,282.61 608.06,284.69 606.18,283.76 604.30,284.69 604.60,282.61 603.14,281.11 605.20,280.75" fill="#ff0000"/>
<polygon points="611.47,280.40 612.45,282.25 614.51,282.61 613.05,284.11 613.35,286.19 611.47,285.26 609.59,286.19 609.89,284.11 608.43,282.61 610.49,282.25" fill="#ff0000"/>
<polygon points="616.76,281.50 617.74,283.35 619.80,283.71 618.34,285.21 618.64,287.29 616.76,286.36 614.88,287.29 615.18,285.21 613.72,283.71 615.78,283.35" fill="#ff0000"/>
<polygon points="622.05,282.90 623.03,284.75 625.09,285.11 623.63,286.61 623.93,288.69 622.05,287.76 620.17,288.69 620.47,286.61 619.01,285.11 621.07,284.75" fill="#ff0000"/>
<polygon points="627.34,288.90 628.32,290.75 630.38,291.11 628.92,292.61 629.22,294.69 627.34,293.76 625.46,294.69 625.76,292.61 624.30,291.11 626.36,290.75" fill="#ff0000"/>
<polygon points="632.63,293.50 633.61,295.35 635.67,295.71 634.21,297.21 634.51,299.29 632.63,298.36 630.75,299.29 631.05,297.21 629.59,295.71 631.65,295.35" fill="#ff0000"/>
<polygon points="637.92,295.60 638.90,297.45 640.96,297.81 639.50,299.31 639.80,301.39 637.92,300.46 636.04,301.39 636.34,299.31 634.88,297.81 636.94,297.45" fill="#ff0000"/>
<polygon points="643.21,297.30 644.19,299.15 646.25,299.51 644.79,301.01 645.09,303.09 643.21,302.16 641.33,303.09 641.63,301.01 640.17,299.51 642.23,299.15" fill="#ff0000"/>
<polygon points="648.50,293.50 649.48,295.35 651.54,295.71 650.08,297.21 650.38,299.29 648.50,298.36 646.62,299.29 646.92,297.21 645.46,295.71 647.52,295.35" fill="#ff0000"/>
<polygon points="653.79,295.60 654.77,297.45 656.83,297.81 655.37,299.31 655.67,301.39 653.79,300.46 651.91,301.39 652.21,299.31 650.75,297.81 652.81,297.45" fill="#ff0000"/>
<polygon points="659.08,299.90 660.06,301.75 662.12,302.11 660.66,303.61 660.96,305.69 659.08,304.76 657.20,305.69 657.50,303.61 656.04,302.11 658.10,301.75" fill="#ff0000"/>
<polygon points="664.37,299.40 665.35,301.25 667.41,301.61 665.95,303.11 666.25,305.19 664.37,304.26 662.49,305.19 662.79,303.11 661.33,301.61 663.39,301.25" fill="#ff0000"/>
<polygon points="669.66,304.10 670.64,305.95 672.70,306.31 671.24,307.81 671.54,309.89 669.66,308.96 667.78,309.89 668.08,307.81 666.62,306.31 668.68,305.95" fill="#ff0000"/>
<polygon points="674.95,303.00 675.93,304.85 677.99,305.21 676.53,306.71 676.83,308.79 674.95,307.86 673.07,308.79 673.37,306.71 671.91,305.21 673.97,304.85" fill="#ff0000"/>
<polygon points="680.24,307.30 681.22,309.15 683.28,309.51 681.82,311.01 682.12,313.09 680.24,312.16 678.36,313.09 678.66,311.01 677.20,309.51 679.26,309.15" fill="#ff0000"/>
<polygon points="685.53,306.60 686.51,308.45 688.57,308.81 687.11,310.31 687.41,312.39 685.53,311.46 683.65,312.39 683.95,310.31 682.49,308.81 684.55,308.45" fill="#ff0000"/>
<polygon points="690.82,307.30 691.80,309.15 693.86,309.51 692.40,311.01 692.70,313.09 690.82,312.16 688.94,313.09 689.24,311.01 687.78,309.51 689.84,309.15" fill="#ff0000"/>
<polygon points="696.11,306.80 697.09,308.65 699.15,309.01 697.69,310.51 697.99,312.59 696.11,311.66 694.23,312.59 694.53,310.51 693.07,309.01 695.13,308.65" fill="#ff0000"/>
<line x1="494.30" y1="248.80" x2="680.30" y2="317.40" stroke="#00bfbf" stroke-width="1.4"/>
<line x1="494.30" y1="252.10" x2="680.30" y2="305.80" stroke="#bf00bf" stroke-width="1.4"/>
</g>
<rect x="262.40" y="203.30" width="83.20" height="49.90" rx="1.5" fill="#fff" fill-opacity="0.8" stroke="#d0d0d0" stroke-width="0.8"/>
<line x1="264.60" y1="209.10" x2="281.70" y2="209.10" stroke="#00bfbf" stroke-width="1.4"/>
<text x="287.50" y="211.80" font-size="8.3" text-anchor="start" textLength="54.50" lengthAdjust="spacingAndGlyphs">hr_disk= 3.51</text>
<line x1="264.60" y1="221.30" x2="281.70" y2="221.30" stroke="#bf00bf" stroke-width="1.4"/>
<text x="287.50" y="224.00" font-size="8.3" text-anchor="start" textLength="54.50" lengthAdjust="spacingAndGlyphs">hr_arm= 5.05</text>
<line x1="264.60" y1="233.50" x2="281.70" y2="233.50" stroke="#0000ff" stroke-width="1.4"/>
<text x="287.50" y="236.20" font-size="8.3" text-anchor="start" textLength="54.50" lengthAdjust="spacingAndGlyphs">hr_disk= 3.51</text>
<line x1="264.60" y1="245.70" x2="281.70" y2="245.70" stroke="#ff0000" stroke-width="1.4"/>
<text x="287.50" y="248.40" font-size="8.3" text-anchor="start" textLength="54.50" lengthAdjust="spacingAndGlyphs">hr_arm= 3.85</text>
<rect x="608.40" y="204.20" width="84.10" height="25.10" rx="1.5" fill="#fff" fill-opacity="0.8" stroke="#d0d0d0" stroke-width="0.8"/>
<line x1="610.90" y1="210.40" x2="627.70" y2="210.40" stroke="#00bfbf" stroke-width="1.4"/>
<text x="633.70" y="213.10" font-size="8.3" text-anchor="start" textLength="55.30" lengthAdjust="spacingAndGlyphs">Disk_re= 3.51</text>
<line x1="610.90" y1="222.20" x2="627.70" y2="222.20" stroke="#bf00bf" stroke-width="1.4"/>
<text x="633.70" y="224.90" font-size="8.3" text-anchor="start" textLength="55.30" lengthAdjust="spacingAndGlyphs">Arm_re= 4.45</text>
</svg></div></body></html>
